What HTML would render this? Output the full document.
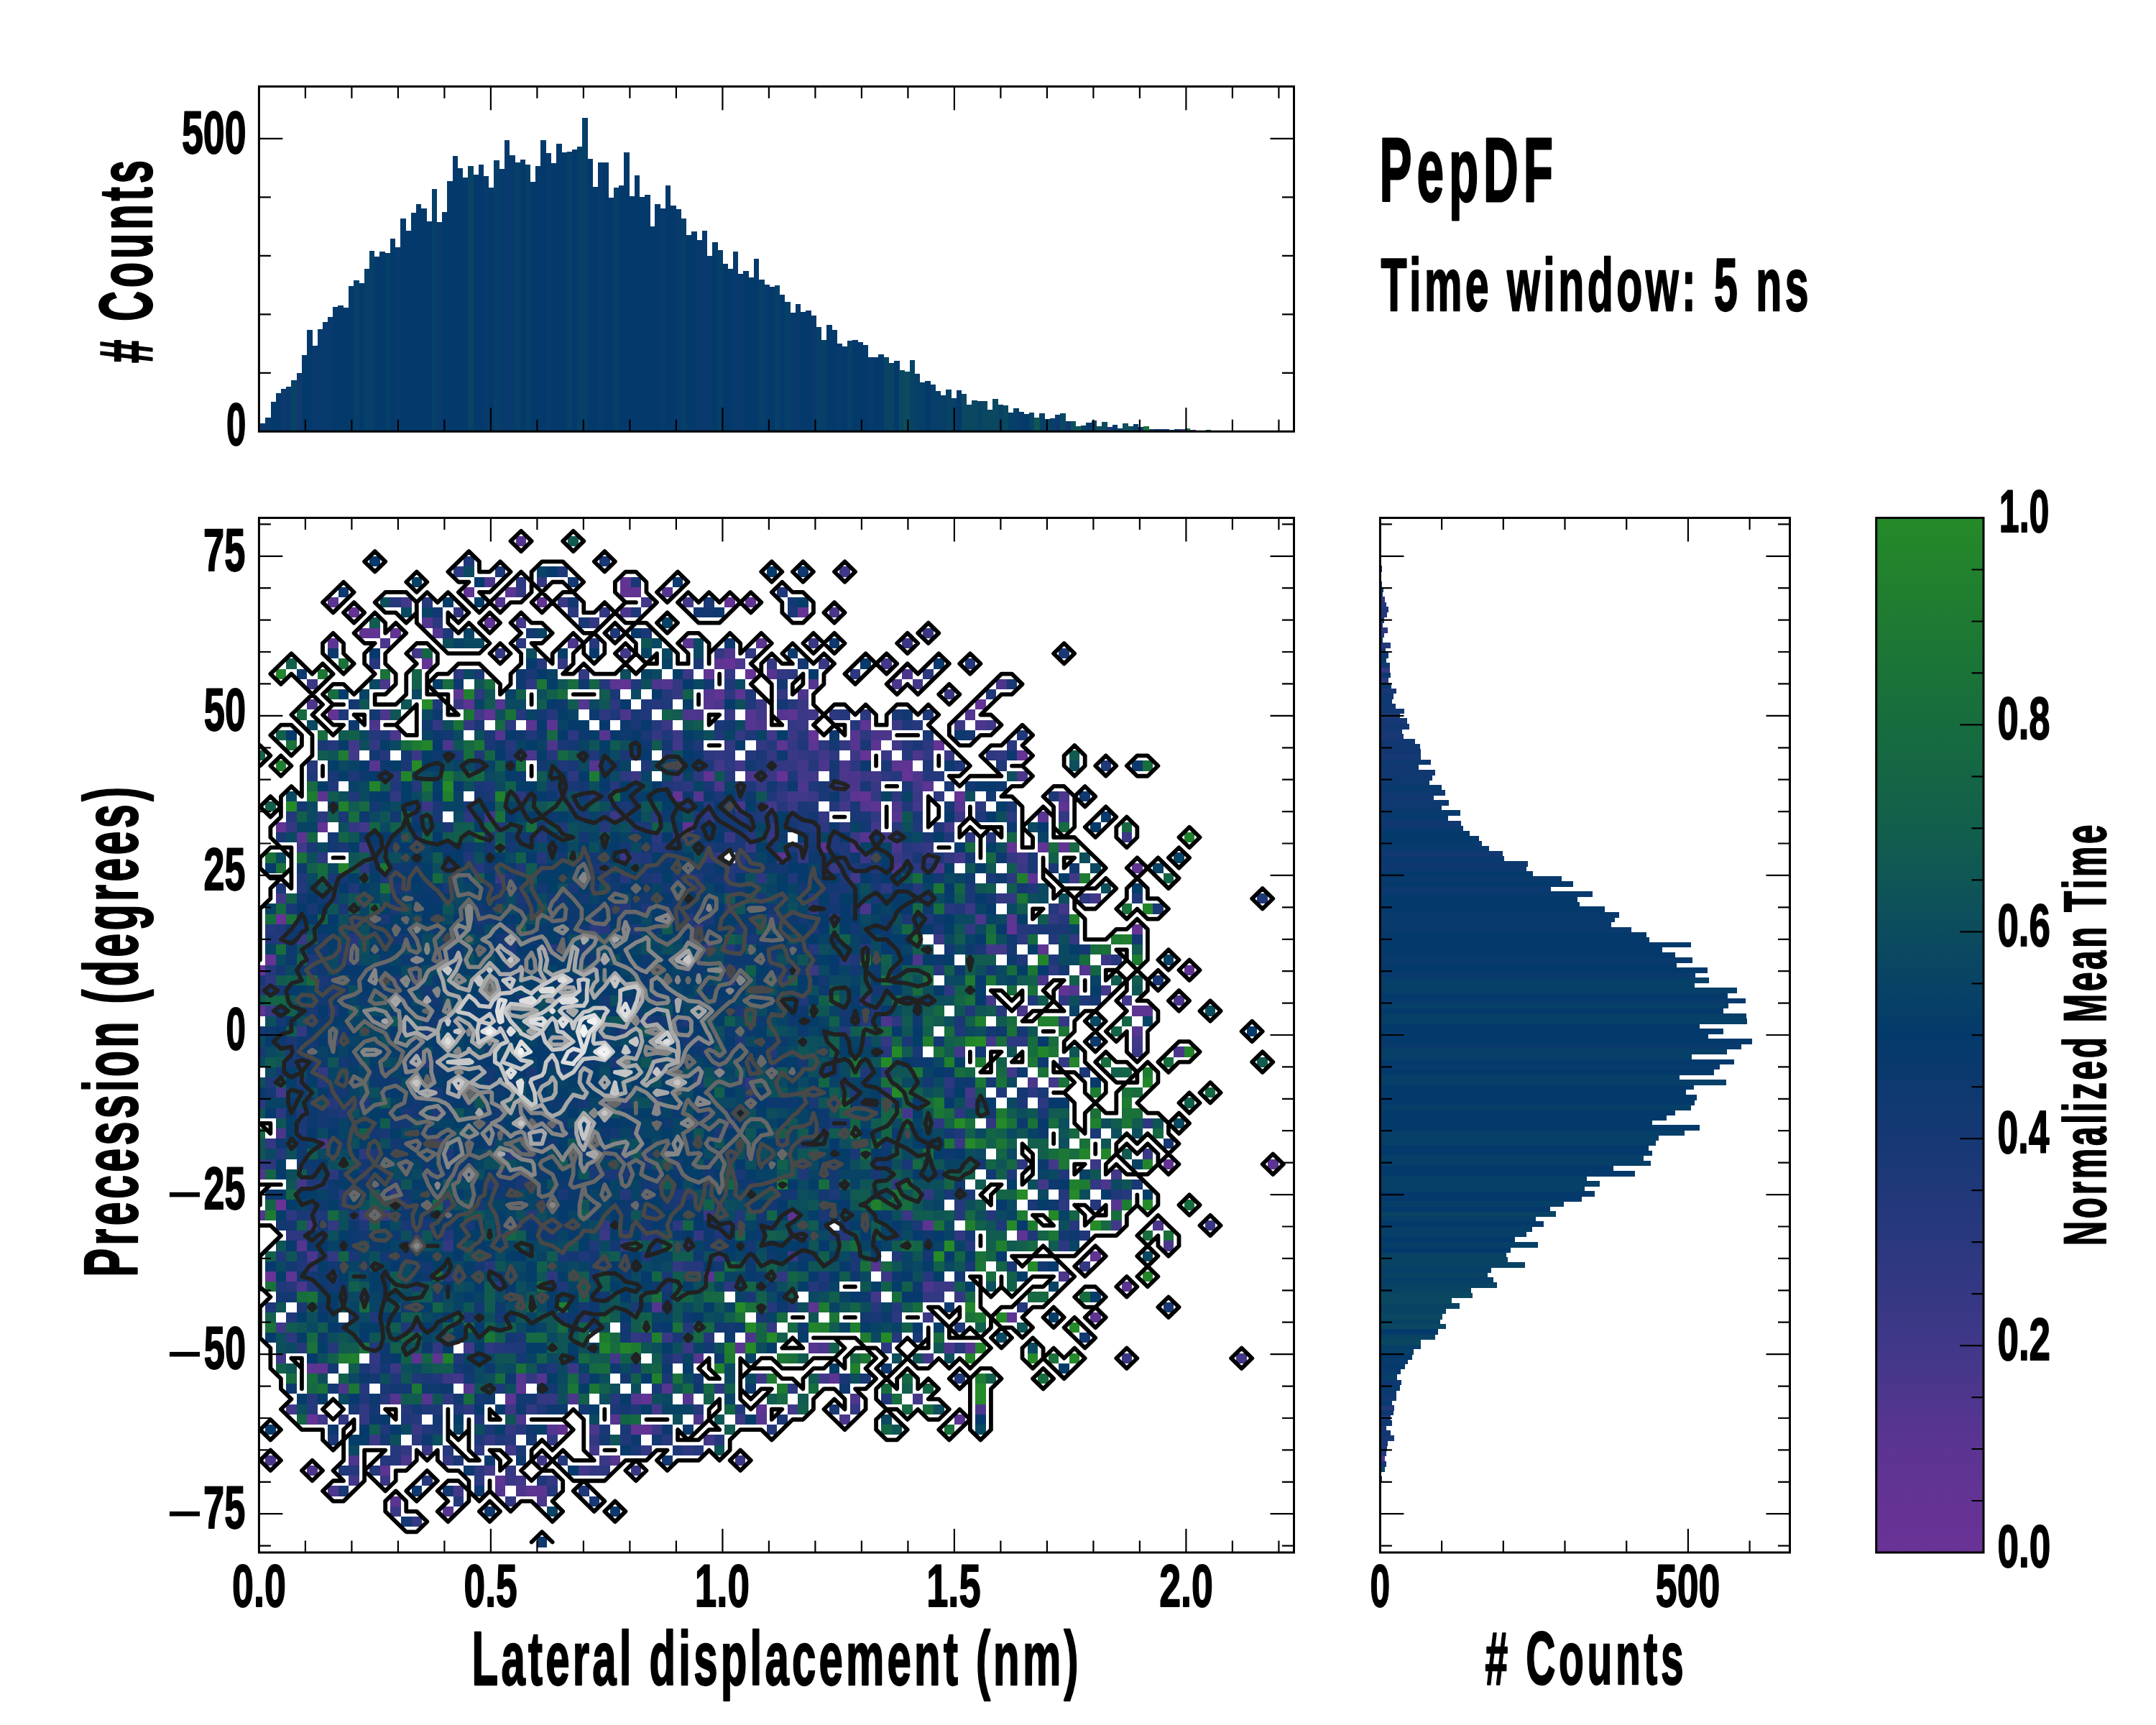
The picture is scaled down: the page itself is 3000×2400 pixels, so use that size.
<!DOCTYPE html><html><head><meta charset="utf-8"><style>html,body{margin:0;padding:0;background:#fff;overflow:hidden}svg{display:block}text{font-family:"Liberation Sans", sans-serif;font-weight:bold;fill:#000;stroke:#000;stroke-linejoin:round}</style></head><body>
<svg width="3000" height="2400" viewBox="0 0 3000 2400">
<rect width="3000" height="2400" fill="#fff"/>
<path fill="#0d3970" shape-rendering="crispEdges" d="M362.0 588.8H369.5V600.3H362.0ZM390.9 541.0H398.4V600.3H390.9ZM1468.0 577.1H1475.6V600.3H1468.0ZM1583.7 594.2H1591.2V600.3H1583.7Z"/>
<path fill="#093a6d" shape-rendering="crispEdges" d="M369.2 580.5H376.8V600.3H369.2ZM398.1 537.9H405.7V600.3H398.1ZM434.3 480.9H441.8V600.3H434.3ZM441.5 458.1H449.0V600.3H441.5ZM448.7 448.3H456.3V600.3H448.7ZM456.0 440.8H463.5V600.3H456.0ZM550.0 343.7H557.5V600.3H550.0ZM607.8 308.9H615.3V600.3H607.8ZM672.8 245.2H680.4V600.3H672.8ZM694.5 234.9H702.1V600.3H694.5ZM701.8 194.8H709.3V600.3H701.8ZM709.0 216.0H716.5V600.3H709.0ZM759.6 213.2H767.1V600.3H759.6ZM831.9 226.0H839.4V600.3H831.9ZM918.6 290.0H926.2V600.3H918.6ZM940.3 291.1H947.8V600.3H940.3ZM969.2 334.0H976.8V600.3H969.2ZM976.5 321.2H984.0V600.3H976.5ZM983.7 355.9H991.2V600.3H983.7ZM1019.8 350.1H1027.4V600.3H1019.8ZM1027.1 381.0H1034.6V600.3H1027.1ZM1063.2 396.0H1070.7V600.3H1063.2ZM1099.4 435.0H1106.9V600.3H1099.4ZM1106.6 423.0H1114.1V600.3H1106.6ZM1128.3 439.1H1135.8V600.3H1128.3ZM1164.4 478.1H1171.9V600.3H1164.4ZM1207.8 497.0H1215.3V600.3H1207.8ZM1417.4 573.0H1425.0V600.3H1417.4ZM1554.8 596.3H1562.3V600.3H1554.8Z"/>
<path fill="#043a6b" shape-rendering="crispEdges" d="M376.5 558.8H384.0V600.3H376.5ZM383.7 547.1H391.2V600.3H383.7ZM419.8 494.2H427.4V600.3H419.8ZM427.1 458.9H434.6V600.3H427.1ZM463.2 426.9H470.7V600.3H463.2ZM470.4 425.2H478.0V600.3H470.4ZM477.7 427.5H485.2V600.3H477.7ZM484.9 397.7H492.4V600.3H484.9ZM499.4 394.1H506.9V600.3H499.4ZM521.0 356.8H528.6V600.3H521.0ZM528.3 350.1H535.8V600.3H528.3ZM542.7 332.0H550.3V600.3H542.7ZM557.2 303.9H564.7V600.3H557.2ZM564.4 320.9H571.9V600.3H564.4ZM571.6 295.8H579.2V600.3H571.6ZM578.9 284.2H586.4V600.3H578.9ZM586.1 290.0H593.6V600.3H586.1ZM593.3 308.1H600.9V600.3H593.3ZM615.0 295.0H622.5V600.3H615.0ZM622.2 252.2H629.8V600.3H622.2ZM629.5 217.1H637.0V600.3H629.5ZM636.7 233.8H644.2V600.3H636.7ZM643.9 246.9H651.5V600.3H643.9ZM658.4 242.7H665.9V600.3H658.4ZM665.6 229.1H673.1V600.3H665.6ZM680.1 261.1H687.6V600.3H680.1ZM723.5 222.1H731.0V600.3H723.5ZM737.9 253.0H745.4V600.3H737.9ZM745.1 231.0H752.7V600.3H745.1ZM752.4 195.1H759.9V600.3H752.4ZM766.8 226.8H774.4V600.3H766.8ZM774.1 200.1H781.6V600.3H774.1ZM781.3 211.8H788.8V600.3H781.3ZM795.7 208.2H803.3V600.3H795.7ZM817.4 221.3H825.0V600.3H817.4ZM824.7 260.0H832.2V600.3H824.7ZM839.1 226.0H846.6V600.3H839.1ZM846.3 275.0H853.9V600.3H846.3ZM860.8 258.0H868.3V600.3H860.8ZM868.0 212.1H875.6V600.3H868.0ZM875.3 272.8H882.8V600.3H875.3ZM882.5 244.4H890.0V600.3H882.5ZM889.7 273.9H897.2V600.3H889.7ZM896.9 271.1H904.5V600.3H896.9ZM904.2 314.8H911.7V600.3H904.2ZM911.4 284.2H918.9V600.3H911.4ZM925.9 258.0H933.4V600.3H925.9ZM933.1 286.1H940.6V600.3H933.1ZM954.8 327.0H962.3V600.3H954.8ZM962.0 322.3H969.5V600.3H962.0ZM990.9 337.0H998.5V600.3H990.9ZM1005.4 366.8H1012.9V600.3H1005.4ZM1012.6 374.0H1020.1V600.3H1012.6ZM1034.3 377.4H1041.8V600.3H1034.3ZM1041.5 386.0H1049.1V600.3H1041.5ZM1048.8 359.8H1056.3V600.3H1048.8ZM1070.4 398.8H1078.0V600.3H1070.4ZM1084.9 410.2H1092.4V600.3H1084.9ZM1113.8 433.9H1121.3V600.3H1113.8ZM1121.0 431.9H1128.6V600.3H1121.0ZM1150.0 451.9H1157.5V600.3H1150.0ZM1157.2 458.9H1164.7V600.3H1157.2ZM1171.6 482.0H1179.2V600.3H1171.6ZM1186.1 472.8H1193.6V600.3H1186.1ZM1193.3 475.6H1200.9V600.3H1193.3ZM1200.6 480.0H1208.1V600.3H1200.6ZM1215.0 497.0H1222.6V600.3H1215.0ZM1222.3 492.8H1229.8V600.3H1222.3ZM1243.9 502.0H1251.5V600.3H1243.9ZM1287.3 529.8H1294.8V600.3H1287.3ZM1330.7 543.2H1338.2V600.3H1330.7ZM1424.7 576.0H1432.2V600.3H1424.7ZM1511.4 588.0H1518.9V600.3H1511.4ZM1547.6 591.2H1555.1V600.3H1547.6ZM1605.4 597.2H1612.9V600.3H1605.4Z"/>
<path fill="#084364" shape-rendering="crispEdges" d="M405.4 529.0H412.9V600.3H405.4ZM651.2 231.0H658.7V600.3H651.2ZM1229.5 497.0H1237.0V600.3H1229.5ZM1236.7 505.1H1244.2V600.3H1236.7ZM1265.6 501.2H1273.2V600.3H1265.6ZM1316.2 542.1H1323.8V600.3H1316.2ZM1359.6 558.0H1367.1V600.3H1359.6ZM1388.5 563.0H1396.0V600.3H1388.5ZM1431.9 574.1H1439.4V600.3H1431.9ZM1453.6 583.1H1461.1V600.3H1453.6ZM1518.6 585.2H1526.2V600.3H1518.6Z"/>
<path fill="#123872" shape-rendering="crispEdges" d="M412.6 518.7H420.1V600.3H412.6ZM1482.5 586.3H1490.0V600.3H1482.5Z"/>
<path fill="#063f68" shape-rendering="crispEdges" d="M492.1 389.9H499.7V600.3H492.1ZM506.6 373.8H514.1V600.3H506.6ZM513.8 349.0H521.3V600.3H513.8ZM535.5 351.8H543.0V600.3H535.5ZM600.6 263.3H608.1V600.3H600.6ZM687.3 222.9H694.8V600.3H687.3ZM716.2 226.0H723.8V600.3H716.2ZM730.7 229.1H738.2V600.3H730.7ZM788.5 211.0H796.0V600.3H788.5ZM803.0 203.8H810.5V600.3H803.0ZM810.2 164.0H817.7V600.3H810.2ZM853.6 261.1H861.1V600.3H853.6ZM947.5 303.9H955.1V600.3H947.5ZM998.2 347.9H1005.7V600.3H998.2ZM1056.0 389.1H1063.5V600.3H1056.0ZM1077.7 397.4H1085.2V600.3H1077.7ZM1092.1 419.9H1099.7V600.3H1092.1ZM1135.5 455.3H1143.0V600.3H1135.5ZM1142.7 472.8H1150.3V600.3H1142.7ZM1178.9 474.2H1186.4V600.3H1178.9ZM1272.9 520.1H1280.4V600.3H1272.9ZM1280.1 532.1H1287.6V600.3H1280.1ZM1294.5 535.1H1302.1V600.3H1294.5ZM1301.8 544.3H1309.3V600.3H1301.8ZM1309.0 550.2H1316.5V600.3H1309.0ZM1323.5 554.1H1331.0V600.3H1323.5ZM1403.0 574.1H1410.5V600.3H1403.0ZM1410.2 568.0H1417.7V600.3H1410.2ZM1446.3 575.3H1453.9V600.3H1446.3ZM1460.8 582.2H1468.3V600.3H1460.8ZM1504.2 592.3H1511.7V600.3H1504.2ZM1576.5 590.3H1584.0V600.3H1576.5Z"/>
<path fill="#0a4861" shape-rendering="crispEdges" d="M1251.2 514.8H1258.7V600.3H1251.2ZM1337.9 548.2H1345.4V600.3H1337.9ZM1345.1 563.0H1352.7V600.3H1345.1ZM1352.4 557.1H1359.9V600.3H1352.4ZM1366.8 558.2H1374.4V600.3H1366.8ZM1374.1 569.9H1381.6V600.3H1374.1ZM1381.3 554.9H1388.8V600.3H1381.3ZM1395.7 564.4H1403.3V600.3H1395.7ZM1475.3 575.3H1482.8V600.3H1475.3ZM1627.1 598.1H1634.6V600.3H1627.1ZM1634.3 597.2H1641.8V600.3H1634.3ZM1677.7 598.4H1685.2V600.3H1677.7Z"/>
<path fill="#0c4c5e" shape-rendering="crispEdges" d="M1258.4 517.1H1265.9V600.3H1258.4ZM1525.9 593.1H1533.4V600.3H1525.9ZM1533.1 587.2H1540.6V600.3H1533.1ZM1569.2 593.1H1576.8V600.3H1569.2Z"/>
<path fill="#0f5655" shape-rendering="crispEdges" d="M1439.1 581.3H1446.7V600.3H1439.1ZM1497.0 593.1H1504.5V600.3H1497.0Z"/>
<path fill="#0e515a" shape-rendering="crispEdges" d="M1489.7 586.3H1497.3V600.3H1489.7ZM1562.0 589.3H1569.5V600.3H1562.0ZM1598.2 597.2H1605.7V600.3H1598.2Z"/>
<path fill="#203879" shape-rendering="crispEdges" d="M1540.3 594.2H1547.9V600.3H1540.3Z"/>
<path fill="#1a7338" shape-rendering="crispEdges" d="M1590.9 593.1H1598.5V600.3H1590.9ZM1648.8 596.0H1656.3V600.3H1648.8Z"/>
<path fill="#163874" shape-rendering="crispEdges" d="M1612.6 597.2H1620.1V600.3H1612.6ZM1619.8 597.2H1627.4V600.3H1619.8Z"/>
<path fill="#4e368d" shape-rendering="crispEdges" d="M1641.5 597.2H1649.1V600.3H1641.5Z"/>
<path fill="#633394" shape-rendering="crispEdges" d="M1656.0 598.1H1663.5V600.3H1656.0Z"/>
<path fill="#163874" shape-rendering="crispEdges" d="M1920.4 787.4H1922.5V795.5H1920.4ZM1920.4 822.9H1924.2V831.0H1920.4ZM1920.4 900.8H1927.7V908.3H1920.4ZM1920.4 999.3H1958.0V1007.4H1920.4ZM1920.4 1013.9H1950.7V1021.4H1920.4ZM1920.4 1049.4H1976.8V1057.5H1920.4ZM1920.4 1968.5H1934.9V1976.5H1920.4ZM1920.4 1996.6H1939.7V2004.5H1920.4Z"/>
<path fill="#203879" shape-rendering="crispEdges" d="M1920.4 802.0H1922.1V810.2H1920.4ZM1920.4 844.4H1931.9V852.3H1920.4ZM1920.4 1954.8H1939.7V1962.6H1920.4ZM1920.4 2018.2H1928.7V2026.1H1920.4Z"/>
<path fill="#2a387e" shape-rendering="crispEdges" d="M1920.4 809.4H1922.9V817.5H1920.4ZM1920.4 865.7H1923.6V873.8H1920.4ZM1920.4 879.9H1925.7V887.4H1920.4ZM1920.4 942.5H1931.9V951.0H1920.4ZM1920.4 2068.9H1921.7V2076.7H1920.4Z"/>
<path fill="#0d3970" shape-rendering="crispEdges" d="M1920.4 816.7H1924.6V823.7H1920.4ZM1920.4 907.5H1931.9V915.6H1920.4ZM1920.4 935.6H1935.0V943.3H1920.4ZM1920.4 971.7H1936.7V979.6H1920.4ZM1920.4 1056.7H1991.0V1064.4H1920.4ZM1920.4 1070.9H1996.7V1078.6H1920.4ZM1920.4 1077.8H1992.9V1085.7H1920.4ZM1920.4 1084.9H1989.1V1092.6H1920.4ZM1920.4 1098.9H2010.8V1106.6H1920.4ZM1920.4 1113.0H2015.9V1120.7H1920.4ZM1920.4 1119.9H2006.2V1127.8H1920.4ZM1920.4 1197.9H2125.8V1205.6H1920.4ZM1920.4 1204.8H2124.3V1212.7H1920.4ZM1920.4 1232.9H2158.0V1240.8H1920.4ZM1920.4 1919.6H1949.9V1927.4H1920.4ZM1920.4 1961.8H1938.6V1969.3H1920.4ZM1920.4 1975.7H1937.1V1983.6H1920.4Z"/>
<path fill="#2f3880" shape-rendering="crispEdges" d="M1920.4 830.2H1926.7V838.3H1920.4ZM1920.4 873.0H1930.9V880.7H1920.4Z"/>
<path fill="#25387c" shape-rendering="crispEdges" d="M1920.4 837.5H1928.8V845.2H1920.4ZM1920.4 851.5H1929.8V859.2H1920.4ZM1920.4 893.9H1935.0V901.6H1920.4Z"/>
<path fill="#1b3876" shape-rendering="crispEdges" d="M1920.4 858.4H1925.7V866.5H1920.4ZM1920.4 957.5H1943.0V965.2H1920.4ZM1920.4 992.6H1948.0V1000.1H1920.4ZM1920.4 1020.6H1952.8V1028.7H1920.4ZM1920.4 1982.8H1928.7V1990.4H1920.4ZM1920.4 2003.7H1930.9V2011.8H1920.4ZM1920.4 2011.0H1930.3V2019.0H1920.4ZM1920.4 2032.6H1928.7V2040.8H1920.4ZM1920.4 2061.6H1922.1V2069.7H1920.4Z"/>
<path fill="#084364" shape-rendering="crispEdges" d="M1920.4 886.6H1923.6V894.7H1920.4ZM1920.4 1685.2H2164.6V1693.2H1920.4ZM1920.4 1742.1H2096.2V1749.8H1920.4ZM1920.4 1749.0H2098.0V1756.9H1920.4ZM1920.4 1756.1H2121.7V1763.8H1920.4ZM1920.4 1770.2H2070.2V1777.8H1920.4ZM1920.4 1784.2H2082.7V1791.9H1920.4ZM1920.4 1791.4H2047.0V1799.7H1920.4ZM1920.4 1812.7H2030.9V1821.2H1920.4ZM1920.4 1820.4H2012.0V1828.3H1920.4ZM1920.4 1834.8H2004.1V1842.8H1920.4ZM1920.4 1855.7H1997.0V1863.5H1920.4Z"/>
<path fill="#093a6d" shape-rendering="crispEdges" d="M1920.4 914.8H1928.8V922.4H1920.4ZM1920.4 950.2H1936.1V958.3H1920.4ZM1920.4 1091.8H2005.7V1099.7H1920.4ZM1920.4 1127.0H2031.9V1134.7H1920.4ZM1920.4 1133.9H2015.1V1142.3H1920.4ZM1920.4 1148.7H2035.8V1156.6H1920.4ZM1920.4 1169.9H2062.0V1177.5H1920.4ZM1920.4 1176.7H2071.7V1184.7H1920.4ZM1920.4 1190.8H2092.9V1198.7H1920.4ZM1920.4 1218.8H2172.8V1226.8H1920.4ZM1920.4 1240.0H2215.6V1248.2H1920.4ZM1920.4 1268.6H2252.9V1276.5H1920.4ZM1920.4 1275.7H2246.7V1283.4H1920.4ZM1920.4 1282.6H2242.1V1290.3H1920.4ZM1920.4 1289.5H2269.7V1297.4H1920.4ZM1920.4 1331.8H2354.9V1339.5H1920.4ZM1920.4 1353.3H2359.0V1361.2H1920.4ZM1920.4 1388.5H2428.6V1396.4H1920.4ZM1920.4 1452.6H2422.8V1460.2H1920.4ZM1920.4 1480.6H2392.9V1488.3H1920.4ZM1920.4 1890.9H1958.9V1898.3H1920.4ZM1920.4 1904.6H1949.0V1912.2H1920.4ZM1920.4 1926.6H1947.9V1934.7H1920.4ZM1920.4 1933.9H1943.0V1941.3H1920.4ZM1920.4 1947.7H1936.9V1955.6H1920.4Z"/>
<path fill="#123872" shape-rendering="crispEdges" d="M1920.4 921.6H1933.6V929.8H1920.4ZM1920.4 964.4H1938.8V972.5H1920.4ZM1920.4 978.8H1941.9V986.5H1920.4ZM1920.4 985.7H1953.8V993.4H1920.4ZM1920.4 1006.6H1960.7V1014.7H1920.4ZM1920.4 1027.9H1969.1V1035.6H1920.4ZM1920.4 1034.8H1976.0V1042.9H1920.4ZM1920.4 1042.1H1976.8V1050.2H1920.4ZM1920.4 1063.6H1973.7V1071.5H1920.4ZM1920.4 1070.7H1996.8V1079.0H1920.4ZM1920.4 1105.8H1994.9V1113.8H1920.4ZM1920.4 1141.5H2033.0V1149.5H1920.4ZM1920.4 1183.9H2091.1V1191.6H1920.4ZM1920.4 1940.5H1943.0V1948.5H1920.4ZM1920.4 1989.6H1934.7V1997.4H1920.4Z"/>
<path fill="#353883" shape-rendering="crispEdges" d="M1920.4 929.0H1933.6V936.4H1920.4Z"/>
<path fill="#043a6b" shape-rendering="crispEdges" d="M1920.4 1155.8H2044.7V1163.5H1920.4ZM1920.4 1162.7H2058.0V1170.7H1920.4ZM1920.4 1211.9H2132.7V1219.6H1920.4ZM1920.4 1226.0H2188.8V1233.7H1920.4ZM1920.4 1247.4H2194.9V1255.3H1920.4ZM1920.4 1254.5H2197.8V1262.2H1920.4ZM1920.4 1261.4H2233.0V1269.4H1920.4ZM1920.4 1296.6H2290.9V1304.6H1920.4ZM1920.4 1303.8H2294.7V1311.5H1920.4ZM1920.4 1310.7H2352.9V1318.4H1920.4ZM1920.4 1317.6H2313.1V1325.5H1920.4ZM1920.4 1324.7H2330.9V1332.6H1920.4ZM1920.4 1338.7H2333.0V1347.2H1920.4ZM1920.4 1346.4H2375.8V1354.1H1920.4ZM1920.4 1381.3H2403.9V1389.3H1920.4ZM1920.4 1402.5H2397.8V1410.5H1920.4ZM1920.4 1423.7H2364.8V1431.4H1920.4ZM1920.4 1430.6H2397.8V1438.5H1920.4ZM1920.4 1438.5H2376.8V1446.2H1920.4ZM1920.4 1445.4H2437.6V1453.4H1920.4ZM1920.4 1473.5H2413.1V1481.4H1920.4ZM1920.4 1487.5H2384.5V1495.5H1920.4ZM1920.4 1508.7H2356.9V1516.4H1920.4ZM1920.4 1515.6H2345.7V1523.5H1920.4ZM1920.4 1522.7H2361.0V1531.2H1920.4ZM1920.4 1530.4H2357.7V1538.1H1920.4ZM1920.4 1544.4H2330.9V1552.1H1920.4ZM1920.4 1551.3H2318.7V1559.2H1920.4ZM1920.4 1558.4H2299.0V1566.1H1920.4ZM1920.4 1565.3H2364.8V1573.3H1920.4ZM1920.4 1593.4H2293.9V1601.3H1920.4ZM1920.4 1600.5H2299.0V1608.2H1920.4ZM1920.4 1621.4H2244.9V1629.9H1920.4ZM1920.4 1629.1H2274.8V1637.0H1920.4ZM1920.4 1657.2H2218.9V1665.1H1920.4ZM1920.4 1664.3H2200.8V1672.0H1920.4ZM1920.4 1678.3H2156.9V1686.0H1920.4ZM1920.4 1699.2H2147.8V1707.2H1920.4ZM1920.4 1720.4H2107.7V1728.9H1920.4ZM1920.4 1735.0H2101.8V1742.9H1920.4ZM1920.4 1848.6H2000.7V1856.5H1920.4ZM1920.4 1883.9H1964.6V1891.7H1920.4ZM1920.4 1897.5H1954.9V1905.4H1920.4ZM1920.4 2053.9H1922.6V2062.4H1920.4Z"/>
<path fill="#063f68" shape-rendering="crispEdges" d="M1920.4 1360.4H2377.9V1368.4H1920.4ZM1920.4 1367.6H2358.0V1375.2H1920.4ZM1920.4 1374.4H2416.9V1382.1H1920.4ZM1920.4 1395.6H2404.9V1403.3H1920.4ZM1920.4 1409.7H2429.6V1417.3H1920.4ZM1920.4 1416.5H2430.7V1424.5H1920.4ZM1920.4 1459.4H2402.9V1467.4H1920.4ZM1920.4 1466.6H2353.9V1474.3H1920.4ZM1920.4 1494.7H2336.8V1502.3H1920.4ZM1920.4 1501.5H2401.8V1509.5H1920.4ZM1920.4 1537.3H2352.9V1545.2H1920.4ZM1920.4 1572.5H2343.7V1580.1H1920.4ZM1920.4 1579.3H2308.0V1587.3H1920.4ZM1920.4 1586.5H2303.9V1594.2H1920.4ZM1920.4 1607.4H2286.8V1615.3H1920.4ZM1920.4 1614.5H2297.0V1622.2H1920.4ZM1920.4 1636.2H2207.7V1644.2H1920.4ZM1920.4 1643.4H2225.8V1651.1H1920.4ZM1920.4 1650.3H2204.9V1658.0H1920.4ZM1920.4 1671.2H2176.1V1679.1H1920.4ZM1920.4 1692.4H2137.0V1700.0H1920.4ZM1920.4 1706.4H2131.9V1714.1H1920.4ZM1920.4 1713.3H2123.8V1721.2H1920.4ZM1920.4 1728.1H2139.8V1735.8H1920.4ZM1920.4 1763.0H2074.8V1771.0H1920.4ZM1920.4 1777.0H2077.9V1785.0H1920.4ZM1920.4 1870.0H1976.7V1877.4H1920.4ZM1920.4 1876.6H1966.8V1884.7H1920.4ZM1920.4 1911.4H1943.7V1920.4H1920.4Z"/>
<path fill="#0a4861" shape-rendering="crispEdges" d="M1920.4 1798.9H2049.0V1806.3H1920.4ZM1920.4 1805.5H2019.7V1813.5H1920.4ZM1920.4 1827.5H2006.9V1835.6H1920.4ZM1920.4 1842.0H2012.0V1849.4H1920.4ZM1920.4 1862.7H1976.7V1870.8H1920.4ZM1920.4 2040.0H1926.5V2047.7H1920.4ZM1920.4 2046.9H1921.5V2054.7H1920.4Z"/>
<path fill="#47378a" shape-rendering="crispEdges" d="M1920.4 2025.3H1926.5V2033.4H1920.4Z"/>
<defs><clipPath id="mclip"><rect x="360.4" y="720.5" width="1440.1" height="1439.5"/></clipPath></defs><g clip-path="url(#mclip)"><g transform="translate(354.57 731.60) scale(14.530 14.210)" shape-rendering="crispEdges"><path fill="#6a3296" d="M2 38h1v1h-1zM0 43h1v1h-1zM2 66h1v1h-1zM1 73h1v1h-1z"/><path fill="#653395" d="M45 7h1v1h-1zM9 8h1v1h-1zM52 8h1v1h-1zM45 13h1v1h-1zM47 14h1v1h-1zM69 17h1v1h-1zM53 20h1v1h-1zM65 21h1v1h-1zM58 22h1v1h-1zM73 22h1v1h-1zM50 24h1v1h-1zM62 24h1v1h-1zM67 26h1v1h-1zM84 39h1v1h-1zM1 42h1v1h-1zM87 62h1v1h-1zM5 87h1v1h-1z"/><path fill="#613393" d="M35 5h1v1h-1zM20 6h1v1h-1zM35 6h2v1h-2zM27 7h1v1h-1zM47 7h1v1h-1zM22 9h1v1h-1zM10 10h2v1h-2zM13 10h1v1h-1zM16 13h1v1h-1zM43 14h1v1h-1zM35 15h1v1h-1zM44 16h1v1h-1zM7 18h1v1h-1zM22 18h1v1h-1zM62 23h1v1h-1zM43 24h1v1h-1zM40 26h1v1h-1zM58 26h1v1h-1zM2 29h1v1h-1zM6 29h1v1h-1zM41 29h1v1h-1zM72 31h1v1h-1zM75 31h1v1h-1zM77 31h1v1h-1zM84 33h1v1h-1zM72 39h1v1h-1zM89 43h1v1h-1zM77 45h1v1h-1zM0 47h1v1h-1zM80 71h1v1h-1zM37 85h1v1h-1zM29 88h1v1h-1zM36 88h2v1h-2z"/><path fill="#5c3492" d="M24 6h1v1h-1zM7 7h1v1h-1zM7 11h1v1h-1zM41 11h1v1h-1zM48 11h1v1h-1zM44 13h1v1h-1zM34 15h1v1h-1zM19 16h1v1h-1zM46 16h1v1h-1zM20 17h1v1h-1zM51 18h1v1h-1zM26 19h1v1h-1zM28 19h1v1h-1zM58 19h1v1h-1zM50 21h1v1h-1zM53 21h1v1h-1zM59 21h1v1h-1zM61 23h1v1h-1zM64 25h1v1h-1zM6 26h1v1h-1zM57 26h1v1h-1zM59 27h1v1h-1zM77 27h1v1h-1zM75 28h1v1h-1zM4 30h1v1h-1zM54 31h1v1h-1zM50 32h1v1h-1zM74 34h1v1h-1zM72 38h1v1h-1zM75 41h1v1h-1zM84 47h2v1h-2zM97 62h1v1h-1zM51 67h1v1h-1zM64 68h1v1h-1zM73 69h1v1h-1zM3 73h1v1h-1zM43 73h1v1h-1zM83 74h1v1h-1zM53 76h1v1h-1zM72 77h1v1h-1zM80 77h1v1h-1zM46 80h1v1h-1zM15 81h1v1h-1zM17 81h1v1h-1zM5 82h2v1h-2zM55 83h1v1h-1zM25 84h1v1h-1zM24 85h1v1h-1zM48 86h1v1h-1zM67 87h1v1h-1zM12 92h1v1h-1zM23 93h1v1h-1zM26 94h2v1h-2zM13 95h1v1h-1z"/><path fill="#54358f" d="M25 1h1v1h-1zM39 6h1v1h-1zM23 7h1v1h-1zM16 9h1v1h-1zM17 10h1v1h-1zM49 14h1v1h-1zM39 15h1v1h-1zM53 15h1v1h-1zM43 16h1v1h-1zM23 17h1v1h-1zM31 17h1v1h-1zM43 17h1v1h-1zM47 18h1v1h-1zM50 18h1v1h-1zM68 18h1v1h-1zM47 19h1v1h-1zM23 20h1v1h-1zM33 20h1v1h-1zM57 20h1v1h-1zM57 21h1v1h-1zM11 23h1v1h-1zM32 23h1v1h-1zM42 26h1v1h-1zM58 27h1v1h-1zM67 27h1v1h-1zM61 28h1v1h-1zM58 30h1v1h-1zM57 31h1v1h-1zM79 43h1v1h-1zM78 45h1v1h-1zM84 49h1v1h-1zM0 63h1v1h-1zM82 66h1v1h-1zM0 67h1v1h-1zM4 70h1v1h-1zM59 72h1v1h-1zM38 76h1v1h-1zM53 80h1v1h-1zM68 80h1v1h-1zM42 81h1v1h-1zM25 83h1v1h-1zM27 83h1v1h-1zM20 84h1v1h-1zM39 84h1v1h-1zM13 85h1v1h-1zM16 85h1v1h-1zM36 85h1v1h-1zM41 85h1v1h-1zM34 87h1v1h-1zM48 87h1v1h-1zM28 88h1v1h-1zM34 91h1v1h-1zM23 94h1v1h-1zM18 96h1v1h-1z"/><path fill="#4b368c" d="M22 5h1v1h-1zM35 8h1v1h-1zM55 8h1v1h-1zM12 11h1v1h-1zM30 11h1v1h-1zM45 12h1v1h-1zM46 13h1v1h-1zM62 14h1v1h-1zM12 15h1v1h-1zM38 15h1v1h-1zM61 15h1v1h-1zM71 15h1v1h-1zM52 16h1v1h-1zM5 17h1v1h-1zM44 17h1v1h-1zM12 18h1v1h-1zM35 18h1v1h-1zM41 18h2v1h-2zM11 19h1v1h-1zM48 19h1v1h-1zM69 19h1v1h-1zM13 20h1v1h-1zM59 20h2v1h-2zM18 21h1v1h-1zM28 21h1v1h-1zM26 22h1v1h-1zM63 22h1v1h-1zM54 23h1v1h-1zM56 23h1v1h-1zM47 24h1v1h-1zM56 24h2v1h-2zM63 24h1v1h-1zM73 24h1v1h-1zM44 25h1v1h-1zM52 25h1v1h-1zM57 25h1v1h-1zM77 26h1v1h-1zM46 27h1v1h-1zM61 27h1v1h-1zM61 31h1v1h-1zM61 33h1v1h-1zM65 33h1v1h-1zM58 37h1v1h-1zM69 38h1v1h-1zM63 42h1v1h-1zM75 44h1v1h-1zM88 46h1v1h-1zM73 47h1v1h-1zM60 48h1v1h-1zM88 51h1v1h-1zM74 54h1v1h-1zM2 59h1v1h-1zM6 60h1v1h-1zM81 64h1v1h-1zM86 68h1v1h-1zM87 70h1v1h-1zM5 71h1v1h-1zM77 73h1v1h-1zM4 74h1v1h-1zM64 74h1v1h-1zM47 79h1v1h-1zM54 80h1v1h-1zM66 80h1v1h-1zM8 84h1v1h-1zM30 85h1v1h-1zM57 85h1v1h-1zM69 86h1v1h-1zM25 87h1v1h-1zM42 87h1v1h-1zM56 87h1v1h-1zM32 88h1v1h-1zM1 91h1v1h-1zM9 91h1v1h-1zM14 91h1v1h-1zM5 92h1v1h-1zM7 94h1v1h-1zM25 94h1v1h-1zM27 95h1v1h-1z"/><path fill="#423889" d="M56 4h1v1h-1zM14 7h1v1h-1zM37 7h1v1h-1zM41 7h1v1h-1zM25 9h1v1h-1zM15 12h1v1h-1zM35 12h1v1h-1zM60 13h1v1h-1zM63 15h1v1h-1zM21 18h1v1h-1zM48 18h1v1h-1zM53 18h1v1h-1zM70 19h1v1h-1zM49 20h1v1h-1zM9 21h1v1h-1zM40 21h1v1h-1zM61 21h1v1h-1zM9 22h1v1h-1zM54 22h1v1h-1zM44 23h1v1h-1zM46 23h1v1h-1zM52 23h1v1h-1zM52 24h2v1h-2zM59 24h1v1h-1zM56 25h1v1h-1zM63 25h1v1h-1zM51 26h2v1h-2zM49 27h1v1h-1zM56 27h1v1h-1zM63 27h1v1h-1zM22 28h1v1h-1zM10 29h1v1h-1zM59 29h1v1h-1zM66 29h1v1h-1zM60 30h1v1h-1zM4 31h1v1h-1zM10 31h1v1h-1zM67 32h1v1h-1zM73 32h1v1h-1zM57 34h1v1h-1zM78 34h1v1h-1zM2 36h1v1h-1zM80 36h1v1h-1zM77 37h1v1h-1zM70 41h2v1h-2zM81 45h1v1h-1zM70 46h1v1h-1zM83 46h1v1h-1zM70 50h1v1h-1zM84 50h1v1h-1zM67 51h1v1h-1zM72 53h1v1h-1zM76 54h1v1h-1zM2 55h1v1h-1zM68 55h1v1h-1zM62 57h1v1h-1zM76 62h1v1h-1zM82 63h1v1h-1zM4 64h1v1h-1zM75 64h1v1h-1zM5 68h1v1h-1zM82 68h1v1h-1zM59 75h1v1h-1zM2 78h1v1h-1zM20 80h1v1h-1zM2 81h1v1h-1zM34 81h1v1h-1zM64 81h1v1h-1zM94 81h1v1h-1zM19 83h1v1h-1zM54 83h1v1h-1zM63 85h1v1h-1zM3 86h1v1h-1zM38 86h1v1h-1zM51 86h1v1h-1zM6 87h1v1h-1zM43 89h1v1h-1zM24 90h1v1h-1zM32 90h1v1h-1zM27 91h1v1h-1zM22 92h1v1h-1zM31 92h1v1h-1zM9 93h1v1h-1zM25 93h1v1h-1zM19 94h1v1h-1z"/><path fill="#3a3885" d="M29 7h1v1h-1zM64 10h1v1h-1zM53 11h1v1h-1zM62 11h1v1h-1zM54 13h1v1h-1zM41 14h1v1h-1zM5 15h1v1h-1zM66 16h1v1h-1zM19 17h1v1h-1zM48 17h1v1h-1zM52 17h1v1h-1zM45 18h1v1h-1zM52 18h1v1h-1zM39 19h1v1h-1zM52 19h1v1h-1zM61 19h1v1h-1zM67 19h1v1h-1zM40 20h1v1h-1zM51 20h1v1h-1zM15 22h1v1h-1zM51 22h1v1h-1zM57 22h1v1h-1zM60 22h1v1h-1zM66 22h1v1h-1zM36 24h1v1h-1zM40 24h1v1h-1zM49 24h1v1h-1zM58 24h1v1h-1zM59 25h1v1h-1zM53 26h1v1h-1zM63 26h1v1h-1zM16 27h1v1h-1zM51 27h1v1h-1zM34 28h1v1h-1zM67 28h1v1h-1zM45 30h1v1h-1zM57 30h1v1h-1zM83 30h1v1h-1zM47 31h1v1h-1zM35 32h1v1h-1zM58 32h1v1h-1zM61 32h1v1h-1zM55 33h1v1h-1zM73 33h1v1h-1zM23 34h1v1h-1zM68 37h1v1h-1zM4 40h1v1h-1zM65 40h1v1h-1zM81 42h1v1h-1zM53 43h1v1h-1zM58 46h1v1h-1zM1 47h1v1h-1zM84 51h1v1h-1zM68 56h1v1h-1zM67 60h1v1h-1zM85 61h1v1h-1zM80 62h1v1h-1zM10 67h1v1h-1zM12 67h1v1h-1zM43 67h1v1h-1zM62 67h1v1h-1zM91 68h1v1h-1zM33 69h1v1h-1zM51 71h1v1h-1zM60 73h1v1h-1zM65 74h2v1h-2zM64 77h1v1h-1zM39 79h1v1h-1zM41 80h1v1h-1zM83 81h1v1h-1zM13 82h1v1h-1zM30 82h1v1h-1zM18 83h1v1h-1zM48 83h1v1h-1zM24 86h1v1h-1zM46 87h1v1h-1zM15 88h1v1h-1zM38 88h1v1h-1zM11 89h1v1h-1zM16 90h1v1h-1zM33 91h1v1h-1zM46 91h1v1h-1zM36 92h1v1h-1zM12 93h1v1h-1zM24 93h1v1h-1zM13 96h1v1h-1z"/><path fill="#333882" d="M27 5h1v1h-1zM25 6h1v1h-1zM19 8h1v1h-1zM33 8h1v1h-1zM32 9h1v1h-1zM23 12h1v1h-1zM44 12h1v1h-1zM47 12h1v1h-1zM29 13h1v1h-1zM49 13h1v1h-1zM31 14h1v1h-1zM45 14h1v1h-1zM50 14h1v1h-1zM40 15h1v1h-1zM40 16h1v1h-1zM50 16h1v1h-1zM17 19h1v1h-1zM20 19h1v1h-1zM51 19h1v1h-1zM38 20h1v1h-1zM46 20h1v1h-1zM11 21h1v1h-1zM45 21h1v1h-1zM48 21h1v1h-1zM51 21h1v1h-1zM56 21h1v1h-1zM44 22h1v1h-1zM49 22h1v1h-1zM52 22h1v1h-1zM64 22h1v1h-1zM71 22h1v1h-1zM50 23h2v1h-2zM48 25h1v1h-1zM13 26h1v1h-1zM50 26h1v1h-1zM56 26h1v1h-1zM59 26h1v1h-1zM54 28h1v1h-1zM59 28h1v1h-1zM77 28h1v1h-1zM3 29h1v1h-1zM9 29h1v1h-1zM49 29h1v1h-1zM49 30h1v1h-1zM64 31h1v1h-1zM44 32h1v1h-1zM52 32h1v1h-1zM64 32h1v1h-1zM66 32h1v1h-1zM72 32h1v1h-1zM71 36h2v1h-2zM53 37h1v1h-1zM55 38h1v1h-1zM76 38h1v1h-1zM42 39h1v1h-1zM68 39h1v1h-1zM78 40h1v1h-1zM43 41h1v1h-1zM77 48h1v1h-1zM4 49h1v1h-1zM60 50h1v1h-1zM77 52h1v1h-1zM6 53h1v1h-1zM70 58h1v1h-1zM1 60h1v1h-1zM17 60h1v1h-1zM0 62h1v1h-1zM61 64h1v1h-1zM80 64h1v1h-1zM64 65h1v1h-1zM7 68h1v1h-1zM33 68h1v1h-1zM42 69h1v1h-1zM67 69h1v1h-1zM18 70h1v1h-1zM35 70h1v1h-1zM7 71h1v1h-1zM44 71h1v1h-1zM40 72h1v1h-1zM79 72h1v1h-1zM50 73h1v1h-1zM64 75h2v1h-2zM67 75h1v1h-1zM49 78h1v1h-1zM36 79h1v1h-1zM17 80h1v1h-1zM11 81h1v1h-1zM26 83h1v1h-1zM27 85h2v1h-2zM10 86h1v1h-1zM26 86h1v1h-1zM57 86h1v1h-1zM8 87h1v1h-1zM10 87h1v1h-1zM24 88h1v1h-1zM22 89h1v1h-1zM28 89h1v1h-1zM32 89h1v1h-1zM14 90h1v1h-1zM37 90h1v1h-1zM18 91h1v1h-1zM24 92h1v1h-1zM32 92h1v1h-1zM28 93h1v1h-1zM24 95h1v1h-1zM15 97h1v1h-1z"/><path fill="#2c387f" d="M19 4h1v1h-1zM25 5h1v1h-1zM30 8h1v1h-1zM17 9h1v1h-1zM25 11h1v1h-1zM19 14h1v1h-1zM51 14h1v1h-1zM57 14h1v1h-1zM64 14h1v1h-1zM26 15h1v1h-1zM21 16h1v1h-1zM45 16h1v1h-1zM34 17h1v1h-1zM33 18h1v1h-1zM55 18h1v1h-1zM58 18h1v1h-1zM24 19h1v1h-1zM30 20h1v1h-1zM58 20h1v1h-1zM54 21h1v1h-1zM64 21h1v1h-1zM72 21h1v1h-1zM43 22h1v1h-1zM45 22h1v1h-1zM53 22h1v1h-1zM55 22h1v1h-1zM70 22h1v1h-1zM45 23h1v1h-1zM49 23h1v1h-1zM57 23h1v1h-1zM30 24h1v1h-1zM35 24h1v1h-1zM42 24h1v1h-1zM60 24h1v1h-1zM41 25h1v1h-1zM55 25h1v1h-1zM25 26h1v1h-1zM61 26h1v1h-1zM65 26h1v1h-1zM69 27h1v1h-1zM6 28h1v1h-1zM20 28h1v1h-1zM38 28h1v1h-1zM43 28h1v1h-1zM72 28h1v1h-1zM54 29h1v1h-1zM56 29h1v1h-1zM38 30h1v1h-1zM40 30h1v1h-1zM68 30h1v1h-1zM52 31h1v1h-1zM63 31h1v1h-1zM6 32h1v1h-1zM43 32h1v1h-1zM62 32h1v1h-1zM10 33h1v1h-1zM63 33h1v1h-1zM48 34h1v1h-1zM72 34h1v1h-1zM60 35h1v1h-1zM79 36h1v1h-1zM32 39h1v1h-1zM73 40h1v1h-1zM45 43h1v1h-1zM76 43h1v1h-1zM1 44h1v1h-1zM15 44h1v1h-1zM66 45h1v1h-1zM77 46h1v1h-1zM61 48h1v1h-1zM72 50h2v1h-2zM60 53h1v1h-1zM47 54h1v1h-1zM66 54h1v1h-1zM60 55h1v1h-1zM74 55h1v1h-1zM0 56h1v1h-1zM75 56h1v1h-1zM2 57h1v1h-1zM67 57h1v1h-1zM65 58h1v1h-1zM85 58h1v1h-1zM10 61h1v1h-1zM1 62h1v1h-1zM73 62h1v1h-1zM7 63h1v1h-1zM13 65h1v1h-1zM77 66h1v1h-1zM3 67h1v1h-1zM40 68h1v1h-1zM3 69h2v1h-2zM41 70h1v1h-1zM77 70h1v1h-1zM5 72h1v1h-1zM28 73h1v1h-1zM45 74h1v1h-1zM61 77h1v1h-1zM3 79h1v1h-1zM37 79h1v1h-1zM22 80h1v1h-1zM60 80h1v1h-1zM40 81h1v1h-1zM11 82h1v1h-1zM44 84h1v1h-1zM51 84h1v1h-1zM18 85h1v1h-1zM20 86h1v1h-1zM15 89h1v1h-1zM21 90h1v1h-1zM41 90h1v1h-1zM21 92h1v1h-1zM33 92h1v1h-1zM21 93h1v1h-1z"/><path fill="#25387c" d="M13 7h1v1h-1zM16 7h1v1h-1zM32 11h1v1h-1zM11 13h1v1h-1zM27 13h1v1h-1zM68 13h1v1h-1zM33 15h1v1h-1zM39 16h1v1h-1zM38 17h1v1h-1zM51 17h1v1h-1zM25 18h1v1h-1zM28 18h1v1h-1zM56 18h1v1h-1zM38 19h1v1h-1zM57 19h1v1h-1zM63 19h1v1h-1zM11 20h1v1h-1zM52 20h1v1h-1zM7 21h1v1h-1zM24 21h1v1h-1zM49 21h1v1h-1zM62 21h1v1h-1zM12 22h1v1h-1zM28 22h1v1h-1zM39 22h1v1h-1zM47 22h1v1h-1zM62 22h1v1h-1zM5 23h1v1h-1zM53 23h1v1h-1zM13 24h1v1h-1zM45 24h1v1h-1zM48 24h1v1h-1zM61 24h1v1h-1zM64 24h2v1h-2zM15 25h1v1h-1zM34 25h1v1h-1zM40 25h1v1h-1zM46 25h1v1h-1zM50 25h1v1h-1zM32 26h1v1h-1zM30 27h1v1h-1zM43 27h1v1h-1zM48 27h1v1h-1zM50 27h1v1h-1zM55 27h1v1h-1zM3 28h1v1h-1zM46 28h1v1h-1zM23 29h1v1h-1zM33 29h1v1h-1zM61 29h1v1h-1zM27 30h1v1h-1zM47 30h1v1h-1zM70 30h1v1h-1zM38 31h1v1h-1zM62 31h1v1h-1zM27 32h1v1h-1zM36 32h1v1h-1zM46 32h1v1h-1zM21 33h1v1h-1zM45 33h1v1h-1zM35 34h1v1h-1zM41 34h1v1h-1zM45 34h1v1h-1zM4 35h1v1h-1zM63 35h1v1h-1zM53 36h1v1h-1zM35 37h1v1h-1zM45 37h1v1h-1zM66 37h1v1h-1zM76 37h1v1h-1zM41 38h1v1h-1zM77 38h1v1h-1zM1 39h1v1h-1zM33 39h1v1h-1zM73 39h1v1h-1zM2 40h1v1h-1zM9 40h1v1h-1zM76 40h1v1h-1zM28 41h1v1h-1zM45 41h1v1h-1zM53 41h1v1h-1zM58 41h1v1h-1zM56 42h1v1h-1zM82 42h1v1h-1zM1 43h1v1h-1zM65 43h1v1h-1zM45 44h1v1h-1zM50 44h1v1h-1zM0 45h1v1h-1zM71 47h1v1h-1zM58 48h1v1h-1zM56 49h1v1h-1zM7 50h1v1h-1zM49 51h1v1h-1zM60 51h1v1h-1zM16 52h1v1h-1zM6 54h1v1h-1zM47 55h1v1h-1zM7 56h1v1h-1zM38 56h1v1h-1zM4 57h1v1h-1zM45 58h1v1h-1zM54 59h1v1h-1zM2 61h1v1h-1zM8 65h1v1h-1zM35 65h1v1h-1zM37 65h1v1h-1zM77 65h1v1h-1zM83 65h1v1h-1zM67 66h1v1h-1zM80 66h1v1h-1zM26 67h1v1h-1zM67 67h1v1h-1zM70 67h1v1h-1zM78 68h1v1h-1zM18 69h1v1h-1zM37 69h1v1h-1zM56 69h1v1h-1zM68 70h1v1h-1zM22 72h1v1h-1zM41 72h2v1h-2zM18 73h1v1h-1zM64 73h1v1h-1zM3 74h1v1h-1zM23 74h1v1h-1zM53 74h1v1h-1zM10 75h1v1h-1zM49 76h1v1h-1zM59 76h1v1h-1zM61 76h1v1h-1zM73 76h1v1h-1zM15 78h1v1h-1zM41 78h1v1h-1zM43 79h1v1h-1zM61 79h1v1h-1zM4 80h1v1h-1zM7 80h1v1h-1zM11 80h1v1h-1zM23 80h1v1h-1zM67 80h1v1h-1zM31 83h1v1h-1zM67 83h1v1h-1zM10 84h1v1h-1zM5 85h1v1h-1zM12 85h1v1h-1zM34 85h1v1h-1zM5 86h1v1h-1zM14 86h1v1h-1zM42 86h1v1h-1zM15 87h1v1h-1zM25 88h1v1h-1zM49 88h1v1h-1zM24 89h1v1h-1zM39 89h1v1h-1zM44 89h1v1h-1zM13 90h1v1h-1zM18 90h1v1h-1zM42 90h1v1h-1zM12 91h2v1h-2zM29 91h1v1h-1zM9 92h1v1h-1zM11 92h1v1h-1zM16 93h1v1h-1zM28 94h1v1h-1zM19 95h1v1h-1z"/><path fill="#1f3879" d="M20 3h1v1h-1zM23 4h1v1h-1zM29 4h1v1h-1zM50 6h1v1h-1zM36 8h1v1h-1zM18 10h1v1h-1zM34 10h1v1h-1zM36 15h1v1h-1zM45 15h1v1h-1zM47 16h1v1h-1zM70 16h1v1h-1zM17 17h1v1h-1zM37 17h1v1h-1zM39 17h1v1h-1zM47 17h1v1h-1zM8 18h1v1h-1zM34 18h1v1h-1zM37 18h1v1h-1zM64 18h1v1h-1zM62 19h1v1h-1zM12 20h1v1h-1zM26 20h1v1h-1zM39 20h1v1h-1zM44 20h1v1h-1zM47 20h1v1h-1zM73 20h1v1h-1zM42 21h1v1h-1zM52 21h1v1h-1zM21 22h1v1h-1zM24 22h1v1h-1zM32 22h1v1h-1zM29 23h1v1h-1zM37 23h1v1h-1zM43 23h1v1h-1zM48 23h1v1h-1zM64 23h1v1h-1zM67 23h1v1h-1zM71 23h1v1h-1zM81 23h1v1h-1zM5 24h1v1h-1zM9 24h1v1h-1zM51 24h1v1h-1zM7 25h1v1h-1zM13 25h1v1h-1zM22 25h1v1h-1zM39 25h1v1h-1zM47 25h1v1h-1zM53 25h1v1h-1zM9 26h1v1h-1zM29 26h1v1h-1zM49 26h1v1h-1zM41 27h1v1h-1zM53 27h1v1h-1zM62 27h1v1h-1zM35 28h1v1h-1zM42 28h1v1h-1zM48 28h2v1h-2zM69 28h1v1h-1zM29 29h1v1h-1zM36 29h1v1h-1zM52 29h2v1h-2zM63 29h1v1h-1zM65 29h1v1h-1zM22 30h1v1h-1zM55 30h1v1h-1zM61 30h1v1h-1zM66 30h1v1h-1zM39 31h1v1h-1zM51 31h1v1h-1zM55 31h2v1h-2zM11 32h1v1h-1zM20 32h1v1h-1zM37 32h1v1h-1zM56 32h1v1h-1zM65 32h1v1h-1zM25 33h1v1h-1zM33 33h1v1h-1zM46 33h1v1h-1zM57 33h1v1h-1zM59 33h1v1h-1zM64 33h1v1h-1zM4 34h1v1h-1zM12 34h1v1h-1zM38 34h1v1h-1zM42 34h1v1h-1zM51 34h1v1h-1zM56 34h1v1h-1zM2 35h1v1h-1zM9 35h1v1h-1zM42 35h1v1h-1zM74 35h1v1h-1zM84 36h1v1h-1zM96 36h1v1h-1zM37 37h1v1h-1zM67 37h1v1h-1zM49 38h1v1h-1zM64 38h1v1h-1zM2 39h1v1h-1zM36 39h1v1h-1zM74 39h1v1h-1zM1 40h1v1h-1zM18 40h1v1h-1zM24 40h1v1h-1zM8 41h2v1h-2zM24 41h1v1h-1zM5 42h1v1h-1zM9 42h1v1h-1zM57 42h1v1h-1zM73 42h1v1h-1zM76 42h1v1h-1zM38 46h1v1h-1zM52 46h1v1h-1zM74 46h1v1h-1zM79 46h1v1h-1zM7 47h1v1h-1zM59 47h1v1h-1zM68 47h1v1h-1zM37 48h1v1h-1zM41 48h1v1h-1zM35 49h1v1h-1zM67 49h1v1h-1zM33 50h1v1h-1zM46 50h1v1h-1zM3 51h1v1h-1zM4 52h1v1h-1zM58 53h1v1h-1zM1 54h1v1h-1zM4 54h1v1h-1zM42 54h1v1h-1zM57 55h1v1h-1zM66 55h1v1h-1zM71 55h1v1h-1zM10 56h1v1h-1zM35 56h1v1h-1zM8 57h1v1h-1zM17 57h1v1h-1zM43 57h1v1h-1zM28 58h1v1h-1zM4 59h1v1h-1zM67 59h1v1h-1zM11 61h1v1h-1zM18 61h1v1h-1zM24 61h1v1h-1zM10 63h1v1h-1zM52 63h1v1h-1zM72 63h1v1h-1zM77 63h1v1h-1zM5 64h2v1h-2zM22 64h1v1h-1zM26 64h1v1h-1zM40 65h2v1h-2zM55 65h1v1h-1zM82 65h1v1h-1zM18 66h1v1h-1zM5 67h2v1h-2zM11 67h1v1h-1zM46 67h1v1h-1zM10 68h1v1h-1zM45 68h2v1h-2zM63 68h1v1h-1zM71 68h1v1h-1zM35 69h1v1h-1zM38 69h1v1h-1zM44 69h1v1h-1zM51 69h2v1h-2zM74 69h1v1h-1zM79 69h1v1h-1zM32 70h1v1h-1zM2 71h1v1h-1zM31 71h1v1h-1zM37 71h1v1h-1zM61 71h1v1h-1zM4 72h1v1h-1zM54 73h1v1h-1zM2 74h1v1h-1zM5 74h1v1h-1zM15 74h1v1h-1zM29 74h1v1h-1zM1 76h1v1h-1zM51 76h1v1h-1zM3 77h1v1h-1zM11 77h1v1h-1zM31 77h1v1h-1zM14 78h1v1h-1zM67 78h1v1h-1zM24 80h2v1h-2zM19 81h1v1h-1zM28 82h1v1h-1zM13 83h1v1h-1zM15 83h1v1h-1zM17 83h1v1h-1zM23 84h1v1h-1zM10 85h1v1h-1zM60 85h1v1h-1zM16 86h2v1h-2zM19 86h1v1h-1zM27 86h1v1h-1zM36 86h1v1h-1zM46 86h1v1h-1zM14 87h1v1h-1zM21 87h1v1h-1zM12 88h1v1h-1zM16 88h1v1h-1zM21 89h1v1h-1zM23 89h1v1h-1zM35 89h1v1h-1zM40 90h1v1h-1zM8 92h1v1h-1zM27 93h1v1h-1zM31 94h1v1h-1z"/><path fill="#193875" d="M33 3h1v1h-1zM36 5h1v1h-1zM43 7h1v1h-1zM51 8h1v1h-1zM31 9h1v1h-1zM37 10h1v1h-1zM77 12h1v1h-1zM42 13h1v1h-1zM21 14h1v1h-1zM26 14h1v1h-1zM72 15h1v1h-1zM34 16h1v1h-1zM36 18h1v1h-1zM61 18h1v1h-1zM21 19h1v1h-1zM36 19h1v1h-1zM44 19h1v1h-1zM22 20h1v1h-1zM37 20h1v1h-1zM64 20h1v1h-1zM6 21h1v1h-1zM22 21h1v1h-1zM29 21h1v1h-1zM58 21h1v1h-1zM63 21h1v1h-1zM19 22h1v1h-1zM25 22h1v1h-1zM35 22h2v1h-2zM48 22h1v1h-1zM14 23h1v1h-1zM30 23h1v1h-1zM60 23h1v1h-1zM7 24h1v1h-1zM55 24h1v1h-1zM21 25h1v1h-1zM28 25h1v1h-1zM30 25h1v1h-1zM43 25h1v1h-1zM54 25h1v1h-1zM58 25h1v1h-1zM62 25h1v1h-1zM66 25h1v1h-1zM22 26h1v1h-1zM44 26h1v1h-1zM46 26h1v1h-1zM54 26h1v1h-1zM76 26h1v1h-1zM17 27h1v1h-1zM20 27h1v1h-1zM25 27h1v1h-1zM35 27h1v1h-1zM52 27h1v1h-1zM57 27h1v1h-1zM72 27h1v1h-1zM8 28h1v1h-1zM17 28h1v1h-1zM31 28h1v1h-1zM33 28h1v1h-1zM47 28h1v1h-1zM51 28h2v1h-2zM57 28h2v1h-2zM63 28h1v1h-1zM18 29h1v1h-1zM27 29h1v1h-1zM37 29h1v1h-1zM42 29h1v1h-1zM47 29h1v1h-1zM2 30h1v1h-1zM46 30h1v1h-1zM53 30h1v1h-1zM64 30h1v1h-1zM5 31h1v1h-1zM8 31h1v1h-1zM12 31h1v1h-1zM43 31h1v1h-1zM45 31h2v1h-2zM63 32h1v1h-1zM74 32h1v1h-1zM18 33h1v1h-1zM32 33h1v1h-1zM56 33h1v1h-1zM74 33h1v1h-1zM76 33h1v1h-1zM7 34h1v1h-1zM24 34h1v1h-1zM33 34h1v1h-1zM37 34h1v1h-1zM40 34h1v1h-1zM70 34h1v1h-1zM13 35h2v1h-2zM18 35h1v1h-1zM23 35h1v1h-1zM30 35h1v1h-1zM45 35h1v1h-1zM56 35h1v1h-1zM59 35h1v1h-1zM68 35h1v1h-1zM7 36h1v1h-1zM23 36h1v1h-1zM25 36h1v1h-1zM48 36h1v1h-1zM55 36h1v1h-1zM59 36h1v1h-1zM68 36h1v1h-1zM3 37h1v1h-1zM5 37h1v1h-1zM8 37h1v1h-1zM13 37h1v1h-1zM34 37h1v1h-1zM86 37h1v1h-1zM12 38h1v1h-1zM21 38h1v1h-1zM39 38h1v1h-1zM43 38h1v1h-1zM50 38h1v1h-1zM62 38h1v1h-1zM46 39h1v1h-1zM53 39h1v1h-1zM65 39h1v1h-1zM75 39h3v1h-3zM47 40h1v1h-1zM31 41h1v1h-1zM69 41h1v1h-1zM8 42h1v1h-1zM17 42h1v1h-1zM49 42h1v1h-1zM32 43h1v1h-1zM0 44h1v1h-1zM6 44h1v1h-1zM13 44h1v1h-1zM29 44h1v1h-1zM86 44h1v1h-1zM7 45h1v1h-1zM5 47h1v1h-1zM46 47h1v1h-1zM67 48h1v1h-1zM14 49h1v1h-1zM16 49h1v1h-1zM3 50h1v1h-1zM42 50h1v1h-1zM58 50h1v1h-1zM62 50h1v1h-1zM0 51h1v1h-1zM30 51h1v1h-1zM63 51h1v1h-1zM34 52h1v1h-1zM40 52h1v1h-1zM26 53h1v1h-1zM38 53h1v1h-1zM42 53h1v1h-1zM44 53h1v1h-1zM54 53h1v1h-1zM79 53h1v1h-1zM46 54h1v1h-1zM56 54h1v1h-1zM17 55h1v1h-1zM75 55h1v1h-1zM9 56h1v1h-1zM53 56h1v1h-1zM73 56h1v1h-1zM7 57h1v1h-1zM14 57h1v1h-1zM75 57h1v1h-1zM4 58h1v1h-1zM55 58h1v1h-1zM12 59h1v1h-1zM44 59h1v1h-1zM80 59h1v1h-1zM50 60h1v1h-1zM52 60h1v1h-1zM87 60h1v1h-1zM26 61h1v1h-1zM35 61h1v1h-1zM37 61h1v1h-1zM47 61h1v1h-1zM57 61h1v1h-1zM32 62h1v1h-1zM37 62h1v1h-1zM40 62h1v1h-1zM52 62h1v1h-1zM59 62h1v1h-1zM62 62h1v1h-1zM16 63h1v1h-1zM19 63h1v1h-1zM32 63h4v1h-4zM46 63h1v1h-1zM59 63h1v1h-1zM13 64h1v1h-1zM25 64h1v1h-1zM38 64h1v1h-1zM84 64h1v1h-1zM29 65h1v1h-1zM66 65h1v1h-1zM68 65h1v1h-1zM8 66h1v1h-1zM14 66h1v1h-1zM21 66h1v1h-1zM27 66h1v1h-1zM40 66h1v1h-1zM44 66h1v1h-1zM74 66h1v1h-1zM4 67h1v1h-1zM9 67h1v1h-1zM54 67h1v1h-1zM14 68h1v1h-1zM16 68h1v1h-1zM20 68h1v1h-1zM6 69h1v1h-1zM15 69h1v1h-1zM23 69h1v1h-1zM55 69h1v1h-1zM4 71h1v1h-1zM6 71h1v1h-1zM9 71h1v1h-1zM29 71h1v1h-1zM57 71h1v1h-1zM57 72h1v1h-1zM68 72h1v1h-1zM72 72h1v1h-1zM7 73h1v1h-1zM39 73h1v1h-1zM39 74h1v1h-1zM54 74h1v1h-1zM8 75h1v1h-1zM47 75h1v1h-1zM4 76h1v1h-1zM36 76h1v1h-1zM87 76h1v1h-1zM9 77h1v1h-1zM20 77h1v1h-1zM48 77h1v1h-1zM59 77h1v1h-1zM25 79h1v1h-1zM40 79h1v1h-1zM63 79h1v1h-1zM39 81h1v1h-1zM10 82h1v1h-1zM36 82h1v1h-1zM16 83h1v1h-1zM39 83h1v1h-1zM56 83h1v1h-1zM58 83h1v1h-1zM12 84h1v1h-1zM38 84h1v1h-1zM9 86h1v1h-1zM34 86h1v1h-1zM55 86h1v1h-1zM50 87h1v1h-1zM17 88h1v1h-1zM22 88h1v1h-1zM33 88h1v1h-1zM35 88h1v1h-1zM7 89h1v1h-1zM25 90h1v1h-1zM36 90h1v1h-1zM19 91h1v1h-1zM8 94h1v1h-1zM32 95h1v1h-1z"/><path fill="#133872" d="M30 5h1v1h-1zM30 7h1v1h-1zM51 7h1v1h-1zM17 8h1v1h-1zM42 8h2v1h-2zM26 10h1v1h-1zM52 13h1v1h-1zM43 15h1v1h-1zM50 15h1v1h-1zM9 17h1v1h-1zM50 17h1v1h-1zM11 18h1v1h-1zM27 18h1v1h-1zM62 18h1v1h-1zM45 19h1v1h-1zM18 20h1v1h-1zM68 20h1v1h-1zM30 21h1v1h-1zM39 21h1v1h-1zM55 21h1v1h-1zM11 22h1v1h-1zM14 22h1v1h-1zM21 23h1v1h-1zM27 23h1v1h-1zM40 23h1v1h-1zM47 23h1v1h-1zM55 23h1v1h-1zM31 25h1v1h-1zM49 25h1v1h-1zM68 25h1v1h-1zM21 26h1v1h-1zM31 26h1v1h-1zM33 26h1v1h-1zM70 26h1v1h-1zM4 27h1v1h-1zM11 27h1v1h-1zM15 27h1v1h-1zM34 27h1v1h-1zM36 27h1v1h-1zM66 27h1v1h-1zM13 28h1v1h-1zM15 28h1v1h-1zM44 28h2v1h-2zM53 28h1v1h-1zM45 29h2v1h-2zM51 29h1v1h-1zM58 29h1v1h-1zM7 30h1v1h-1zM15 30h1v1h-1zM25 30h2v1h-2zM31 30h1v1h-1zM42 30h1v1h-1zM7 31h1v1h-1zM20 31h1v1h-1zM22 31h1v1h-1zM24 31h1v1h-1zM28 31h1v1h-1zM35 31h1v1h-1zM44 31h1v1h-1zM49 31h1v1h-1zM53 31h1v1h-1zM29 32h1v1h-1zM32 32h1v1h-1zM39 32h1v1h-1zM47 32h1v1h-1zM68 32h1v1h-1zM13 33h1v1h-1zM22 33h1v1h-1zM27 33h1v1h-1zM37 33h1v1h-1zM42 33h2v1h-2zM47 33h1v1h-1zM50 33h1v1h-1zM54 33h1v1h-1zM58 33h1v1h-1zM78 33h1v1h-1zM8 34h1v1h-1zM44 34h1v1h-1zM59 34h1v1h-1zM65 34h1v1h-1zM22 35h1v1h-1zM24 35h2v1h-2zM27 35h1v1h-1zM32 35h1v1h-1zM34 35h1v1h-1zM39 35h1v1h-1zM46 35h1v1h-1zM52 35h1v1h-1zM54 35h2v1h-2zM61 35h1v1h-1zM73 35h1v1h-1zM4 36h1v1h-1zM6 36h1v1h-1zM28 36h2v1h-2zM31 36h1v1h-1zM37 36h1v1h-1zM40 36h1v1h-1zM50 36h1v1h-1zM64 36h1v1h-1zM70 36h1v1h-1zM21 37h1v1h-1zM25 37h1v1h-1zM39 37h3v1h-3zM43 37h1v1h-1zM49 37h1v1h-1zM55 37h1v1h-1zM57 37h1v1h-1zM9 38h1v1h-1zM22 38h1v1h-1zM32 38h1v1h-1zM42 38h1v1h-1zM52 38h1v1h-1zM4 39h1v1h-1zM9 39h1v1h-1zM19 39h1v1h-1zM24 39h1v1h-1zM31 39h1v1h-1zM57 39h1v1h-1zM6 40h1v1h-1zM13 40h2v1h-2zM23 40h1v1h-1zM26 40h1v1h-1zM42 40h1v1h-1zM48 40h1v1h-1zM84 40h1v1h-1zM6 41h1v1h-1zM18 41h1v1h-1zM27 41h1v1h-1zM46 41h1v1h-1zM49 41h1v1h-1zM51 41h1v1h-1zM66 41h1v1h-1zM72 41h1v1h-1zM79 41h1v1h-1zM15 42h1v1h-1zM19 42h1v1h-1zM30 42h1v1h-1zM32 42h1v1h-1zM42 42h1v1h-1zM2 43h1v1h-1zM5 43h1v1h-1zM24 43h1v1h-1zM46 43h1v1h-1zM50 43h3v1h-3zM57 43h1v1h-1zM70 43h1v1h-1zM77 43h1v1h-1zM7 44h1v1h-1zM11 44h1v1h-1zM24 44h1v1h-1zM27 44h1v1h-1zM54 44h1v1h-1zM1 45h2v1h-2zM6 45h1v1h-1zM8 45h1v1h-1zM16 45h1v1h-1zM22 45h1v1h-1zM24 45h1v1h-1zM48 45h1v1h-1zM59 45h2v1h-2zM6 46h1v1h-1zM17 46h1v1h-1zM25 46h1v1h-1zM33 46h1v1h-1zM40 46h1v1h-1zM42 46h1v1h-1zM80 46h1v1h-1zM36 47h1v1h-1zM56 47h1v1h-1zM2 48h1v1h-1zM5 48h1v1h-1zM17 48h1v1h-1zM36 48h1v1h-1zM38 48h3v1h-3zM0 49h1v1h-1zM8 49h1v1h-1zM22 49h2v1h-2zM38 49h1v1h-1zM70 49h1v1h-1zM73 49h1v1h-1zM5 50h1v1h-1zM13 50h1v1h-1zM29 50h1v1h-1zM41 50h1v1h-1zM65 50h1v1h-1zM15 51h1v1h-1zM22 51h1v1h-1zM43 51h1v1h-1zM69 51h1v1h-1zM3 52h1v1h-1zM5 52h1v1h-1zM8 52h1v1h-1zM14 52h1v1h-1zM17 52h1v1h-1zM28 52h1v1h-1zM38 52h1v1h-1zM44 52h1v1h-1zM49 52h1v1h-1zM52 52h1v1h-1zM2 53h1v1h-1zM22 53h1v1h-1zM29 53h1v1h-1zM49 53h1v1h-1zM22 54h1v1h-1zM64 54h1v1h-1zM70 54h1v1h-1zM1 55h1v1h-1zM4 55h1v1h-1zM7 55h2v1h-2zM19 55h1v1h-1zM73 55h1v1h-1zM15 56h1v1h-1zM31 56h1v1h-1zM47 56h1v1h-1zM58 56h1v1h-1zM6 57h1v1h-1zM15 57h1v1h-1zM23 57h1v1h-1zM25 57h1v1h-1zM70 57h1v1h-1zM6 58h1v1h-1zM13 58h2v1h-2zM29 58h1v1h-1zM42 58h1v1h-1zM56 58h1v1h-1zM11 59h1v1h-1zM23 59h1v1h-1zM34 59h1v1h-1zM36 59h1v1h-1zM66 59h1v1h-1zM13 60h1v1h-1zM15 60h1v1h-1zM20 60h1v1h-1zM22 60h1v1h-1zM28 60h1v1h-1zM31 60h1v1h-1zM60 60h1v1h-1zM25 61h1v1h-1zM33 61h1v1h-1zM39 61h1v1h-1zM45 61h1v1h-1zM4 62h1v1h-1zM10 62h1v1h-1zM14 62h1v1h-1zM69 62h1v1h-1zM5 63h1v1h-1zM17 63h1v1h-1zM23 63h1v1h-1zM25 63h1v1h-1zM43 63h1v1h-1zM55 63h1v1h-1zM70 63h1v1h-1zM23 64h1v1h-1zM37 64h1v1h-1zM43 64h1v1h-1zM47 64h1v1h-1zM55 64h1v1h-1zM12 65h1v1h-1zM14 65h1v1h-1zM50 65h2v1h-2zM54 65h1v1h-1zM5 66h1v1h-1zM36 66h1v1h-1zM39 66h1v1h-1zM49 66h1v1h-1zM37 67h2v1h-2zM48 67h1v1h-1zM55 67h1v1h-1zM2 68h2v1h-2zM18 68h1v1h-1zM25 68h1v1h-1zM27 68h1v1h-1zM37 68h1v1h-1zM44 68h1v1h-1zM56 68h1v1h-1zM10 69h1v1h-1zM28 69h1v1h-1zM61 69h1v1h-1zM68 69h1v1h-1zM77 69h1v1h-1zM14 70h1v1h-1zM34 70h1v1h-1zM38 70h1v1h-1zM47 70h1v1h-1zM12 71h1v1h-1zM14 71h1v1h-1zM30 71h1v1h-1zM32 71h1v1h-1zM64 71h1v1h-1zM3 72h1v1h-1zM7 72h1v1h-1zM10 72h1v1h-1zM16 72h1v1h-1zM21 72h1v1h-1zM32 72h2v1h-2zM44 72h1v1h-1zM75 72h1v1h-1zM5 73h1v1h-1zM12 73h1v1h-1zM19 73h1v1h-1zM32 73h1v1h-1zM67 73h1v1h-1zM7 74h1v1h-1zM28 74h1v1h-1zM2 75h2v1h-2zM17 75h1v1h-1zM33 75h1v1h-1zM14 76h1v1h-1zM21 76h1v1h-1zM31 76h1v1h-1zM23 77h1v1h-1zM29 77h1v1h-1zM58 77h1v1h-1zM35 78h1v1h-1zM44 78h2v1h-2zM24 79h1v1h-1zM35 79h1v1h-1zM79 79h1v1h-1zM43 80h1v1h-1zM25 81h1v1h-1zM7 82h1v1h-1zM12 82h1v1h-1zM19 82h1v1h-1zM27 82h1v1h-1zM11 83h1v1h-1zM20 83h1v1h-1zM35 83h1v1h-1zM42 83h1v1h-1zM7 84h1v1h-1zM13 84h2v1h-2zM28 84h1v1h-1zM19 85h1v1h-1zM21 85h1v1h-1zM25 85h2v1h-2zM11 86h1v1h-1zM15 86h1v1h-1zM31 86h1v1h-1zM35 86h1v1h-1zM17 87h1v1h-1zM12 89h1v1h-1zM26 89h1v1h-1zM33 89h1v1h-1zM38 89h1v1h-1zM39 91h1v1h-1zM18 94h1v1h-1zM14 97h1v1h-1z"/><path fill="#0d396f" d="M52 4h1v1h-1zM40 5h1v1h-1zM8 6h1v1h-1zM44 8h1v1h-1zM45 11h1v1h-1zM55 11h1v1h-1zM7 12h1v1h-1zM51 12h1v1h-1zM65 13h1v1h-1zM4 14h1v1h-1zM25 14h1v1h-1zM19 15h1v1h-1zM25 15h1v1h-1zM31 15h1v1h-1zM29 17h1v1h-1zM17 18h1v1h-1zM32 18h1v1h-1zM9 19h1v1h-1zM16 19h1v1h-1zM35 19h1v1h-1zM17 20h1v1h-1zM25 20h1v1h-1zM27 20h1v1h-1zM31 20h1v1h-1zM35 20h1v1h-1zM55 20h1v1h-1zM67 20h1v1h-1zM23 21h1v1h-1zM37 21h1v1h-1zM41 21h1v1h-1zM17 22h1v1h-1zM31 22h1v1h-1zM42 22h1v1h-1zM50 22h1v1h-1zM72 22h1v1h-1zM12 23h1v1h-1zM33 23h2v1h-2zM42 23h1v1h-1zM58 23h1v1h-1zM66 23h1v1h-1zM84 23h1v1h-1zM10 24h1v1h-1zM12 24h1v1h-1zM25 24h1v1h-1zM36 25h1v1h-1zM51 25h1v1h-1zM71 25h1v1h-1zM26 26h1v1h-1zM28 26h1v1h-1zM36 26h1v1h-1zM41 26h1v1h-1zM43 26h1v1h-1zM47 26h1v1h-1zM55 26h1v1h-1zM79 26h1v1h-1zM45 27h1v1h-1zM10 28h1v1h-1zM21 28h1v1h-1zM28 28h1v1h-1zM39 28h1v1h-1zM40 29h1v1h-1zM44 29h1v1h-1zM55 29h1v1h-1zM72 29h1v1h-1zM10 30h1v1h-1zM13 30h1v1h-1zM24 30h1v1h-1zM41 30h1v1h-1zM50 30h1v1h-1zM59 30h1v1h-1zM11 31h1v1h-1zM13 31h1v1h-1zM18 31h1v1h-1zM37 31h1v1h-1zM40 31h1v1h-1zM59 31h1v1h-1zM31 32h1v1h-1zM40 32h1v1h-1zM51 32h1v1h-1zM53 32h2v1h-2zM57 32h1v1h-1zM59 32h1v1h-1zM71 32h1v1h-1zM4 33h1v1h-1zM11 33h1v1h-1zM14 33h2v1h-2zM24 33h1v1h-1zM38 33h1v1h-1zM41 33h1v1h-1zM48 33h2v1h-2zM13 34h1v1h-1zM20 34h1v1h-1zM34 34h1v1h-1zM43 34h1v1h-1zM54 34h1v1h-1zM68 34h1v1h-1zM71 34h1v1h-1zM16 35h1v1h-1zM62 35h1v1h-1zM13 36h1v1h-1zM15 36h1v1h-1zM17 36h1v1h-1zM26 36h1v1h-1zM36 36h1v1h-1zM22 37h1v1h-1zM26 37h1v1h-1zM28 37h1v1h-1zM30 37h1v1h-1zM32 37h1v1h-1zM36 37h1v1h-1zM42 37h1v1h-1zM54 37h1v1h-1zM64 37h1v1h-1zM28 38h1v1h-1zM30 38h1v1h-1zM35 38h1v1h-1zM40 38h1v1h-1zM47 38h1v1h-1zM51 38h1v1h-1zM60 38h1v1h-1zM65 38h1v1h-1zM3 39h1v1h-1zM17 39h1v1h-1zM21 39h1v1h-1zM27 39h1v1h-1zM30 39h1v1h-1zM38 39h1v1h-1zM43 39h1v1h-1zM47 39h1v1h-1zM60 39h1v1h-1zM3 40h1v1h-1zM12 40h1v1h-1zM15 40h1v1h-1zM29 40h1v1h-1zM36 40h1v1h-1zM43 40h1v1h-1zM58 40h1v1h-1zM72 40h1v1h-1zM3 41h1v1h-1zM5 41h1v1h-1zM19 41h1v1h-1zM29 41h1v1h-1zM52 41h1v1h-1zM61 41h1v1h-1zM68 41h1v1h-1zM3 42h1v1h-1zM12 42h1v1h-1zM14 42h1v1h-1zM18 42h1v1h-1zM24 42h2v1h-2zM31 42h1v1h-1zM33 42h1v1h-1zM37 42h1v1h-1zM45 42h4v1h-4zM53 42h1v1h-1zM65 42h1v1h-1zM72 42h1v1h-1zM4 43h1v1h-1zM6 43h1v1h-1zM11 43h1v1h-1zM15 43h1v1h-1zM18 43h1v1h-1zM25 43h1v1h-1zM36 43h2v1h-2zM41 43h2v1h-2zM49 43h1v1h-1zM59 43h1v1h-1zM61 43h1v1h-1zM67 43h1v1h-1zM9 44h1v1h-1zM17 44h1v1h-1zM30 44h2v1h-2zM37 44h1v1h-1zM40 44h1v1h-1zM46 44h1v1h-1zM12 45h2v1h-2zM18 45h1v1h-1zM23 45h1v1h-1zM31 45h1v1h-1zM39 45h1v1h-1zM43 45h1v1h-1zM45 45h1v1h-1zM54 45h1v1h-1zM8 46h1v1h-1zM10 46h1v1h-1zM14 46h1v1h-1zM16 46h1v1h-1zM21 46h3v1h-3zM28 46h2v1h-2zM35 46h2v1h-2zM44 46h1v1h-1zM57 46h1v1h-1zM62 46h1v1h-1zM64 46h1v1h-1zM2 47h1v1h-1zM13 47h1v1h-1zM17 47h1v1h-1zM20 47h1v1h-1zM22 47h1v1h-1zM24 47h1v1h-1zM33 47h1v1h-1zM52 47h1v1h-1zM6 48h1v1h-1zM11 48h1v1h-1zM16 48h1v1h-1zM18 48h2v1h-2zM21 48h1v1h-1zM26 48h1v1h-1zM48 48h1v1h-1zM51 48h1v1h-1zM56 48h2v1h-2zM63 48h1v1h-1zM1 49h1v1h-1zM21 49h1v1h-1zM27 49h1v1h-1zM29 49h1v1h-1zM32 49h1v1h-1zM34 49h1v1h-1zM40 49h1v1h-1zM45 49h1v1h-1zM47 49h1v1h-1zM52 49h1v1h-1zM71 49h1v1h-1zM2 50h1v1h-1zM4 50h1v1h-1zM15 50h1v1h-1zM36 50h1v1h-1zM40 50h1v1h-1zM49 50h2v1h-2zM80 50h1v1h-1zM5 51h1v1h-1zM33 51h1v1h-1zM35 51h2v1h-2zM42 51h1v1h-1zM45 51h1v1h-1zM6 52h1v1h-1zM9 52h1v1h-1zM15 52h1v1h-1zM19 52h1v1h-1zM21 52h1v1h-1zM31 52h2v1h-2zM47 52h1v1h-1zM55 52h1v1h-1zM63 52h2v1h-2zM75 52h1v1h-1zM11 53h2v1h-2zM14 53h1v1h-1zM17 53h1v1h-1zM40 53h1v1h-1zM55 53h1v1h-1zM66 53h1v1h-1zM73 53h1v1h-1zM9 54h1v1h-1zM11 54h3v1h-3zM19 54h1v1h-1zM24 54h1v1h-1zM26 54h2v1h-2zM58 54h1v1h-1zM67 54h2v1h-2zM12 55h1v1h-1zM15 55h2v1h-2zM23 55h1v1h-1zM53 55h1v1h-1zM3 56h1v1h-1zM5 56h1v1h-1zM14 56h1v1h-1zM18 56h1v1h-1zM20 56h1v1h-1zM28 56h3v1h-3zM33 56h1v1h-1zM42 56h1v1h-1zM49 56h3v1h-3zM55 56h1v1h-1zM5 57h1v1h-1zM18 57h1v1h-1zM21 57h2v1h-2zM35 57h1v1h-1zM38 57h1v1h-1zM40 57h1v1h-1zM45 57h1v1h-1zM54 57h1v1h-1zM5 58h1v1h-1zM7 58h1v1h-1zM22 58h2v1h-2zM26 58h2v1h-2zM36 58h1v1h-1zM39 58h1v1h-1zM54 58h1v1h-1zM73 58h1v1h-1zM16 59h1v1h-1zM25 59h3v1h-3zM30 59h1v1h-1zM33 59h1v1h-1zM61 59h1v1h-1zM75 59h1v1h-1zM2 60h1v1h-1zM4 60h1v1h-1zM8 60h1v1h-1zM14 60h1v1h-1zM19 60h1v1h-1zM27 60h1v1h-1zM41 60h1v1h-1zM4 61h1v1h-1zM13 61h1v1h-1zM31 61h2v1h-2zM44 61h1v1h-1zM60 61h1v1h-1zM66 61h1v1h-1zM5 62h1v1h-1zM16 62h1v1h-1zM18 62h3v1h-3zM35 62h1v1h-1zM43 62h1v1h-1zM55 62h1v1h-1zM60 62h1v1h-1zM75 62h1v1h-1zM8 63h1v1h-1zM12 63h1v1h-1zM18 63h1v1h-1zM24 63h1v1h-1zM27 63h1v1h-1zM38 63h1v1h-1zM40 63h1v1h-1zM54 63h1v1h-1zM65 63h1v1h-1zM7 64h1v1h-1zM10 64h2v1h-2zM24 64h1v1h-1zM29 64h3v1h-3zM46 64h1v1h-1zM67 64h1v1h-1zM76 64h1v1h-1zM1 65h1v1h-1zM7 65h1v1h-1zM23 65h1v1h-1zM30 65h1v1h-1zM6 66h1v1h-1zM32 66h1v1h-1zM35 66h1v1h-1zM41 66h1v1h-1zM47 66h1v1h-1zM76 66h1v1h-1zM14 67h1v1h-1zM16 67h1v1h-1zM32 67h1v1h-1zM35 67h1v1h-1zM60 67h1v1h-1zM6 68h1v1h-1zM9 68h1v1h-1zM23 68h2v1h-2zM26 68h1v1h-1zM28 68h3v1h-3zM36 68h1v1h-1zM39 68h1v1h-1zM43 68h1v1h-1zM48 68h2v1h-2zM54 68h1v1h-1zM9 69h1v1h-1zM13 69h1v1h-1zM27 69h1v1h-1zM40 69h1v1h-1zM43 69h1v1h-1zM45 69h1v1h-1zM48 69h1v1h-1zM64 69h1v1h-1zM78 69h1v1h-1zM5 70h1v1h-1zM9 70h1v1h-1zM11 70h1v1h-1zM43 70h2v1h-2zM13 71h1v1h-1zM22 71h1v1h-1zM35 71h1v1h-1zM42 71h1v1h-1zM47 71h1v1h-1zM49 71h1v1h-1zM52 71h2v1h-2zM59 71h1v1h-1zM15 72h1v1h-1zM47 72h1v1h-1zM4 73h1v1h-1zM6 73h1v1h-1zM16 73h1v1h-1zM23 73h1v1h-1zM35 73h1v1h-1zM48 73h1v1h-1zM57 73h1v1h-1zM61 73h1v1h-1zM6 74h1v1h-1zM8 74h1v1h-1zM38 74h1v1h-1zM49 74h1v1h-1zM63 74h1v1h-1zM12 75h1v1h-1zM32 75h1v1h-1zM39 75h1v1h-1zM58 75h1v1h-1zM6 76h1v1h-1zM23 76h1v1h-1zM32 76h1v1h-1zM39 76h1v1h-1zM50 76h1v1h-1zM66 76h1v1h-1zM30 77h1v1h-1zM41 77h1v1h-1zM60 77h1v1h-1zM8 78h1v1h-1zM32 78h1v1h-1zM38 78h1v1h-1zM46 78h1v1h-1zM52 78h1v1h-1zM6 79h1v1h-1zM45 79h1v1h-1zM12 80h1v1h-1zM16 80h1v1h-1zM12 81h1v1h-1zM44 81h1v1h-1zM20 82h1v1h-1zM22 82h1v1h-1zM34 82h1v1h-1zM39 82h1v1h-1zM60 82h1v1h-1zM10 83h1v1h-1zM24 83h1v1h-1zM3 84h1v1h-1zM16 84h3v1h-3zM42 84h1v1h-1zM47 84h1v1h-1zM56 84h1v1h-1zM11 85h1v1h-1zM22 85h1v1h-1zM25 86h1v1h-1zM28 86h2v1h-2zM11 87h1v1h-1zM7 88h1v1h-1zM26 88h1v1h-1zM39 88h1v1h-1zM41 88h1v1h-1zM16 89h1v1h-1zM36 89h1v1h-1zM22 91h1v1h-1zM25 91h1v1h-1zM20 92h1v1h-1zM15 94h1v1h-1zM21 94h1v1h-1zM22 96h1v1h-1zM34 96h1v1h-1zM27 99h1v1h-1z"/><path fill="#073a6c" d="M11 3h1v1h-1zM28 4h1v1h-1zM49 4h1v1h-1zM21 5h1v1h-1zM36 10h1v1h-1zM11 12h1v1h-1zM32 12h1v1h-1zM26 13h1v1h-1zM58 13h1v1h-1zM27 14h1v1h-1zM53 14h1v1h-1zM41 15h1v1h-1zM38 16h1v1h-1zM28 17h1v1h-1zM35 17h1v1h-1zM45 17h1v1h-1zM27 19h1v1h-1zM30 19h1v1h-1zM33 19h1v1h-1zM37 19h1v1h-1zM3 20h1v1h-1zM24 20h1v1h-1zM29 20h1v1h-1zM34 20h1v1h-1zM36 20h1v1h-1zM17 21h1v1h-1zM46 21h1v1h-1zM23 22h1v1h-1zM37 22h1v1h-1zM41 22h1v1h-1zM10 23h1v1h-1zM24 23h1v1h-1zM11 24h1v1h-1zM29 24h1v1h-1zM31 24h1v1h-1zM19 25h1v1h-1zM33 25h1v1h-1zM38 25h1v1h-1zM69 25h2v1h-2zM12 26h1v1h-1zM17 26h1v1h-1zM27 26h1v1h-1zM38 26h2v1h-2zM14 27h1v1h-1zM22 27h1v1h-1zM42 27h1v1h-1zM44 27h1v1h-1zM24 28h1v1h-1zM26 28h1v1h-1zM66 28h1v1h-1zM70 28h1v1h-1zM81 28h1v1h-1zM15 29h1v1h-1zM43 29h1v1h-1zM75 29h1v1h-1zM80 29h1v1h-1zM11 30h2v1h-2zM17 30h1v1h-1zM28 30h1v1h-1zM36 30h1v1h-1zM39 30h1v1h-1zM43 30h2v1h-2zM56 30h1v1h-1zM14 31h1v1h-1zM19 31h1v1h-1zM29 31h1v1h-1zM34 31h1v1h-1zM67 31h1v1h-1zM15 32h1v1h-1zM18 32h2v1h-2zM22 32h1v1h-1zM26 32h1v1h-1zM34 32h1v1h-1zM49 32h1v1h-1zM1 33h1v1h-1zM19 33h1v1h-1zM28 33h1v1h-1zM39 33h1v1h-1zM44 33h1v1h-1zM51 33h2v1h-2zM60 33h1v1h-1zM62 33h1v1h-1zM14 34h2v1h-2zM31 34h2v1h-2zM46 34h1v1h-1zM52 34h2v1h-2zM58 34h1v1h-1zM60 34h2v1h-2zM8 35h1v1h-1zM17 35h1v1h-1zM21 35h1v1h-1zM35 35h3v1h-3zM41 35h1v1h-1zM44 35h1v1h-1zM66 35h1v1h-1zM5 36h1v1h-1zM16 36h1v1h-1zM22 36h1v1h-1zM33 36h1v1h-1zM39 36h1v1h-1zM43 36h1v1h-1zM46 36h1v1h-1zM52 36h1v1h-1zM61 36h1v1h-1zM69 36h1v1h-1zM4 37h1v1h-1zM6 37h1v1h-1zM16 37h2v1h-2zM33 37h1v1h-1zM44 37h1v1h-1zM47 37h2v1h-2zM56 37h1v1h-1zM62 37h1v1h-1zM70 37h1v1h-1zM4 38h2v1h-2zM7 38h1v1h-1zM11 38h1v1h-1zM16 38h1v1h-1zM19 38h1v1h-1zM23 38h2v1h-2zM29 38h1v1h-1zM33 38h2v1h-2zM38 38h1v1h-1zM44 38h1v1h-1zM54 38h1v1h-1zM56 38h2v1h-2zM66 38h1v1h-1zM6 39h1v1h-1zM11 39h1v1h-1zM13 39h2v1h-2zM23 39h1v1h-1zM29 39h1v1h-1zM35 39h1v1h-1zM40 39h2v1h-2zM44 39h1v1h-1zM54 39h1v1h-1zM59 39h1v1h-1zM63 39h2v1h-2zM71 39h1v1h-1zM7 40h1v1h-1zM22 40h1v1h-1zM27 40h1v1h-1zM32 40h1v1h-1zM41 40h1v1h-1zM49 40h2v1h-2zM53 40h1v1h-1zM55 40h1v1h-1zM60 40h1v1h-1zM62 40h1v1h-1zM69 40h1v1h-1zM11 41h1v1h-1zM21 41h2v1h-2zM25 41h2v1h-2zM34 41h1v1h-1zM42 41h1v1h-1zM48 41h1v1h-1zM60 41h1v1h-1zM27 42h2v1h-2zM35 42h1v1h-1zM39 42h2v1h-2zM55 42h1v1h-1zM62 42h1v1h-1zM8 43h3v1h-3zM12 43h1v1h-1zM22 43h1v1h-1zM29 43h1v1h-1zM34 43h1v1h-1zM55 43h1v1h-1zM75 43h1v1h-1zM10 44h1v1h-1zM21 44h1v1h-1zM23 44h1v1h-1zM28 44h1v1h-1zM48 44h1v1h-1zM52 44h2v1h-2zM59 44h1v1h-1zM69 44h1v1h-1zM3 45h1v1h-1zM10 45h1v1h-1zM14 45h1v1h-1zM30 45h1v1h-1zM33 45h1v1h-1zM36 45h1v1h-1zM38 45h1v1h-1zM44 45h1v1h-1zM46 45h1v1h-1zM61 45h1v1h-1zM65 45h1v1h-1zM4 46h1v1h-1zM7 46h1v1h-1zM26 46h1v1h-1zM30 46h1v1h-1zM48 46h1v1h-1zM69 46h1v1h-1zM6 47h1v1h-1zM8 47h1v1h-1zM21 47h1v1h-1zM29 47h1v1h-1zM34 47h2v1h-2zM38 47h1v1h-1zM40 47h1v1h-1zM43 47h1v1h-1zM45 47h1v1h-1zM51 47h1v1h-1zM58 47h1v1h-1zM60 47h1v1h-1zM3 48h1v1h-1zM7 48h1v1h-1zM23 48h1v1h-1zM28 48h1v1h-1zM31 48h1v1h-1zM42 48h1v1h-1zM52 48h1v1h-1zM2 49h1v1h-1zM5 49h1v1h-1zM13 49h1v1h-1zM19 49h2v1h-2zM42 49h1v1h-1zM61 49h1v1h-1zM63 49h1v1h-1zM95 49h1v1h-1zM1 50h1v1h-1zM6 50h1v1h-1zM8 50h1v1h-1zM17 50h1v1h-1zM21 50h1v1h-1zM23 50h1v1h-1zM27 50h1v1h-1zM32 50h1v1h-1zM38 50h1v1h-1zM43 50h1v1h-1zM45 50h1v1h-1zM75 50h1v1h-1zM4 51h1v1h-1zM9 51h1v1h-1zM12 51h1v1h-1zM17 51h1v1h-1zM20 51h1v1h-1zM26 51h3v1h-3zM41 51h1v1h-1zM47 51h2v1h-2zM22 52h4v1h-4zM27 52h1v1h-1zM41 52h1v1h-1zM46 52h1v1h-1zM50 52h1v1h-1zM62 52h1v1h-1zM5 53h1v1h-1zM15 53h1v1h-1zM18 53h1v1h-1zM21 53h1v1h-1zM25 53h1v1h-1zM27 53h1v1h-1zM30 53h2v1h-2zM34 53h1v1h-1zM39 53h1v1h-1zM47 53h1v1h-1zM65 53h1v1h-1zM8 54h1v1h-1zM15 54h1v1h-1zM18 54h1v1h-1zM20 54h1v1h-1zM23 54h1v1h-1zM31 54h2v1h-2zM36 54h1v1h-1zM40 54h1v1h-1zM80 54h1v1h-1zM0 55h1v1h-1zM6 55h1v1h-1zM13 55h1v1h-1zM18 55h1v1h-1zM21 55h1v1h-1zM24 55h1v1h-1zM27 55h1v1h-1zM35 55h1v1h-1zM39 55h1v1h-1zM42 55h2v1h-2zM45 55h1v1h-1zM16 56h1v1h-1zM19 56h1v1h-1zM25 56h1v1h-1zM48 56h1v1h-1zM52 56h1v1h-1zM57 56h1v1h-1zM63 56h1v1h-1zM66 56h1v1h-1zM70 56h1v1h-1zM76 56h2v1h-2zM1 57h1v1h-1zM3 57h1v1h-1zM12 57h1v1h-1zM26 57h3v1h-3zM30 57h1v1h-1zM32 57h2v1h-2zM42 57h1v1h-1zM59 57h1v1h-1zM21 58h1v1h-1zM32 58h3v1h-3zM38 58h1v1h-1zM46 58h1v1h-1zM50 58h1v1h-1zM53 58h1v1h-1zM75 58h1v1h-1zM5 59h1v1h-1zM7 59h1v1h-1zM15 59h1v1h-1zM17 59h2v1h-2zM21 59h2v1h-2zM24 59h1v1h-1zM29 59h1v1h-1zM31 59h1v1h-1zM45 59h2v1h-2zM48 59h1v1h-1zM53 59h1v1h-1zM58 59h1v1h-1zM7 60h1v1h-1zM16 60h1v1h-1zM21 60h1v1h-1zM26 60h1v1h-1zM37 60h1v1h-1zM43 60h1v1h-1zM55 60h1v1h-1zM64 60h1v1h-1zM9 61h1v1h-1zM12 61h1v1h-1zM14 61h2v1h-2zM17 61h1v1h-1zM19 61h2v1h-2zM27 61h1v1h-1zM34 61h1v1h-1zM55 61h1v1h-1zM59 61h1v1h-1zM67 61h1v1h-1zM6 62h1v1h-1zM11 62h1v1h-1zM30 62h1v1h-1zM36 62h1v1h-1zM46 62h1v1h-1zM48 62h1v1h-1zM54 62h1v1h-1zM2 63h1v1h-1zM11 63h1v1h-1zM20 63h1v1h-1zM22 63h1v1h-1zM28 63h2v1h-2zM44 63h1v1h-1zM63 63h1v1h-1zM9 64h1v1h-1zM12 64h1v1h-1zM17 64h1v1h-1zM21 64h1v1h-1zM33 64h1v1h-1zM40 64h1v1h-1zM42 64h1v1h-1zM49 64h1v1h-1zM51 64h1v1h-1zM77 64h1v1h-1zM2 65h1v1h-1zM4 65h1v1h-1zM19 65h1v1h-1zM21 65h1v1h-1zM24 65h1v1h-1zM28 65h1v1h-1zM31 65h1v1h-1zM38 65h1v1h-1zM81 65h1v1h-1zM15 66h1v1h-1zM25 66h1v1h-1zM29 66h2v1h-2zM34 66h1v1h-1zM37 66h1v1h-1zM50 66h1v1h-1zM56 66h1v1h-1zM71 66h1v1h-1zM18 67h1v1h-1zM29 67h1v1h-1zM34 67h1v1h-1zM42 67h1v1h-1zM15 68h1v1h-1zM21 68h1v1h-1zM38 68h1v1h-1zM42 68h1v1h-1zM61 68h1v1h-1zM73 68h1v1h-1zM5 69h1v1h-1zM17 69h1v1h-1zM26 69h1v1h-1zM30 69h1v1h-1zM41 69h1v1h-1zM58 69h1v1h-1zM63 69h1v1h-1zM65 69h1v1h-1zM3 70h1v1h-1zM6 70h1v1h-1zM8 70h1v1h-1zM21 70h1v1h-1zM45 70h1v1h-1zM49 70h1v1h-1zM52 70h1v1h-1zM54 70h1v1h-1zM59 70h1v1h-1zM64 70h1v1h-1zM15 71h1v1h-1zM19 71h1v1h-1zM25 71h1v1h-1zM66 71h1v1h-1zM71 71h1v1h-1zM1 72h1v1h-1zM13 72h1v1h-1zM34 72h2v1h-2zM43 72h1v1h-1zM52 72h1v1h-1zM56 72h1v1h-1zM76 72h1v1h-1zM15 73h1v1h-1zM37 73h1v1h-1zM47 73h1v1h-1zM53 73h1v1h-1zM55 73h1v1h-1zM62 73h1v1h-1zM18 74h1v1h-1zM21 74h1v1h-1zM24 74h1v1h-1zM24 75h1v1h-1zM35 75h1v1h-1zM50 75h1v1h-1zM57 75h1v1h-1zM62 75h2v1h-2zM7 76h1v1h-1zM15 76h1v1h-1zM28 76h1v1h-1zM6 77h1v1h-1zM12 77h2v1h-2zM18 77h1v1h-1zM24 77h1v1h-1zM32 77h1v1h-1zM35 77h1v1h-1zM42 77h1v1h-1zM7 78h1v1h-1zM16 78h1v1h-1zM21 78h1v1h-1zM39 78h1v1h-1zM63 78h1v1h-1zM1 79h1v1h-1zM10 79h1v1h-1zM19 79h1v1h-1zM18 80h1v1h-1zM5 81h1v1h-1zM13 81h1v1h-1zM21 81h1v1h-1zM30 81h1v1h-1zM37 83h1v1h-1zM9 85h1v1h-1zM21 86h1v1h-1zM23 86h1v1h-1zM12 87h1v1h-1zM69 87h1v1h-1zM1 88h1v1h-1zM10 88h1v1h-1zM13 88h1v1h-1zM35 90h1v1h-1zM30 92h1v1h-1z"/><path fill="#053d69" d="M18 7h1v1h-1zM21 7h1v1h-1zM52 7h1v1h-1zM29 12h1v1h-1zM40 14h1v1h-1zM17 15h1v1h-1zM28 15h1v1h-1zM8 16h1v1h-1zM41 17h1v1h-1zM29 18h1v1h-1zM31 19h1v1h-1zM32 20h1v1h-1zM41 20h1v1h-1zM50 20h1v1h-1zM8 21h1v1h-1zM12 21h1v1h-1zM26 21h1v1h-1zM33 21h1v1h-1zM36 21h1v1h-1zM16 22h1v1h-1zM18 22h1v1h-1zM27 22h1v1h-1zM33 22h1v1h-1zM7 23h1v1h-1zM13 23h1v1h-1zM16 23h2v1h-2zM41 23h1v1h-1zM8 24h1v1h-1zM24 24h1v1h-1zM33 24h1v1h-1zM6 25h1v1h-1zM14 25h1v1h-1zM17 25h1v1h-1zM25 25h2v1h-2zM29 25h1v1h-1zM35 25h1v1h-1zM11 26h1v1h-1zM14 26h1v1h-1zM35 26h1v1h-1zM37 26h1v1h-1zM45 26h1v1h-1zM7 27h1v1h-1zM39 27h2v1h-2zM47 27h1v1h-1zM71 27h1v1h-1zM29 28h1v1h-1zM36 28h1v1h-1zM50 28h1v1h-1zM21 29h1v1h-1zM50 29h1v1h-1zM34 30h1v1h-1zM37 30h1v1h-1zM52 30h1v1h-1zM65 30h1v1h-1zM9 31h1v1h-1zM15 31h1v1h-1zM17 31h1v1h-1zM31 31h1v1h-1zM33 31h1v1h-1zM42 31h1v1h-1zM48 31h1v1h-1zM70 31h1v1h-1zM23 32h1v1h-1zM38 32h1v1h-1zM41 32h1v1h-1zM55 32h1v1h-1zM60 32h1v1h-1zM16 33h1v1h-1zM29 33h3v1h-3zM66 33h1v1h-1zM69 33h1v1h-1zM9 34h1v1h-1zM11 34h1v1h-1zM16 34h1v1h-1zM22 34h1v1h-1zM25 34h1v1h-1zM27 34h3v1h-3zM36 34h1v1h-1zM39 34h1v1h-1zM50 34h1v1h-1zM55 34h1v1h-1zM64 34h1v1h-1zM77 34h1v1h-1zM10 35h1v1h-1zM15 35h1v1h-1zM28 35h1v1h-1zM31 35h1v1h-1zM47 35h1v1h-1zM50 35h1v1h-1zM53 35h1v1h-1zM84 35h1v1h-1zM18 36h1v1h-1zM21 36h1v1h-1zM30 36h1v1h-1zM34 36h1v1h-1zM41 36h2v1h-2zM54 36h1v1h-1zM56 36h2v1h-2zM60 36h1v1h-1zM62 36h1v1h-1zM66 36h1v1h-1zM12 37h1v1h-1zM15 37h1v1h-1zM29 37h1v1h-1zM31 37h1v1h-1zM38 37h1v1h-1zM59 37h1v1h-1zM61 37h1v1h-1zM13 38h1v1h-1zM17 38h1v1h-1zM20 38h1v1h-1zM25 38h1v1h-1zM31 38h1v1h-1zM36 38h1v1h-1zM45 38h2v1h-2zM53 38h1v1h-1zM73 38h1v1h-1zM7 39h1v1h-1zM12 39h1v1h-1zM18 39h1v1h-1zM20 39h1v1h-1zM26 39h1v1h-1zM28 39h1v1h-1zM34 39h1v1h-1zM45 39h1v1h-1zM50 39h3v1h-3zM56 39h1v1h-1zM66 39h1v1h-1zM28 40h1v1h-1zM35 40h1v1h-1zM39 40h1v1h-1zM44 40h1v1h-1zM52 40h1v1h-1zM61 40h1v1h-1zM7 41h1v1h-1zM12 41h2v1h-2zM17 41h1v1h-1zM23 41h1v1h-1zM35 41h1v1h-1zM74 41h1v1h-1zM78 41h1v1h-1zM6 42h1v1h-1zM16 42h1v1h-1zM23 42h1v1h-1zM26 42h1v1h-1zM29 42h1v1h-1zM36 42h1v1h-1zM54 42h1v1h-1zM59 42h1v1h-1zM64 42h1v1h-1zM66 42h1v1h-1zM13 43h1v1h-1zM19 43h3v1h-3zM23 43h1v1h-1zM26 43h1v1h-1zM33 43h1v1h-1zM39 43h1v1h-1zM43 43h1v1h-1zM48 43h1v1h-1zM73 43h1v1h-1zM14 44h1v1h-1zM26 44h1v1h-1zM35 44h1v1h-1zM38 44h1v1h-1zM41 44h2v1h-2zM4 45h1v1h-1zM11 45h1v1h-1zM20 45h2v1h-2zM26 45h1v1h-1zM34 45h1v1h-1zM41 45h1v1h-1zM52 45h1v1h-1zM57 45h1v1h-1zM69 45h1v1h-1zM80 45h1v1h-1zM19 46h2v1h-2zM24 46h1v1h-1zM32 46h1v1h-1zM45 46h1v1h-1zM47 46h1v1h-1zM49 46h1v1h-1zM53 46h1v1h-1zM14 47h3v1h-3zM23 47h1v1h-1zM31 47h1v1h-1zM44 47h1v1h-1zM49 47h1v1h-1zM57 47h1v1h-1zM63 47h1v1h-1zM8 48h1v1h-1zM12 48h1v1h-1zM14 48h1v1h-1zM20 48h1v1h-1zM22 48h1v1h-1zM24 48h1v1h-1zM30 48h1v1h-1zM44 48h1v1h-1zM53 48h1v1h-1zM59 48h1v1h-1zM6 49h1v1h-1zM9 49h1v1h-1zM18 49h1v1h-1zM24 49h1v1h-1zM26 49h1v1h-1zM39 49h1v1h-1zM41 49h1v1h-1zM48 49h1v1h-1zM54 49h1v1h-1zM10 50h1v1h-1zM16 50h1v1h-1zM18 50h1v1h-1zM20 50h1v1h-1zM24 50h2v1h-2zM30 50h2v1h-2zM39 50h1v1h-1zM48 50h1v1h-1zM56 50h1v1h-1zM63 50h1v1h-1zM7 51h1v1h-1zM11 51h1v1h-1zM13 51h2v1h-2zM25 51h1v1h-1zM29 51h1v1h-1zM31 51h1v1h-1zM34 51h1v1h-1zM38 51h1v1h-1zM40 51h1v1h-1zM46 51h1v1h-1zM56 51h2v1h-2zM59 51h1v1h-1zM11 52h1v1h-1zM18 52h1v1h-1zM29 52h2v1h-2zM43 52h1v1h-1zM51 52h1v1h-1zM67 52h1v1h-1zM3 53h1v1h-1zM9 53h1v1h-1zM16 53h1v1h-1zM19 53h2v1h-2zM23 53h1v1h-1zM32 53h1v1h-1zM36 53h1v1h-1zM51 53h2v1h-2zM59 53h1v1h-1zM3 54h1v1h-1zM5 54h1v1h-1zM16 54h2v1h-2zM30 54h1v1h-1zM33 54h2v1h-2zM39 54h1v1h-1zM41 54h1v1h-1zM51 54h1v1h-1zM53 54h1v1h-1zM14 55h1v1h-1zM22 55h1v1h-1zM26 55h1v1h-1zM29 55h1v1h-1zM32 55h2v1h-2zM37 55h2v1h-2zM48 55h1v1h-1zM54 55h1v1h-1zM59 55h1v1h-1zM67 55h1v1h-1zM8 56h1v1h-1zM22 56h2v1h-2zM27 56h1v1h-1zM40 56h1v1h-1zM43 56h1v1h-1zM59 56h1v1h-1zM11 57h1v1h-1zM13 57h1v1h-1zM36 57h2v1h-2zM48 57h1v1h-1zM53 57h1v1h-1zM63 57h1v1h-1zM3 58h1v1h-1zM9 58h3v1h-3zM16 58h1v1h-1zM19 58h2v1h-2zM24 58h1v1h-1zM31 58h1v1h-1zM35 58h1v1h-1zM41 58h1v1h-1zM3 59h1v1h-1zM13 59h1v1h-1zM28 59h1v1h-1zM39 59h1v1h-1zM41 59h1v1h-1zM43 59h1v1h-1zM63 59h1v1h-1zM10 60h2v1h-2zM29 60h1v1h-1zM32 60h2v1h-2zM39 60h2v1h-2zM45 60h1v1h-1zM48 60h2v1h-2zM63 60h1v1h-1zM65 60h1v1h-1zM7 61h1v1h-1zM16 61h1v1h-1zM29 61h1v1h-1zM40 61h3v1h-3zM56 61h1v1h-1zM65 61h1v1h-1zM2 62h1v1h-1zM17 62h1v1h-1zM27 62h2v1h-2zM41 62h1v1h-1zM49 62h1v1h-1zM56 62h1v1h-1zM9 63h1v1h-1zM30 63h1v1h-1zM36 63h2v1h-2zM39 63h1v1h-1zM41 63h2v1h-2zM47 63h1v1h-1zM8 64h1v1h-1zM15 64h2v1h-2zM27 64h1v1h-1zM32 64h1v1h-1zM35 64h1v1h-1zM48 64h1v1h-1zM53 64h1v1h-1zM72 64h1v1h-1zM5 65h1v1h-1zM10 65h1v1h-1zM16 65h1v1h-1zM22 65h1v1h-1zM27 65h1v1h-1zM33 65h1v1h-1zM44 65h1v1h-1zM85 65h1v1h-1zM3 66h1v1h-1zM7 66h1v1h-1zM9 66h1v1h-1zM16 66h1v1h-1zM24 66h1v1h-1zM38 66h1v1h-1zM48 66h1v1h-1zM55 66h1v1h-1zM75 66h1v1h-1zM2 67h1v1h-1zM13 67h1v1h-1zM15 67h1v1h-1zM19 67h1v1h-1zM23 67h1v1h-1zM39 67h2v1h-2zM50 67h1v1h-1zM53 67h1v1h-1zM59 67h1v1h-1zM12 68h1v1h-1zM17 68h1v1h-1zM19 68h1v1h-1zM34 68h2v1h-2zM57 68h2v1h-2zM8 69h1v1h-1zM11 69h1v1h-1zM19 69h3v1h-3zM31 69h1v1h-1zM34 69h1v1h-1zM36 69h1v1h-1zM47 69h1v1h-1zM12 70h1v1h-1zM19 70h1v1h-1zM22 70h2v1h-2zM31 70h1v1h-1zM46 70h1v1h-1zM50 70h2v1h-2zM16 71h1v1h-1zM24 71h1v1h-1zM36 71h1v1h-1zM45 71h1v1h-1zM50 71h1v1h-1zM55 71h1v1h-1zM68 71h1v1h-1zM6 72h1v1h-1zM8 72h1v1h-1zM17 72h1v1h-1zM20 72h1v1h-1zM26 72h1v1h-1zM36 72h1v1h-1zM64 72h1v1h-1zM2 73h1v1h-1zM8 73h1v1h-1zM11 73h1v1h-1zM20 73h1v1h-1zM26 73h1v1h-1zM29 73h1v1h-1zM65 73h1v1h-1zM73 73h1v1h-1zM11 74h2v1h-2zM34 74h1v1h-1zM37 74h1v1h-1zM41 74h1v1h-1zM52 74h1v1h-1zM59 74h1v1h-1zM61 74h1v1h-1zM68 74h1v1h-1zM7 75h1v1h-1zM20 75h1v1h-1zM28 75h1v1h-1zM30 75h1v1h-1zM80 75h1v1h-1zM16 76h1v1h-1zM30 76h1v1h-1zM37 76h1v1h-1zM43 76h1v1h-1zM4 77h1v1h-1zM76 77h1v1h-1zM10 78h2v1h-2zM19 78h1v1h-1zM26 78h1v1h-1zM30 78h1v1h-1zM58 78h1v1h-1zM65 78h1v1h-1zM4 79h1v1h-1zM18 79h1v1h-1zM52 79h1v1h-1zM6 80h1v1h-1zM21 80h1v1h-1zM26 80h2v1h-2zM30 80h1v1h-1zM32 80h1v1h-1zM39 80h1v1h-1zM49 80h1v1h-1zM41 82h1v1h-1zM55 82h1v1h-1zM77 82h1v1h-1zM28 83h1v1h-1zM32 83h1v1h-1zM27 84h1v1h-1zM31 84h1v1h-1zM4 85h1v1h-1zM6 85h1v1h-1zM35 85h1v1h-1zM32 86h1v1h-1zM37 86h1v1h-1zM19 87h1v1h-1zM47 87h1v1h-1zM23 88h1v1h-1zM27 88h1v1h-1zM9 89h2v1h-2z"/><path fill="#084365" d="M27 4h1v1h-1zM15 5h1v1h-1zM16 8h1v1h-1zM39 9h1v1h-1zM20 10h1v1h-1zM27 10h1v1h-1zM19 11h1v1h-1zM37 12h1v1h-1zM39 13h1v1h-1zM28 14h1v1h-1zM37 14h1v1h-1zM10 16h1v1h-1zM24 16h1v1h-1zM21 17h1v1h-1zM26 18h1v1h-1zM30 18h1v1h-1zM29 19h1v1h-1zM16 20h1v1h-1zM42 20h1v1h-1zM45 20h1v1h-1zM48 20h1v1h-1zM25 21h1v1h-1zM27 21h1v1h-1zM31 21h1v1h-1zM9 23h1v1h-1zM19 23h1v1h-1zM22 23h1v1h-1zM28 23h1v1h-1zM35 23h1v1h-1zM39 23h1v1h-1zM17 24h1v1h-1zM28 24h1v1h-1zM37 24h1v1h-1zM41 24h1v1h-1zM9 25h1v1h-1zM42 25h1v1h-1zM45 25h1v1h-1zM19 26h1v1h-1zM60 26h1v1h-1zM62 26h1v1h-1zM12 27h1v1h-1zM18 27h2v1h-2zM21 27h1v1h-1zM24 27h1v1h-1zM31 27h1v1h-1zM25 28h1v1h-1zM30 28h1v1h-1zM32 28h1v1h-1zM40 28h1v1h-1zM4 29h2v1h-2zM17 29h1v1h-1zM48 29h1v1h-1zM57 29h1v1h-1zM32 30h1v1h-1zM35 30h1v1h-1zM54 30h1v1h-1zM62 30h1v1h-1zM75 30h1v1h-1zM16 31h1v1h-1zM21 31h1v1h-1zM25 31h2v1h-2zM50 31h1v1h-1zM58 31h1v1h-1zM60 31h1v1h-1zM14 32h1v1h-1zM16 32h1v1h-1zM28 32h1v1h-1zM33 32h1v1h-1zM48 32h1v1h-1zM88 32h1v1h-1zM20 33h1v1h-1zM35 33h1v1h-1zM40 33h1v1h-1zM53 33h1v1h-1zM86 33h1v1h-1zM30 34h1v1h-1zM67 34h1v1h-1zM5 35h1v1h-1zM11 35h1v1h-1zM20 35h1v1h-1zM38 35h1v1h-1zM40 35h1v1h-1zM43 35h1v1h-1zM49 35h1v1h-1zM51 35h1v1h-1zM57 35h1v1h-1zM64 35h1v1h-1zM11 36h1v1h-1zM14 36h1v1h-1zM20 36h1v1h-1zM32 36h1v1h-1zM38 36h1v1h-1zM44 36h1v1h-1zM63 36h1v1h-1zM1 37h1v1h-1zM10 37h1v1h-1zM19 37h1v1h-1zM50 37h1v1h-1zM52 37h1v1h-1zM60 37h1v1h-1zM69 37h1v1h-1zM10 38h1v1h-1zM14 38h1v1h-1zM27 38h1v1h-1zM59 38h1v1h-1zM63 38h1v1h-1zM70 38h1v1h-1zM15 39h2v1h-2zM37 39h1v1h-1zM58 39h1v1h-1zM78 39h1v1h-1zM11 40h1v1h-1zM19 40h1v1h-1zM21 40h1v1h-1zM25 40h1v1h-1zM31 40h1v1h-1zM34 40h1v1h-1zM40 40h1v1h-1zM54 40h1v1h-1zM57 40h1v1h-1zM68 40h1v1h-1zM1 41h1v1h-1zM15 41h1v1h-1zM20 41h1v1h-1zM30 41h1v1h-1zM32 41h1v1h-1zM36 41h1v1h-1zM38 41h1v1h-1zM50 41h1v1h-1zM56 41h2v1h-2zM62 41h1v1h-1zM13 42h1v1h-1zM21 42h1v1h-1zM38 42h1v1h-1zM41 42h1v1h-1zM51 42h1v1h-1zM61 42h1v1h-1zM87 42h1v1h-1zM27 43h2v1h-2zM30 43h1v1h-1zM35 43h1v1h-1zM40 43h1v1h-1zM56 43h1v1h-1zM58 43h1v1h-1zM25 44h1v1h-1zM32 44h2v1h-2zM43 44h1v1h-1zM57 44h1v1h-1zM61 44h1v1h-1zM72 44h1v1h-1zM80 44h1v1h-1zM5 45h1v1h-1zM15 45h1v1h-1zM17 45h1v1h-1zM19 45h1v1h-1zM25 45h1v1h-1zM28 45h2v1h-2zM32 45h1v1h-1zM35 45h1v1h-1zM37 45h1v1h-1zM40 45h1v1h-1zM50 45h2v1h-2zM5 46h1v1h-1zM9 46h1v1h-1zM13 46h1v1h-1zM31 46h1v1h-1zM37 46h1v1h-1zM39 46h1v1h-1zM43 46h1v1h-1zM46 46h1v1h-1zM51 46h1v1h-1zM59 46h1v1h-1zM4 47h1v1h-1zM10 47h1v1h-1zM19 47h1v1h-1zM25 47h2v1h-2zM30 47h1v1h-1zM37 47h1v1h-1zM41 47h1v1h-1zM55 47h1v1h-1zM78 47h1v1h-1zM9 48h2v1h-2zM25 48h1v1h-1zM27 48h1v1h-1zM50 48h1v1h-1zM54 48h1v1h-1zM85 48h1v1h-1zM11 49h2v1h-2zM15 49h1v1h-1zM28 49h1v1h-1zM30 49h1v1h-1zM33 49h1v1h-1zM43 49h1v1h-1zM46 49h1v1h-1zM53 49h1v1h-1zM9 50h1v1h-1zM11 50h1v1h-1zM19 50h1v1h-1zM22 50h1v1h-1zM26 50h1v1h-1zM28 50h1v1h-1zM34 50h1v1h-1zM37 50h1v1h-1zM51 50h1v1h-1zM57 50h1v1h-1zM6 51h1v1h-1zM8 51h1v1h-1zM18 51h2v1h-2zM23 51h2v1h-2zM32 51h1v1h-1zM37 51h1v1h-1zM50 51h1v1h-1zM54 51h1v1h-1zM58 51h1v1h-1zM20 52h1v1h-1zM26 52h1v1h-1zM33 52h1v1h-1zM39 52h1v1h-1zM42 52h1v1h-1zM7 53h1v1h-1zM10 53h1v1h-1zM13 53h1v1h-1zM24 53h1v1h-1zM28 53h1v1h-1zM37 53h1v1h-1zM45 53h1v1h-1zM64 53h1v1h-1zM7 54h1v1h-1zM21 54h1v1h-1zM28 54h2v1h-2zM55 54h1v1h-1zM57 54h1v1h-1zM59 54h1v1h-1zM3 55h1v1h-1zM9 55h1v1h-1zM20 55h1v1h-1zM28 55h1v1h-1zM30 55h2v1h-2zM46 55h1v1h-1zM51 55h1v1h-1zM58 55h1v1h-1zM1 56h2v1h-2zM11 56h1v1h-1zM13 56h1v1h-1zM17 56h1v1h-1zM32 56h1v1h-1zM34 56h1v1h-1zM39 56h1v1h-1zM41 56h1v1h-1zM46 56h1v1h-1zM61 56h1v1h-1zM69 56h1v1h-1zM10 57h1v1h-1zM16 57h1v1h-1zM20 57h1v1h-1zM24 57h1v1h-1zM29 57h1v1h-1zM39 57h1v1h-1zM44 57h1v1h-1zM51 57h2v1h-2zM58 57h1v1h-1zM8 58h1v1h-1zM17 58h2v1h-2zM37 58h1v1h-1zM40 58h1v1h-1zM43 58h2v1h-2zM49 58h1v1h-1zM52 58h1v1h-1zM58 58h1v1h-1zM63 58h1v1h-1zM8 59h1v1h-1zM35 59h1v1h-1zM37 59h2v1h-2zM40 59h1v1h-1zM51 59h1v1h-1zM59 59h1v1h-1zM64 59h1v1h-1zM74 59h1v1h-1zM3 60h1v1h-1zM5 60h1v1h-1zM24 60h1v1h-1zM42 60h1v1h-1zM51 60h1v1h-1zM21 61h1v1h-1zM38 61h1v1h-1zM51 61h1v1h-1zM54 61h1v1h-1zM12 62h1v1h-1zM15 62h1v1h-1zM21 62h1v1h-1zM25 62h2v1h-2zM31 62h1v1h-1zM33 62h1v1h-1zM44 62h1v1h-1zM66 62h2v1h-2zM84 62h1v1h-1zM6 63h1v1h-1zM14 63h1v1h-1zM26 63h1v1h-1zM48 63h2v1h-2zM53 63h1v1h-1zM56 63h3v1h-3zM60 63h1v1h-1zM64 63h1v1h-1zM75 63h1v1h-1zM79 63h1v1h-1zM34 64h1v1h-1zM36 64h1v1h-1zM44 64h1v1h-1zM57 64h1v1h-1zM6 65h1v1h-1zM9 65h1v1h-1zM15 65h1v1h-1zM17 65h1v1h-1zM20 65h1v1h-1zM26 65h1v1h-1zM32 65h1v1h-1zM34 65h1v1h-1zM36 65h1v1h-1zM39 65h1v1h-1zM45 65h3v1h-3zM56 65h1v1h-1zM59 65h1v1h-1zM67 65h1v1h-1zM4 66h1v1h-1zM22 66h2v1h-2zM26 66h1v1h-1zM33 66h1v1h-1zM54 66h1v1h-1zM65 66h1v1h-1zM17 67h1v1h-1zM24 67h1v1h-1zM28 67h1v1h-1zM30 67h1v1h-1zM33 67h1v1h-1zM41 67h1v1h-1zM57 67h1v1h-1zM72 67h1v1h-1zM77 67h1v1h-1zM31 68h1v1h-1zM47 68h1v1h-1zM60 68h1v1h-1zM62 68h1v1h-1zM12 69h1v1h-1zM29 69h1v1h-1zM60 69h1v1h-1zM66 69h1v1h-1zM7 70h1v1h-1zM13 70h1v1h-1zM24 70h1v1h-1zM26 70h1v1h-1zM28 70h1v1h-1zM42 70h1v1h-1zM58 70h1v1h-1zM60 70h1v1h-1zM65 70h1v1h-1zM67 70h1v1h-1zM78 70h1v1h-1zM10 71h1v1h-1zM17 71h2v1h-2zM27 71h1v1h-1zM38 71h2v1h-2zM46 71h1v1h-1zM62 71h1v1h-1zM9 72h1v1h-1zM12 72h1v1h-1zM18 72h1v1h-1zM29 72h1v1h-1zM31 72h1v1h-1zM38 72h1v1h-1zM51 72h1v1h-1zM62 72h1v1h-1zM10 73h1v1h-1zM24 73h2v1h-2zM34 73h1v1h-1zM45 73h2v1h-2zM17 74h1v1h-1zM26 74h1v1h-1zM30 74h1v1h-1zM35 74h2v1h-2zM44 74h1v1h-1zM46 74h1v1h-1zM55 74h1v1h-1zM76 74h1v1h-1zM6 75h1v1h-1zM11 75h1v1h-1zM13 75h1v1h-1zM19 75h1v1h-1zM21 75h1v1h-1zM29 75h1v1h-1zM46 75h1v1h-1zM56 75h1v1h-1zM9 76h1v1h-1zM11 76h1v1h-1zM19 76h1v1h-1zM45 76h1v1h-1zM55 76h1v1h-1zM60 76h1v1h-1zM7 77h1v1h-1zM17 77h1v1h-1zM21 77h1v1h-1zM26 77h1v1h-1zM38 77h2v1h-2zM49 77h1v1h-1zM17 78h1v1h-1zM27 78h1v1h-1zM56 78h1v1h-1zM59 78h1v1h-1zM61 78h1v1h-1zM16 79h1v1h-1zM21 79h1v1h-1zM42 80h1v1h-1zM20 81h1v1h-1zM26 81h1v1h-1zM41 81h1v1h-1zM47 81h1v1h-1zM31 82h1v1h-1zM45 85h1v1h-1zM39 86h3v1h-3zM19 88h1v1h-1zM28 96h1v1h-1z"/><path fill="#0a4961" d="M20 4h1v1h-1zM14 8h1v1h-1zM20 11h2v1h-2zM38 11h1v1h-1zM42 11h1v1h-1zM39 12h1v1h-1zM42 12h1v1h-1zM20 14h1v1h-1zM38 14h1v1h-1zM11 15h1v1h-1zM42 15h1v1h-1zM46 15h1v1h-1zM15 16h1v1h-1zM36 16h1v1h-1zM24 17h2v1h-2zM32 17h1v1h-1zM16 18h1v1h-1zM5 19h1v1h-1zM46 19h1v1h-1zM10 20h1v1h-1zM19 20h1v1h-1zM13 21h1v1h-1zM34 22h1v1h-1zM8 23h1v1h-1zM18 23h1v1h-1zM20 23h1v1h-1zM31 23h1v1h-1zM38 23h1v1h-1zM15 24h2v1h-2zM22 24h1v1h-1zM34 24h1v1h-1zM39 24h1v1h-1zM10 25h1v1h-1zM23 25h1v1h-1zM37 25h1v1h-1zM3 26h1v1h-1zM10 26h1v1h-1zM15 26h1v1h-1zM5 27h1v1h-1zM13 27h1v1h-1zM5 28h1v1h-1zM11 28h1v1h-1zM19 28h1v1h-1zM27 28h1v1h-1zM12 29h1v1h-1zM14 29h1v1h-1zM16 29h1v1h-1zM25 29h1v1h-1zM31 29h2v1h-2zM34 29h1v1h-1zM74 29h1v1h-1zM3 30h1v1h-1zM29 30h1v1h-1zM48 30h1v1h-1zM63 30h1v1h-1zM6 31h1v1h-1zM27 31h1v1h-1zM30 31h1v1h-1zM36 31h1v1h-1zM41 31h1v1h-1zM2 32h1v1h-1zM12 32h1v1h-1zM24 32h1v1h-1zM7 33h1v1h-1zM23 33h1v1h-1zM34 33h1v1h-1zM36 33h1v1h-1zM80 33h1v1h-1zM5 34h1v1h-1zM19 34h1v1h-1zM49 34h1v1h-1zM66 34h1v1h-1zM7 35h1v1h-1zM19 35h1v1h-1zM26 35h1v1h-1zM48 35h1v1h-1zM75 35h1v1h-1zM8 36h1v1h-1zM10 36h1v1h-1zM19 36h1v1h-1zM24 36h1v1h-1zM27 36h1v1h-1zM35 36h1v1h-1zM49 36h1v1h-1zM51 36h1v1h-1zM58 36h1v1h-1zM65 36h1v1h-1zM75 36h1v1h-1zM20 37h1v1h-1zM24 37h1v1h-1zM72 37h1v1h-1zM15 38h1v1h-1zM18 38h1v1h-1zM37 38h1v1h-1zM58 38h1v1h-1zM67 38h2v1h-2zM71 38h1v1h-1zM22 39h1v1h-1zM49 39h1v1h-1zM61 39h1v1h-1zM69 39h1v1h-1zM8 40h1v1h-1zM16 40h2v1h-2zM30 40h1v1h-1zM33 40h1v1h-1zM38 40h1v1h-1zM59 40h1v1h-1zM66 40h1v1h-1zM14 41h1v1h-1zM16 41h1v1h-1zM33 41h1v1h-1zM40 41h2v1h-2zM55 41h1v1h-1zM59 41h1v1h-1zM67 41h1v1h-1zM77 41h1v1h-1zM2 42h1v1h-1zM7 42h1v1h-1zM10 42h2v1h-2zM22 42h1v1h-1zM43 42h2v1h-2zM77 42h2v1h-2zM3 43h1v1h-1zM7 43h1v1h-1zM14 43h1v1h-1zM16 43h2v1h-2zM54 43h1v1h-1zM71 43h1v1h-1zM16 44h1v1h-1zM18 44h3v1h-3zM22 44h1v1h-1zM34 44h1v1h-1zM36 44h1v1h-1zM39 44h1v1h-1zM44 44h1v1h-1zM55 44h2v1h-2zM66 44h2v1h-2zM71 44h1v1h-1zM27 45h1v1h-1zM42 45h1v1h-1zM56 45h1v1h-1zM11 46h1v1h-1zM15 46h1v1h-1zM18 46h1v1h-1zM41 46h1v1h-1zM11 47h2v1h-2zM18 47h1v1h-1zM27 47h2v1h-2zM32 47h1v1h-1zM42 47h1v1h-1zM48 47h1v1h-1zM50 47h1v1h-1zM61 47h1v1h-1zM15 48h1v1h-1zM32 48h1v1h-1zM46 48h1v1h-1zM49 48h1v1h-1zM80 48h1v1h-1zM7 49h1v1h-1zM17 49h1v1h-1zM31 49h1v1h-1zM36 49h1v1h-1zM51 49h1v1h-1zM68 49h1v1h-1zM0 50h1v1h-1zM14 50h1v1h-1zM35 50h1v1h-1zM44 50h1v1h-1zM47 50h1v1h-1zM1 51h1v1h-1zM10 51h1v1h-1zM16 51h1v1h-1zM21 51h1v1h-1zM39 51h1v1h-1zM51 51h1v1h-1zM0 52h1v1h-1zM13 52h1v1h-1zM35 52h2v1h-2zM45 52h1v1h-1zM48 52h1v1h-1zM56 52h1v1h-1zM58 52h1v1h-1zM65 52h1v1h-1zM1 53h1v1h-1zM4 53h1v1h-1zM33 53h1v1h-1zM56 53h1v1h-1zM14 54h1v1h-1zM25 54h1v1h-1zM35 54h1v1h-1zM37 54h1v1h-1zM45 54h1v1h-1zM50 54h1v1h-1zM52 54h1v1h-1zM62 54h2v1h-2zM65 54h1v1h-1zM72 54h1v1h-1zM10 55h1v1h-1zM25 55h1v1h-1zM34 55h1v1h-1zM36 55h1v1h-1zM40 55h2v1h-2zM4 56h1v1h-1zM6 56h1v1h-1zM26 56h1v1h-1zM44 56h2v1h-2zM72 56h1v1h-1zM31 57h1v1h-1zM41 57h1v1h-1zM46 57h1v1h-1zM50 57h1v1h-1zM57 57h1v1h-1zM68 57h1v1h-1zM15 58h1v1h-1zM25 58h1v1h-1zM30 58h1v1h-1zM47 58h1v1h-1zM61 58h1v1h-1zM88 58h1v1h-1zM6 59h1v1h-1zM9 59h1v1h-1zM14 59h1v1h-1zM19 59h2v1h-2zM32 59h1v1h-1zM65 59h1v1h-1zM69 59h1v1h-1zM72 59h1v1h-1zM18 60h1v1h-1zM23 60h1v1h-1zM25 60h1v1h-1zM35 60h1v1h-1zM38 60h1v1h-1zM53 60h1v1h-1zM62 60h1v1h-1zM1 61h1v1h-1zM6 61h1v1h-1zM8 61h1v1h-1zM22 61h2v1h-2zM28 61h1v1h-1zM30 61h1v1h-1zM43 61h1v1h-1zM49 61h2v1h-2zM62 61h1v1h-1zM69 61h1v1h-1zM72 61h1v1h-1zM13 62h1v1h-1zM53 62h1v1h-1zM64 62h1v1h-1zM13 63h1v1h-1zM15 63h1v1h-1zM76 63h1v1h-1zM19 64h2v1h-2zM41 64h1v1h-1zM52 64h1v1h-1zM82 64h1v1h-1zM25 65h1v1h-1zM43 65h1v1h-1zM48 65h1v1h-1zM53 65h1v1h-1zM60 65h1v1h-1zM65 65h1v1h-1zM75 65h1v1h-1zM28 66h1v1h-1zM42 66h1v1h-1zM46 66h1v1h-1zM64 66h1v1h-1zM72 66h1v1h-1zM22 67h1v1h-1zM44 67h2v1h-2zM52 67h1v1h-1zM58 67h1v1h-1zM71 67h1v1h-1zM13 68h1v1h-1zM32 68h1v1h-1zM51 68h1v1h-1zM66 68h1v1h-1zM32 69h1v1h-1zM53 69h2v1h-2zM62 69h1v1h-1zM17 70h1v1h-1zM27 70h1v1h-1zM29 70h1v1h-1zM33 70h1v1h-1zM48 70h1v1h-1zM23 71h1v1h-1zM26 71h1v1h-1zM56 71h1v1h-1zM85 71h1v1h-1zM2 72h1v1h-1zM14 72h1v1h-1zM19 72h1v1h-1zM24 72h2v1h-2zM28 72h1v1h-1zM30 72h1v1h-1zM37 72h1v1h-1zM39 72h1v1h-1zM63 72h1v1h-1zM66 72h1v1h-1zM14 73h1v1h-1zM22 73h1v1h-1zM36 73h1v1h-1zM42 73h1v1h-1zM58 73h1v1h-1zM20 74h1v1h-1zM32 74h1v1h-1zM48 74h1v1h-1zM9 75h1v1h-1zM14 75h1v1h-1zM18 75h1v1h-1zM23 75h1v1h-1zM25 75h1v1h-1zM49 75h1v1h-1zM53 75h1v1h-1zM24 76h1v1h-1zM27 76h1v1h-1zM35 76h1v1h-1zM41 76h1v1h-1zM10 77h1v1h-1zM16 77h1v1h-1zM44 77h1v1h-1zM5 78h1v1h-1zM9 78h1v1h-1zM12 78h1v1h-1zM23 78h1v1h-1zM25 78h1v1h-1zM60 78h1v1h-1zM13 79h1v1h-1zM17 79h1v1h-1zM20 79h1v1h-1zM28 79h1v1h-1zM59 79h1v1h-1zM71 79h1v1h-1zM3 80h1v1h-1zM74 80h1v1h-1zM22 81h1v1h-1zM28 81h1v1h-1zM15 82h1v1h-1zM21 82h1v1h-1zM24 82h1v1h-1zM29 82h1v1h-1zM35 82h1v1h-1zM45 82h1v1h-1zM9 83h1v1h-1zM21 83h1v1h-1zM29 83h1v1h-1zM41 83h1v1h-1zM45 83h1v1h-1zM47 83h1v1h-1zM22 84h1v1h-1zM8 85h1v1h-1zM39 85h1v1h-1zM32 87h1v1h-1zM60 87h1v1h-1zM14 88h1v1h-1zM69 88h1v1h-1zM9 90h1v1h-1z"/><path fill="#0d4e5c" d="M12 7h1v1h-1zM18 11h1v1h-1zM26 12h1v1h-1zM35 14h1v1h-1zM37 15h1v1h-1zM27 16h1v1h-1zM46 17h1v1h-1zM23 18h1v1h-1zM18 19h1v1h-1zM21 20h1v1h-1zM43 20h1v1h-1zM10 21h1v1h-1zM35 21h1v1h-1zM40 22h1v1h-1zM78 23h1v1h-1zM23 24h1v1h-1zM72 24h1v1h-1zM20 25h1v1h-1zM27 25h1v1h-1zM32 25h1v1h-1zM8 26h1v1h-1zM24 26h1v1h-1zM30 26h1v1h-1zM68 26h1v1h-1zM26 27h1v1h-1zM33 27h1v1h-1zM37 28h1v1h-1zM41 28h1v1h-1zM71 28h1v1h-1zM8 29h1v1h-1zM24 29h1v1h-1zM28 29h1v1h-1zM30 29h1v1h-1zM35 29h1v1h-1zM39 29h1v1h-1zM62 29h1v1h-1zM20 30h1v1h-1zM30 30h1v1h-1zM32 31h1v1h-1zM71 31h1v1h-1zM5 32h1v1h-1zM13 32h1v1h-1zM21 32h1v1h-1zM42 32h1v1h-1zM79 32h1v1h-1zM17 33h1v1h-1zM18 34h1v1h-1zM47 34h1v1h-1zM29 35h1v1h-1zM33 35h1v1h-1zM58 35h1v1h-1zM81 35h1v1h-1zM12 36h1v1h-1zM74 36h1v1h-1zM77 36h1v1h-1zM14 37h1v1h-1zM23 37h1v1h-1zM51 37h1v1h-1zM8 38h1v1h-1zM26 38h1v1h-1zM61 38h1v1h-1zM5 39h1v1h-1zM8 39h1v1h-1zM10 39h1v1h-1zM37 40h1v1h-1zM51 40h1v1h-1zM71 40h1v1h-1zM77 40h1v1h-1zM4 41h1v1h-1zM10 41h1v1h-1zM37 41h1v1h-1zM39 41h1v1h-1zM44 41h1v1h-1zM54 41h1v1h-1zM64 41h1v1h-1zM20 42h1v1h-1zM34 42h1v1h-1zM50 42h1v1h-1zM31 43h1v1h-1zM44 43h1v1h-1zM69 43h1v1h-1zM47 44h1v1h-1zM58 44h1v1h-1zM63 44h1v1h-1zM9 45h1v1h-1zM47 45h1v1h-1zM49 45h1v1h-1zM53 45h1v1h-1zM62 45h1v1h-1zM64 45h1v1h-1zM12 46h1v1h-1zM27 46h1v1h-1zM34 46h1v1h-1zM50 46h1v1h-1zM56 46h1v1h-1zM60 46h1v1h-1zM63 46h1v1h-1zM65 46h2v1h-2zM78 46h1v1h-1zM39 47h1v1h-1zM91 47h1v1h-1zM1 48h1v1h-1zM4 48h1v1h-1zM29 48h1v1h-1zM33 48h1v1h-1zM35 48h1v1h-1zM43 48h1v1h-1zM66 48h1v1h-1zM25 49h1v1h-1zM44 49h1v1h-1zM50 49h1v1h-1zM55 49h1v1h-1zM69 49h1v1h-1zM12 50h1v1h-1zM52 50h3v1h-3zM59 50h1v1h-1zM2 51h1v1h-1zM53 51h1v1h-1zM10 52h1v1h-1zM12 52h1v1h-1zM54 52h1v1h-1zM61 52h1v1h-1zM8 53h1v1h-1zM35 53h1v1h-1zM41 53h1v1h-1zM43 53h1v1h-1zM48 53h1v1h-1zM53 53h1v1h-1zM0 54h1v1h-1zM38 54h1v1h-1zM44 54h1v1h-1zM48 54h2v1h-2zM5 55h1v1h-1zM11 55h1v1h-1zM49 55h1v1h-1zM56 55h1v1h-1zM64 55h1v1h-1zM24 56h1v1h-1zM36 56h2v1h-2zM67 56h1v1h-1zM9 57h1v1h-1zM34 57h1v1h-1zM47 57h1v1h-1zM49 57h1v1h-1zM55 57h1v1h-1zM73 57h1v1h-1zM48 58h1v1h-1zM77 58h1v1h-1zM81 58h1v1h-1zM49 59h1v1h-1zM62 59h1v1h-1zM82 59h1v1h-1zM84 59h1v1h-1zM9 60h1v1h-1zM12 60h1v1h-1zM34 60h1v1h-1zM36 60h1v1h-1zM46 60h2v1h-2zM54 60h1v1h-1zM56 60h1v1h-1zM58 60h1v1h-1zM61 60h1v1h-1zM77 60h1v1h-1zM3 61h1v1h-1zM46 61h1v1h-1zM48 61h1v1h-1zM63 61h1v1h-1zM68 61h1v1h-1zM7 62h1v1h-1zM22 62h3v1h-3zM34 62h1v1h-1zM38 62h1v1h-1zM45 62h1v1h-1zM47 62h1v1h-1zM51 62h1v1h-1zM57 62h1v1h-1zM61 62h1v1h-1zM3 63h1v1h-1zM21 63h1v1h-1zM62 63h1v1h-1zM28 64h1v1h-1zM63 64h3v1h-3zM74 64h1v1h-1zM42 65h1v1h-1zM49 65h1v1h-1zM52 65h1v1h-1zM79 65h1v1h-1zM10 66h1v1h-1zM13 66h1v1h-1zM19 66h2v1h-2zM45 66h1v1h-1zM51 66h2v1h-2zM68 66h1v1h-1zM8 67h1v1h-1zM25 67h1v1h-1zM27 67h1v1h-1zM56 67h1v1h-1zM61 67h1v1h-1zM69 67h1v1h-1zM8 68h1v1h-1zM22 68h1v1h-1zM50 68h1v1h-1zM52 68h1v1h-1zM77 68h1v1h-1zM7 69h1v1h-1zM14 69h1v1h-1zM39 69h1v1h-1zM57 69h1v1h-1zM10 70h1v1h-1zM15 70h2v1h-2zM20 70h1v1h-1zM55 70h1v1h-1zM11 71h1v1h-1zM20 71h1v1h-1zM43 71h1v1h-1zM48 71h1v1h-1zM50 72h1v1h-1zM55 72h1v1h-1zM9 73h1v1h-1zM21 73h1v1h-1zM63 73h1v1h-1zM14 74h1v1h-1zM19 74h1v1h-1zM25 74h1v1h-1zM42 74h1v1h-1zM50 74h1v1h-1zM70 74h1v1h-1zM27 75h1v1h-1zM36 75h1v1h-1zM54 75h1v1h-1zM8 76h1v1h-1zM12 76h1v1h-1zM18 76h1v1h-1zM33 76h1v1h-1zM52 76h1v1h-1zM58 76h1v1h-1zM5 77h1v1h-1zM22 77h1v1h-1zM43 77h1v1h-1zM33 78h1v1h-1zM2 79h1v1h-1zM7 79h1v1h-1zM9 79h1v1h-1zM12 79h1v1h-1zM41 79h1v1h-1zM2 80h1v1h-1zM14 80h1v1h-1zM31 80h1v1h-1zM38 80h1v1h-1zM40 80h1v1h-1zM44 80h1v1h-1zM48 80h1v1h-1zM6 81h1v1h-1zM29 81h1v1h-1zM61 81h1v1h-1zM66 81h1v1h-1zM14 82h1v1h-1zM23 82h1v1h-1zM6 83h1v1h-1zM12 83h1v1h-1zM22 83h1v1h-1zM33 83h1v1h-1zM57 83h1v1h-1zM24 84h1v1h-1zM29 84h1v1h-1zM34 84h1v1h-1zM36 84h1v1h-1zM29 85h1v1h-1zM33 85h1v1h-1zM38 85h1v1h-1zM4 86h1v1h-1zM65 86h1v1h-1zM40 87h1v1h-1zM21 88h1v1h-1zM13 89h1v1h-1zM17 89h1v1h-1z"/><path fill="#0f5556" d="M37 11h1v1h-1zM21 15h1v1h-1zM29 15h1v1h-1zM22 16h1v1h-1zM10 17h1v1h-1zM14 17h1v1h-1zM33 17h1v1h-1zM13 18h1v1h-1zM41 19h1v1h-1zM19 21h1v1h-1zM32 21h1v1h-1zM7 22h1v1h-1zM44 24h1v1h-1zM48 26h1v1h-1zM27 27h1v1h-1zM37 27h2v1h-2zM12 28h1v1h-1zM16 28h1v1h-1zM62 28h1v1h-1zM9 30h1v1h-1zM14 30h1v1h-1zM33 30h1v1h-1zM9 32h1v1h-1zM68 33h1v1h-1zM70 33h1v1h-1zM10 34h1v1h-1zM62 34h1v1h-1zM6 35h1v1h-1zM69 35h1v1h-1zM9 36h1v1h-1zM47 36h1v1h-1zM7 37h1v1h-1zM18 37h1v1h-1zM27 37h1v1h-1zM46 37h1v1h-1zM48 38h1v1h-1zM67 39h1v1h-1zM10 40h1v1h-1zM20 40h1v1h-1zM46 40h1v1h-1zM47 41h1v1h-1zM52 42h1v1h-1zM68 42h1v1h-1zM8 44h1v1h-1zM12 44h1v1h-1zM49 44h1v1h-1zM58 45h1v1h-1zM84 45h1v1h-1zM3 46h1v1h-1zM9 47h1v1h-1zM47 47h1v1h-1zM54 47h1v1h-1zM62 47h1v1h-1zM67 47h1v1h-1zM69 47h1v1h-1zM13 48h1v1h-1zM34 48h1v1h-1zM10 49h1v1h-1zM37 49h1v1h-1zM49 49h1v1h-1zM62 49h1v1h-1zM74 49h1v1h-1zM44 51h1v1h-1zM52 51h1v1h-1zM72 51h1v1h-1zM78 51h1v1h-1zM2 52h1v1h-1zM7 52h1v1h-1zM37 52h1v1h-1zM53 52h1v1h-1zM59 52h1v1h-1zM46 53h1v1h-1zM61 53h2v1h-2zM10 54h1v1h-1zM43 54h1v1h-1zM50 55h1v1h-1zM52 55h1v1h-1zM65 55h1v1h-1zM21 56h1v1h-1zM54 56h1v1h-1zM0 57h1v1h-1zM19 57h1v1h-1zM64 57h1v1h-1zM74 57h1v1h-1zM2 58h1v1h-1zM51 58h1v1h-1zM64 58h1v1h-1zM86 58h1v1h-1zM42 59h1v1h-1zM47 59h1v1h-1zM56 59h1v1h-1zM73 59h1v1h-1zM77 59h1v1h-1zM0 60h1v1h-1zM30 60h1v1h-1zM44 60h1v1h-1zM57 60h1v1h-1zM81 60h1v1h-1zM0 61h1v1h-1zM36 61h1v1h-1zM52 61h1v1h-1zM8 62h2v1h-2zM42 62h1v1h-1zM65 62h1v1h-1zM68 62h1v1h-1zM71 62h1v1h-1zM31 63h1v1h-1zM45 63h1v1h-1zM50 63h2v1h-2zM80 63h1v1h-1zM3 64h1v1h-1zM14 64h1v1h-1zM18 64h1v1h-1zM58 64h2v1h-2zM83 64h1v1h-1zM18 65h1v1h-1zM62 65h1v1h-1zM31 66h1v1h-1zM53 66h1v1h-1zM57 66h1v1h-1zM63 66h1v1h-1zM20 67h2v1h-2zM36 67h1v1h-1zM65 67h1v1h-1zM70 68h1v1h-1zM16 69h1v1h-1zM22 69h1v1h-1zM2 70h1v1h-1zM25 70h1v1h-1zM30 70h1v1h-1zM37 70h1v1h-1zM40 70h1v1h-1zM53 70h1v1h-1zM3 71h1v1h-1zM21 71h1v1h-1zM33 71h1v1h-1zM58 71h1v1h-1zM63 71h1v1h-1zM11 72h1v1h-1zM23 72h1v1h-1zM48 72h1v1h-1zM53 72h2v1h-2zM61 72h1v1h-1zM67 72h1v1h-1zM27 73h1v1h-1zM30 73h1v1h-1zM41 73h1v1h-1zM10 74h1v1h-1zM16 74h1v1h-1zM58 74h1v1h-1zM15 75h1v1h-1zM26 75h1v1h-1zM34 75h1v1h-1zM37 75h1v1h-1zM42 75h1v1h-1zM2 76h1v1h-1zM13 76h1v1h-1zM20 76h1v1h-1zM25 76h1v1h-1zM34 76h1v1h-1zM40 76h1v1h-1zM42 76h1v1h-1zM44 76h1v1h-1zM56 76h1v1h-1zM25 77h1v1h-1zM27 77h2v1h-2zM40 77h1v1h-1zM53 77h1v1h-1zM4 78h1v1h-1zM28 78h1v1h-1zM73 78h1v1h-1zM8 79h1v1h-1zM11 79h1v1h-1zM29 79h2v1h-2zM15 80h1v1h-1zM29 80h1v1h-1zM37 80h1v1h-1zM65 80h1v1h-1zM23 81h2v1h-2zM36 81h1v1h-1zM63 81h1v1h-1zM3 82h1v1h-1zM16 82h1v1h-1zM26 82h1v1h-1zM14 83h1v1h-1zM21 84h1v1h-1zM40 84h1v1h-1zM17 85h1v1h-1zM24 87h1v1h-1zM44 87h1v1h-1zM61 88h1v1h-1zM34 89h1v1h-1zM44 90h1v1h-1z"/><path fill="#115b50" d="M30 1h1v1h-1zM11 9h1v1h-1zM33 16h1v1h-1zM22 17h1v1h-1zM27 17h1v1h-1zM30 17h1v1h-1zM40 18h1v1h-1zM42 19h1v1h-1zM8 20h1v1h-1zM34 21h1v1h-1zM38 21h1v1h-1zM6 22h1v1h-1zM30 22h1v1h-1zM78 22h1v1h-1zM19 24h1v1h-1zM27 24h1v1h-1zM12 25h1v1h-1zM7 26h1v1h-1zM9 27h1v1h-1zM29 27h1v1h-1zM32 27h1v1h-1zM7 28h1v1h-1zM19 29h2v1h-2zM18 30h1v1h-1zM23 30h1v1h-1zM10 32h1v1h-1zM17 32h1v1h-1zM30 32h1v1h-1zM9 33h1v1h-1zM26 33h1v1h-1zM72 33h1v1h-1zM26 34h1v1h-1zM70 35h1v1h-1zM72 35h1v1h-1zM45 36h1v1h-1zM67 36h1v1h-1zM73 37h1v1h-1zM75 38h1v1h-1zM39 39h1v1h-1zM48 39h1v1h-1zM5 40h1v1h-1zM67 40h1v1h-1zM84 41h1v1h-1zM69 42h2v1h-2zM60 43h1v1h-1zM62 43h2v1h-2zM68 43h1v1h-1zM2 44h1v1h-1zM4 44h1v1h-1zM73 44h1v1h-1zM82 44h1v1h-1zM84 44h1v1h-1zM55 45h1v1h-1zM0 46h1v1h-1zM75 46h1v1h-1zM53 47h1v1h-1zM64 47h1v1h-1zM70 47h1v1h-1zM45 48h1v1h-1zM62 48h1v1h-1zM65 48h1v1h-1zM71 48h1v1h-1zM3 49h1v1h-1zM57 49h1v1h-1zM59 49h1v1h-1zM62 51h1v1h-1zM66 51h1v1h-1zM1 52h1v1h-1zM96 52h1v1h-1zM50 53h1v1h-1zM55 55h1v1h-1zM69 55h1v1h-1zM12 56h1v1h-1zM69 57h1v1h-1zM72 57h1v1h-1zM76 57h2v1h-2zM12 58h1v1h-1zM59 58h1v1h-1zM82 58h1v1h-1zM84 58h1v1h-1zM52 59h1v1h-1zM55 59h1v1h-1zM5 61h1v1h-1zM53 61h1v1h-1zM61 61h1v1h-1zM83 61h1v1h-1zM29 62h1v1h-1zM39 62h1v1h-1zM58 62h1v1h-1zM4 63h1v1h-1zM61 63h1v1h-1zM67 63h1v1h-1zM39 64h1v1h-1zM60 64h1v1h-1zM69 64h1v1h-1zM11 65h1v1h-1zM57 65h2v1h-2zM11 66h2v1h-2zM69 66h1v1h-1zM31 67h1v1h-1zM47 67h1v1h-1zM63 67h2v1h-2zM66 67h1v1h-1zM53 68h1v1h-1zM59 68h1v1h-1zM25 69h1v1h-1zM50 69h1v1h-1zM59 69h1v1h-1zM70 69h2v1h-2zM61 70h1v1h-1zM72 70h1v1h-1zM76 70h1v1h-1zM28 71h1v1h-1zM34 71h1v1h-1zM40 71h2v1h-2zM46 72h1v1h-1zM13 73h1v1h-1zM31 73h1v1h-1zM40 73h1v1h-1zM49 73h1v1h-1zM52 73h1v1h-1zM56 73h1v1h-1zM13 74h1v1h-1zM22 74h1v1h-1zM31 74h1v1h-1zM33 74h1v1h-1zM40 74h1v1h-1zM43 74h1v1h-1zM51 74h1v1h-1zM67 74h1v1h-1zM16 75h1v1h-1zM22 75h1v1h-1zM51 75h1v1h-1zM5 76h1v1h-1zM22 76h1v1h-1zM62 76h1v1h-1zM14 77h2v1h-2zM34 77h1v1h-1zM36 77h1v1h-1zM3 78h1v1h-1zM6 78h1v1h-1zM13 78h1v1h-1zM36 78h1v1h-1zM55 78h1v1h-1zM8 80h2v1h-2zM28 80h1v1h-1zM32 81h2v1h-2zM38 81h1v1h-1zM52 81h1v1h-1zM9 82h1v1h-1zM17 82h2v1h-2zM53 83h1v1h-1zM14 85h2v1h-2zM49 85h1v1h-1zM52 85h1v1h-1zM11 88h1v1h-1zM45 88h1v1h-1z"/><path fill="#12604b" d="M3 13h1v1h-1zM15 15h1v1h-1zM25 16h1v1h-1zM28 16h1v1h-1zM41 16h1v1h-1zM39 18h1v1h-1zM2 20h1v1h-1zM9 20h1v1h-1zM23 23h1v1h-1zM24 25h1v1h-1zM16 26h1v1h-1zM1 27h1v1h-1zM23 27h1v1h-1zM28 27h1v1h-1zM4 28h1v1h-1zM13 29h1v1h-1zM38 29h1v1h-1zM16 30h1v1h-1zM19 30h1v1h-1zM25 32h1v1h-1zM76 32h1v1h-1zM5 33h1v1h-1zM3 36h1v1h-1zM9 37h1v1h-1zM25 39h1v1h-1zM55 39h1v1h-1zM45 40h1v1h-1zM56 40h1v1h-1zM63 41h1v1h-1zM60 42h1v1h-1zM38 43h1v1h-1zM47 43h1v1h-1zM66 43h1v1h-1zM3 44h1v1h-1zM62 44h1v1h-1zM74 44h1v1h-1zM78 44h1v1h-1zM67 45h2v1h-2zM54 46h1v1h-1zM3 47h1v1h-1zM47 48h1v1h-1zM55 48h1v1h-1zM68 48h1v1h-1zM64 49h1v1h-1zM55 50h1v1h-1zM66 50h1v1h-1zM55 51h1v1h-1zM71 52h1v1h-1zM82 53h1v1h-1zM2 54h1v1h-1zM61 54h1v1h-1zM44 55h1v1h-1zM63 55h1v1h-1zM60 56h1v1h-1zM62 56h1v1h-1zM89 56h1v1h-1zM56 57h1v1h-1zM10 59h1v1h-1zM50 59h1v1h-1zM68 59h1v1h-1zM71 59h1v1h-1zM70 60h1v1h-1zM72 60h1v1h-1zM74 60h2v1h-2zM75 61h1v1h-1zM50 62h1v1h-1zM66 63h1v1h-1zM68 63h1v1h-1zM71 63h1v1h-1zM56 64h1v1h-1zM43 66h1v1h-1zM58 66h1v1h-1zM61 66h1v1h-1zM4 68h1v1h-1zM11 68h1v1h-1zM69 68h1v1h-1zM49 69h1v1h-1zM56 70h1v1h-1zM70 70h1v1h-1zM73 70h1v1h-1zM1 71h1v1h-1zM54 71h1v1h-1zM27 72h1v1h-1zM49 72h1v1h-1zM65 72h1v1h-1zM33 73h1v1h-1zM72 73h1v1h-1zM9 74h1v1h-1zM60 74h1v1h-1zM62 74h1v1h-1zM72 74h1v1h-1zM31 75h1v1h-1zM40 75h1v1h-1zM48 75h1v1h-1zM55 75h1v1h-1zM26 76h1v1h-1zM1 77h1v1h-1zM37 77h1v1h-1zM45 77h1v1h-1zM18 78h1v1h-1zM22 78h1v1h-1zM24 78h1v1h-1zM62 78h1v1h-1zM69 78h1v1h-1zM23 79h1v1h-1zM50 79h1v1h-1zM13 80h1v1h-1zM55 80h1v1h-1zM7 81h1v1h-1zM14 81h1v1h-1zM27 81h1v1h-1zM35 81h1v1h-1zM2 82h1v1h-1zM37 82h1v1h-1zM8 83h1v1h-1zM36 83h1v1h-1zM70 83h1v1h-1zM33 84h1v1h-1zM45 84h1v1h-1zM62 84h1v1h-1zM31 85h1v1h-1zM43 85h1v1h-1zM52 86h1v1h-1z"/><path fill="#146446" d="M16 12h1v1h-1zM15 14h1v1h-1zM32 15h1v1h-1zM0 22h1v1h-1zM22 22h1v1h-1zM20 24h1v1h-1zM14 28h1v1h-1zM11 29h1v1h-1zM22 29h1v1h-1zM5 30h1v1h-1zM8 30h1v1h-1zM72 30h1v1h-1zM23 31h1v1h-1zM21 34h1v1h-1zM87 34h1v1h-1zM67 35h1v1h-1zM6 38h1v1h-1zM4 42h1v1h-1zM64 43h1v1h-1zM80 43h1v1h-1zM51 44h1v1h-1zM1 46h2v1h-2zM67 46h1v1h-1zM64 48h1v1h-1zM83 48h1v1h-1zM58 49h1v1h-1zM82 49h1v1h-1zM61 50h1v1h-1zM67 50h1v1h-1zM68 53h1v1h-1zM83 53h1v1h-1zM54 54h1v1h-1zM60 57h1v1h-1zM57 58h1v1h-1zM60 58h1v1h-1zM66 58h1v1h-1zM60 59h1v1h-1zM70 59h1v1h-1zM71 61h1v1h-1zM70 62h1v1h-1zM1 63h1v1h-1zM45 64h1v1h-1zM66 64h1v1h-1zM3 65h1v1h-1zM63 65h1v1h-1zM71 65h2v1h-2zM1 66h1v1h-1zM49 67h1v1h-1zM78 67h1v1h-1zM41 68h1v1h-1zM24 69h1v1h-1zM46 69h1v1h-1zM75 69h1v1h-1zM63 70h1v1h-1zM8 71h1v1h-1zM67 71h1v1h-1zM70 71h1v1h-1zM71 72h1v1h-1zM38 73h1v1h-1zM44 73h1v1h-1zM51 73h1v1h-1zM47 74h1v1h-1zM41 75h1v1h-1zM68 75h1v1h-1zM17 76h1v1h-1zM48 76h1v1h-1zM57 76h1v1h-1zM19 77h1v1h-1zM31 78h1v1h-1zM42 78h1v1h-1zM48 78h1v1h-1zM14 79h2v1h-2zM31 79h1v1h-1zM48 79h1v1h-1zM16 81h1v1h-1zM38 82h1v1h-1zM64 84h1v1h-1zM45 86h1v1h-1zM4 87h1v1h-1zM35 87h1v1h-1zM60 88h1v1h-1z"/><path fill="#166942" d="M4 18h1v1h-1zM23 19h1v1h-1zM28 20h1v1h-1zM20 21h1v1h-1zM29 22h1v1h-1zM21 24h1v1h-1zM5 25h1v1h-1zM10 27h1v1h-1zM77 29h1v1h-1zM83 29h1v1h-1zM68 31h1v1h-1zM78 31h1v1h-1zM70 32h1v1h-1zM6 34h1v1h-1zM17 34h1v1h-1zM2 37h1v1h-1zM11 37h1v1h-1zM63 37h1v1h-1zM62 39h1v1h-1zM70 39h1v1h-1zM74 40h1v1h-1zM61 46h1v1h-1zM65 47h1v1h-1zM60 49h1v1h-1zM57 53h1v1h-1zM71 53h1v1h-1zM91 55h1v1h-1zM64 56h1v1h-1zM61 57h1v1h-1zM62 58h1v1h-1zM0 59h1v1h-1zM78 59h1v1h-1zM86 59h1v1h-1zM59 60h1v1h-1zM63 62h1v1h-1zM72 62h1v1h-1zM17 66h1v1h-1zM7 67h1v1h-1zM68 67h1v1h-1zM81 68h1v1h-1zM36 70h1v1h-1zM39 70h1v1h-1zM62 70h1v1h-1zM74 70h1v1h-1zM60 72h1v1h-1zM43 75h2v1h-2zM74 75h2v1h-2zM33 77h1v1h-1zM20 78h1v1h-1zM43 78h1v1h-1zM51 78h1v1h-1zM5 79h1v1h-1zM26 79h2v1h-2zM34 79h1v1h-1zM42 79h1v1h-1zM31 81h1v1h-1zM57 81h1v1h-1zM32 82h1v1h-1zM30 83h1v1h-1zM62 83h1v1h-1zM5 84h1v1h-1zM41 84h1v1h-1zM43 84h1v1h-1zM50 85h1v1h-1zM62 86h1v1h-1zM36 87h1v1h-1z"/><path fill="#176d3d" d="M18 15h1v1h-1zM22 15h1v1h-1zM30 15h1v1h-1zM7 16h1v1h-1zM29 16h1v1h-1zM6 20h1v1h-1zM14 21h1v1h-1zM20 22h1v1h-1zM25 23h1v1h-1zM85 23h1v1h-1zM34 26h1v1h-1zM9 28h1v1h-1zM26 29h1v1h-1zM76 31h1v1h-1zM6 33h1v1h-1zM63 34h1v1h-1zM65 37h1v1h-1zM1 38h1v1h-1zM2 41h1v1h-1zM80 41h1v1h-1zM79 42h1v1h-1zM72 43h1v1h-1zM5 44h1v1h-1zM63 45h1v1h-1zM72 45h1v1h-1zM72 48h1v1h-1zM66 49h1v1h-1zM71 50h1v1h-1zM74 50h1v1h-1zM76 50h1v1h-1zM74 51h1v1h-1zM81 52h1v1h-1zM87 52h1v1h-1zM67 53h1v1h-1zM62 55h1v1h-1zM84 55h1v1h-1zM66 57h1v1h-1zM76 58h1v1h-1zM58 61h1v1h-1zM64 61h1v1h-1zM76 61h1v1h-1zM78 61h1v1h-1zM54 64h1v1h-1zM60 66h1v1h-1zM62 66h1v1h-1zM89 66h1v1h-1zM82 67h1v1h-1zM85 69h1v1h-1zM57 70h1v1h-1zM45 72h1v1h-1zM70 73h1v1h-1zM27 74h1v1h-1zM4 75h1v1h-1zM61 75h1v1h-1zM79 75h1v1h-1zM10 76h1v1h-1zM63 76h1v1h-1zM50 77h1v1h-1zM29 78h1v1h-1zM37 78h1v1h-1zM65 79h1v1h-1zM34 80h1v1h-1zM33 82h1v1h-1zM3 83h1v1h-1zM5 83h1v1h-1zM23 83h1v1h-1zM75 83h1v1h-1zM53 84h1v1h-1zM60 84h1v1h-1zM20 85h1v1h-1zM61 85h1v1h-1zM64 86h1v1h-1z"/><path fill="#1a7139" d="M8 13h1v1h-1zM12 14h1v1h-1zM24 18h1v1h-1zM19 19h1v1h-1zM3 21h1v1h-1zM16 25h1v1h-1zM23 28h1v1h-1zM21 30h1v1h-1zM1 32h1v1h-1zM4 32h1v1h-1zM2 33h1v1h-1zM12 35h1v1h-1zM83 37h1v1h-1zM3 38h1v1h-1zM63 40h1v1h-1zM70 40h1v1h-1zM81 41h1v1h-1zM60 44h1v1h-1zM64 44h1v1h-1zM74 45h1v1h-1zM55 46h1v1h-1zM68 46h1v1h-1zM72 49h1v1h-1zM65 51h1v1h-1zM75 53h1v1h-1zM60 54h1v1h-1zM71 54h1v1h-1zM77 54h1v1h-1zM83 55h1v1h-1zM56 56h1v1h-1zM80 57h1v1h-1zM83 57h2v1h-2zM68 58h1v1h-1zM72 58h1v1h-1zM74 58h1v1h-1zM79 60h1v1h-1zM62 64h1v1h-1zM65 68h1v1h-1zM87 69h1v1h-1zM69 71h1v1h-1zM58 72h1v1h-1zM17 73h1v1h-1zM1 74h1v1h-1zM5 75h1v1h-1zM38 75h1v1h-1zM47 76h1v1h-1zM46 77h1v1h-1zM68 77h1v1h-1zM1 78h1v1h-1zM40 78h1v1h-1zM5 80h1v1h-1zM10 80h1v1h-1zM51 81h1v1h-1zM76 81h1v1h-1zM25 82h1v1h-1zM40 83h1v1h-1zM6 84h1v1h-1zM66 88h1v1h-1z"/><path fill="#1c7635" d="M6 14h1v1h-1zM27 15h1v1h-1zM20 18h1v1h-1zM21 21h1v1h-1zM18 24h1v1h-1zM12 33h1v1h-1zM65 35h1v1h-1zM73 36h1v1h-1zM74 43h1v1h-1zM70 44h1v1h-1zM77 49h1v1h-1zM76 51h1v1h-1zM57 52h1v1h-1zM74 52h1v1h-1zM63 53h1v1h-1zM69 54h1v1h-1zM65 57h1v1h-1zM83 58h1v1h-1zM66 60h1v1h-1zM69 60h1v1h-1zM71 60h1v1h-1zM77 61h1v1h-1zM77 62h1v1h-1zM61 65h1v1h-1zM76 69h1v1h-1zM69 72h1v1h-1zM55 77h1v1h-1zM22 79h1v1h-1zM50 81h1v1h-1zM58 81h1v1h-1zM9 84h1v1h-1zM15 84h1v1h-1zM30 84h1v1h-1zM32 84h1v1h-1z"/><path fill="#1e7b32" d="M15 21h1v1h-1zM8 22h1v1h-1zM32 24h1v1h-1zM5 26h1v1h-1zM79 34h1v1h-1zM82 40h1v1h-1zM84 42h1v1h-1zM68 44h1v1h-1zM69 52h1v1h-1zM85 53h1v1h-1zM80 55h1v1h-1zM65 56h1v1h-1zM83 56h1v1h-1zM71 57h1v1h-1zM50 64h1v1h-1zM79 64h1v1h-1zM83 66h1v1h-1zM1 67h1v1h-1zM73 67h1v1h-1zM74 68h1v1h-1zM54 76h1v1h-1zM69 77h1v1h-1zM33 79h1v1h-1zM58 79h1v1h-1zM36 80h1v1h-1zM8 81h1v1h-1zM45 81h1v1h-1zM49 83h1v1h-1zM69 83h1v1h-1zM50 84h1v1h-1z"/><path fill="#20802e" d="M20 16h1v1h-1zM2 23h1v1h-1zM18 26h1v1h-1zM23 26h1v1h-1zM8 27h1v1h-1zM89 30h1v1h-1zM73 34h1v1h-1zM83 40h1v1h-1zM58 42h1v1h-1zM69 48h1v1h-1zM75 48h2v1h-2zM64 50h1v1h-1zM66 52h1v1h-1zM80 58h1v1h-1zM57 59h1v1h-1zM78 64h1v1h-1zM59 66h1v1h-1zM68 68h1v1h-1zM71 70h1v1h-1zM29 76h1v1h-1zM54 78h1v1h-1zM57 78h1v1h-1zM38 79h1v1h-1zM45 80h1v1h-1zM9 81h1v1h-1zM18 81h1v1h-1zM57 82h1v1h-1zM38 83h1v1h-1z"/><path fill="#23852b" d="M2 14h1v1h-1zM16 21h1v1h-1zM14 24h1v1h-1zM11 25h1v1h-1zM8 33h1v1h-1zM85 37h1v1h-1zM78 38h1v1h-1zM75 42h1v1h-1zM68 50h1v1h-1zM75 51h1v1h-1zM89 51h1v1h-1zM78 52h1v1h-1zM85 54h1v1h-1zM79 61h1v1h-1zM81 61h1v1h-1zM85 62h1v1h-1zM85 73h1v1h-1zM68 76h1v1h-1zM53 78h1v1h-1zM33 80h1v1h-1zM35 80h1v1h-1zM69 80h1v1h-1zM68 81h1v1h-1zM44 82h1v1h-1z"/><path fill="#258a28" d="M16 17h1v1h-1zM15 23h1v1h-1zM18 25h1v1h-1zM3 27h1v1h-1zM69 50h1v1h-1zM61 51h1v1h-1zM60 52h1v1h-1zM61 55h1v1h-1zM67 58h1v1h-1zM71 58h1v1h-1zM68 60h1v1h-1zM73 65h1v1h-1zM78 65h1v1h-1zM85 66h1v1h-1zM76 67h1v1h-1zM72 68h1v1h-1zM80 68h1v1h-1zM66 70h1v1h-1zM65 71h1v1h-1zM74 72h1v1h-1zM46 76h1v1h-1zM71 77h1v1h-1zM47 78h1v1h-1zM78 78h1v1h-1zM49 79h1v1h-1zM60 79h1v1h-1zM47 80h1v1h-1zM74 81h1v1h-1zM78 81h1v1h-1zM69 84h1v1h-1zM69 85h1v1h-1z"/></g><g transform="translate(354.57 731.60) scale(1.4530 1.4210)" fill="none" stroke-linejoin="round" stroke-linecap="round"><path stroke="#000000" stroke-width="5.80" vector-effect="non-scaling-stroke" d="M245 15l10 -10 10 10 -10 10 -10 -10M295 15l10 -10 10 10 -10 10 -10 -10M105 35l10 -10 10 10 -10 10 -10 -10M195 35l10 -10 10 10 0 10 10 0 10 -10 10 10 -10 10 -10 10 -10 0 10 10 -10 10 -10 -10 -10 -10 10 -10 -10 0 -10 -10 10 -10M325 35l10 -10 10 10 -10 10 -10 -10M265 45l10 -10 10 0 10 0 10 10 10 10 -10 10 -10 -10 -10 0 -10 10 -10 -10 0 -10M485 45l10 -10 10 10 -10 10 -10 -10M515 45l10 -10 10 10 -10 10 -10 -10M555 45l10 -10 10 10 -10 10 -10 -10M145 55l10 -10 10 10 -10 10 -10 -10M245 55l10 -10 10 10 0 10 -10 10 -10 0 -10 10 -10 -10 10 -10 10 -10M345 55l10 -10 10 0 10 10 0 10 10 10 -10 10 -10 10 -10 0 -10 -10 10 -10 10 0 -10 0 -10 -10 0 -10M395 55l10 -10 10 10 -10 10 -10 10 -10 -10 10 -10M75 65l10 -10 10 10 -10 10 -10 10 -10 -10 10 -10M495 65l10 -10 10 10 10 0 10 10 0 10 -10 10 -10 0 -10 -10 0 -10 -10 -10M115 75l10 -10 10 0 10 0 10 10 0 10 -10 10 -10 -10 -10 0 -10 -10M155 75l10 -10 10 10 10 -10 10 10 10 10 -10 10 -10 -10 0 10 10 10 10 -10 10 10 10 10 -10 10 -10 0 -10 0 -10 0 -10 -10 -10 -10 -10 -10 0 -10 0 -10M265 75l10 -10 10 10 -10 10 -10 -10M285 75l10 -10 10 0 10 10 0 10 10 0 10 -10 10 10 -10 10 -10 10 -10 0 -10 -10 -10 -10 -10 -10M405 75l10 -10 10 10 10 -10 10 10 10 -10 10 10 -10 10 -10 10 -10 0 -10 0 -10 -10 -10 -10M465 75l10 -10 10 10 -10 10 -10 -10M85 85l10 -10 10 10 -10 10 -10 -10M545 85l10 -10 10 10 -10 10 -10 -10M215 95l10 -10 10 10 -10 10 -10 -10M385 95l10 -10 10 10 -10 10 -10 -10M335 105l10 -10 10 10 -10 10 -10 -10M635 105l10 -10 10 10 -10 10 -10 -10M65 115l10 -10 10 10 0 10 10 10 -10 10 -10 -10 -10 -10 0 -10M315 115l10 -10 10 10 0 10 -10 10 -10 -10 0 -10M525 115l10 -10 10 10 -10 10 -10 -10M545 115l10 -10 10 10 -10 10 -10 -10M615 115l10 -10 10 10 -10 10 -10 -10M225 125l10 -10 10 10 -10 10 -10 -10M345 125l10 -10 10 10 -10 10 -10 -10M765 125l10 -10 10 10 -10 10 -10 -10M25 135l10 -10 10 10 10 10 10 -10 10 10 -10 10 -10 10 -10 -10 -10 -10 -10 10 -10 -10 10 -10M575 135l10 -10 10 10 -10 10 -10 10 -10 -10 10 -10M595 135l10 -10 10 10 -10 10 -10 -10M645 135l10 -10 10 10 -10 10 -10 10 -10 10 -10 -10 -10 10 -10 -10 10 -10 10 -10 10 10 10 -10M675 135l10 -10 10 10 -10 10 -10 -10M445 145l0 10 0 -10M525 145l-10 10 0 10 10 -10 0 -10M705 155l10 -10 10 0 10 10 -10 10 -10 0 -10 10 -10 10 10 0 10 10 -10 10 -10 0 -10 10 -10 0 -10 -10 0 -10 10 -10 10 -10 10 -10 10 -10M265 165l0 10 0 -10M305 165l10 0 10 0 -10 0 -10 0M425 165l0 10 0 -10M655 165l10 -10 10 10 -10 10 -10 -10M155 175l-10 10 -10 10 -10 0 10 0 10 10 10 0 0 -10 0 -10 0 -10M95 185l10 10 0 -10 -10 0M435 185l0 10 10 -10 -10 0M15 205l10 -10 10 0 10 10 0 10 -10 10 -10 -10 -10 -10M615 205l10 0 10 0 -10 0 -10 0M435 215l10 0 -10 0M5 215l10 10 -10 10M595 225l0 10 0 -10M655 225l0 10 0 -10M775 225l10 -10 10 10 0 10 -10 10 -10 -10 0 -10M15 235l10 -10 10 10 -10 10 -10 -10M65 235l0 10 0 -10M265 235l0 10 0 -10M805 235l10 -10 10 10 -10 10 -10 -10M835 235l10 -10 10 0 10 10 -10 10 -10 0 -10 -10M605 255l10 0 -10 0M645 265l0 10 0 10 0 10 10 -10 0 -10 -10 -10M755 265l10 -10 10 0 10 10 0 10 0 10 0 10 -10 10 -10 -10 0 -10 0 -10 -10 -10M785 265l10 -10 10 10 -10 10 -10 -10M5 275l10 -10 10 10 -10 10 -10 -10M605 275l0 10 0 10 0 -10 0 -10M685 275l0 10 -10 10 0 10 10 -10 10 10 0 10 0 10 0 -10 0 -10 10 -10 10 10 0 -10 -10 0 -10 0 -10 -10 0 -10M555 285l10 0 -10 0M805 285l10 -10 10 10 -10 10 -10 10 -10 -10 10 -10M825 295l10 -10 10 10 0 10 -10 10 -10 -10 0 -10M885 305l10 -10 10 10 -10 10 -10 -10M655 315l10 0 -10 0M5 325l10 -10 10 0 10 10 0 10 -10 10 -10 0 -10 -10 0 -10M75 325l10 0 -10 0M775 325l0 10 10 -10 -10 0M875 325l10 -10 10 10 -10 10 -10 -10M835 335l10 -10 10 10 -10 10 -10 -10M855 335l10 -10 10 10 10 10 -10 10 -10 -10 -10 -10M805 355l10 -10 10 10 -10 10 -10 10 -10 0 -10 -10 10 -10 10 0M835 355l10 -10 10 10 0 10 10 0 10 10 -10 10 -10 0 -10 -10 -10 10 -10 -10 10 -10 0 -10M955 365l10 -10 10 10 -10 10 -10 -10M745 375l0 10 10 -10 -10 0M865 425l10 -10 10 10 -10 10 -10 -10M5 425l0 -10 0 -10 0 -10 0 -10 0 -10 10 -10 0 -10 10 -10 10 10 0 -10 0 -10 0 -10 0 -10 -10 0 -10 -10 0 -10 10 -10 0 -10 0 -10 10 -10 10 10 0 -10 0 -10 0 -10 10 -10 0 -10 0 -10 -10 -10 -10 -10 10 -10 10 -10 10 10 -10 10 10 10 10 10 10 -10 -10 0 -10 -10 10 -10 10 0 -10 0 -10 -10 10 -10 10 0 10 10 10 -10 10 -10 -10 -10 0 -10 10 -10 -10 0 -10 -10 10 -10 10 -10 10 10 0 10 10 -10 10 10 -10 10 -10 10 0 10 10 10 0 10 -10 10 -10 0 0 10 10 0 10 0 10 -10 0 -10 0 -10 10 -10 -10 -10 10 -10 10 0 10 10 0 10 -10 10 0 10 0 10 10 0 10 10 0 10 10 0 -10 -10 0 -10 -10 0 -10 -10 10 -10 10 0 10 -10 10 0 10 0 10 10 10 10 0 10 10 -10 0 -10 10 -10 0 -10 -10 -10 10 -10 -10 -10 10 -10 10 10 10 0 10 10 -10 10 -10 0 10 10 10 10 0 -10 10 -10 10 -10 10 10 -10 10 0 10 -10 10 10 0 10 -10 10 10 10 0 10 0 10 -10 10 10 10 -10 10 0 0 -10 -10 10 -10 -10 0 -10 -10 -10 10 -10 10 0 10 10 10 10 10 10 0 10 10 0 0 -10 -10 -10 10 -10 10 0 10 10 0 10 0 10 0 -10 10 -10 10 -10 10 10 0 10 10 -10 10 -10 10 10 -10 10 -10 10 10 10 -10 10 10 10 10 10 0 10 0 10 10 0 -10 -10 0 -10 0 -10 0 -10 -10 -10 0 -10 10 -10 10 10 10 0 -10 -10 10 -10 10 10 10 10 10 -10 10 10 -10 10 0 10 -10 10 0 10 10 10 -10 10 10 10 10 -10 10 10 0 -10 -10 0 -10 -10 10 -10 10 0 10 10 10 -10 10 10 0 10 10 0 0 -10 10 -10 10 0 10 10 10 -10 10 10 -10 10 10 10 10 10 10 10 10 10 -10 10 -10 0 10 10 10 -10 10 0 10 0 10 0 -10 -10 -10 -10 10 -10 10 0 10 -10 10 -10 10 10 -10 10 10 10 -10 10 -10 0 10 0 10 10 -10 10 -10 0 -10 10 10 0 10 10 0 10 0 10 0 10 0 10 10 0 0 -10 -10 -10 10 -10 10 -10 10 10 0 10 0 10 10 0 10 0 10 10 10 10 10 10 -10 10 -10 10 -10 0 -10 0 -10 -10 -10 -10 0 -10 0 10 0 10 10 10 0 10 10 -10 10 10 0 10 10 10 0 10 0 10 10 0 10 0 10 -10 10 0 10 -10 10 10 0 10 0 10 0 10 -10 10 -10 -10 0 -10 -10 0 10 10 -10 10 -10 0 0 10 10 -10 10 10 -10 10 -10 10 -10 10 -10 0 -10 10 0 10 -10 10 0 10 10 -10 10 10 0 10 10 10 10 10 0 10 -10 10 -10 -10 0 -10 -10 -10 -10 0 -10 -10 0 10 10 0 10 10 -10 10 -10 0 10 0 10 10 0 10 0 10 10 10 0 -10 0 -10 10 -10 10 10 10 0 0 -10 0 -10 10 -10 10 0 0 -10 10 -10 10 10 0 10 -10 10 -10 10 10 10 10 0 10 10 0 10 10 10 -10 10 -10 -10 -10 -10 -10 10 -10 -10 -10 10 0 10 -10 10 0 10 10 -10 10 10 10 0 10 10 10 10 0 10 -10 10 -10 -10 0 -10 0 10 -10 10 0 10 -10 10 -10 0 -10 0 -10 10 -10 10 -10 0 -10 0 -10 -10 -10 10 -10 0 -10 0 10 10 10 -10 10 0 10 0 10 10 10 10 -10 10 -10 10 -10 10 -10 0 -10 10 10 10 -10 10 -10 -10 -10 0 -10 -10 10 -10 10 0 10 -10 10 -10 10 0 10 -10 -10 0 -10 0 -10 10 -10 10 -10 -10 0 -10 0 10 -10 10 -10 -10 0 -10 -10 0 10 10 0 10 0 10 10 10 0 10 -10 10 -10 -10 -10 10 -10 -10 10 -10 0 -10 -10 10 -10 -10 -10 0 10 10 10 10 0 10 10 0 10 0 10 0 10 10 -10 10 -10 10 -10 -10 -10 10 -10 -10 -10 10 -10 0 -10 -10 10 -10 10 0 0 -10 0 -10 0 10 -10 10 -10 -10 -10 10 10 10 -10 10 -10 10 -10 -10 10 -10 -10 -10 -10 0 -10 -10 -10 0 -10 0 -10 0 -10 0 10 0 10 0 10 10 -10 10 -10 0 -10 0 -10 10 -10 0 -10 0 -10 -10 -10 0 -10 10 -10 -10 0 10 0 10 0 10 0 10 10 10 10 -10 10 -10 -10 0 -10 10 -10 -10 0 -10 10 -10 10 0 10 0 10 10 10 0 10 10 0 -10 10 -10 10 0 10 -10 10 10 0 -10 10 -10 10 0 10 10 -10 10 10 10 -10 10 -10 0 10 10 0 10 -10 10 -10 10 -10 -10 -10 -10 10 -10 10 10 0 -10 -10 -10 -10 0 -10 10 0 10 -10 10 -10 0 -10 10 -10 10 -10 -10 -10 0 -10 0 -10 10 0 10 -10 10 -10 -10 -10 10 -10 0 -10 0 -10 10 -10 -10 10 -10 -10 0 -10 10 -10 0 -10 0 -10 10 -10 10 -10 0 -10 0 -10 0 -10 -10 -10 -10 10 -10 10 10 10 0 10 0 -10 -10 0 -10 0 -10 0 -10 -10 -10 -10 10 -10 0 -10 0 -10 0 10 0 10 0 10 0 10 10 -10 10 -10 10 -10 -10 -10 10 0 10 -10 10 10 10 10 -10 10 0 10 10 0 10 -10 10 10 10 -10 10 -10 -10 -10 -10 -10 0 -10 10 -10 -10 -10 -10 0 -10 0 10 -10 10 -10 -10 0 -10 -10 -10 -10 0 -10 -10 0 -10 -10 10 -10 -10 0 10 -10 10 -10 0 0 10 -10 10 -10 -10 -10 -10 10 -10 10 -10 -10 0 -10 0 0 10 0 10 0 10 -10 10 -10 10 -10 0 -10 -10 10 -10 10 0 -10 -10 10 -10 0 -10 0 -10 10 -10 0 -10 -10 10 0 10 -10 10 -10 -10 0 -10 -10 0 -10 0 -10 -10 -10 -10 10 -10 -10 -10 0 -10 -10 -10 0 -10 0 -10 -10 -10 0 -10 0 -10 0 -10 10 -10 -10 -10 0 -10 0 -10 0 -10 10 -10 10 -10 -10 -10 -10 0M885 435l10 -10 10 10 -10 10 -10 -10M765 445l-10 10 10 10 -10 10 -10 0 -10 10 10 0 10 -10 10 0 10 0 -10 -10 0 -10 10 -10 -10 0M795 445l0 10 0 -10M835 445l10 -10 10 10 0 10 -10 10 10 0 10 10 0 10 -10 10 0 10 0 10 -10 10 -10 -10 0 -10 0 -10 -10 10 -10 -10 10 -10 10 -10 -10 -10 10 -10 0 -10M855 445l10 -10 10 10 -10 10 -10 -10M705 455l10 10 10 10 10 -10 0 -10 -10 10 -10 -10 -10 0M875 465l10 -10 10 10 -10 10 -10 -10M905 475l10 -10 10 10 -10 10 -10 -10M795 485l10 -10 10 10 -10 10 -10 -10M755 495l10 0 -10 0M945 495l10 -10 10 10 -10 10 -10 -10M795 505l10 -10 10 10 -10 10 -10 -10M685 515l0 10 0 -10M705 515l0 10 -10 10 10 0 0 -10 10 -10 -10 0M735 515l-10 10 10 0 0 -10M875 515l10 -10 10 0 10 10 -10 10 -10 0 -10 10 -10 -10 10 -10M805 525l10 -10 10 10 10 0 10 10 -10 10 -10 0 -10 -10 -10 -10M955 525l10 -10 10 10 -10 10 -10 -10M905 555l10 -10 10 10 -10 10 -10 -10M885 565l10 -10 10 10 -10 10 -10 -10M875 585l10 -10 10 10 -10 10 -10 -10M5 585l10 10 0 -10 -10 0M765 595l0 10 0 -10M735 605l0 10 10 10 -10 10 0 10 10 -10 0 -10 0 -10 -10 -10M805 605l0 10 0 -10M825 615l10 -10 10 10 10 -10 10 10 0 10 -10 10 -10 0 -10 -10 -10 -10M785 625l0 10 10 -10 -10 0M865 625l10 -10 10 10 -10 10 -10 -10M965 625l10 -10 10 10 -10 10 -10 -10M705 645l-10 10 10 10 0 -10 10 -10 -10 0M785 665l10 10 0 10 10 -10 10 0 0 -10 -10 10 -10 -10 -10 0M885 665l10 -10 10 10 -10 10 -10 -10M5 665l0 -10 10 -10 10 0 -10 0 -10 0M745 675l10 10 10 0 -10 -10 -10 0M855 685l10 -10 10 10 10 10 0 10 -10 10 -10 -10 0 -10 -10 10 -10 -10 10 -10M905 685l10 -10 10 10 -10 10 -10 -10M695 695l0 10 0 -10M795 715l10 -10 10 10 -10 10 -10 10 -10 -10 10 -10M845 715l10 -10 10 10 -10 10 -10 -10M845 735l10 -10 10 10 -10 10 -10 -10M565 745l10 0 -10 0M825 745l10 -10 10 10 -10 10 -10 -10M785 755l10 -10 10 0 10 10 -10 10 -10 0 -10 -10M865 765l10 -10 10 10 -10 10 -10 -10M515 775l10 0 -10 0M565 775l10 0 -10 0M625 775l10 0 -10 0M755 775l10 -10 10 10 -10 10 -10 -10M795 775l10 -10 10 10 -10 10 -10 -10M775 785l10 -10 10 10 10 10 -10 10 -10 -10 -10 -10M515 795l-10 10 10 0 10 0 -10 -10M705 795l10 -10 10 10 -10 10 -10 -10M735 805l10 -10 10 10 0 10 -10 10 -10 -10 0 -10M35 815l10 10 0 10 0 10 0 -10 0 -10 0 -10 -10 0M435 815l-10 10 10 10 10 0 -10 -10 0 -10M755 815l10 -10 10 10 10 -10 10 10 -10 10 -10 10 -10 -10 -10 -10M825 815l10 -10 10 10 -10 10 -10 -10M935 815l10 -10 10 10 -10 10 -10 -10M615 835l10 -10 10 10 0 10 10 -10 10 10 -10 10 10 0 10 10 -10 10 -10 0 -10 -10 -10 10 -10 -10 -10 0 -10 -10 0 -10 10 -10 10 10 0 -10M665 835l10 -10 10 10 -10 10 -10 -10M685 835l10 -10 10 0 10 10 -10 10 0 10 0 10 0 10 0 10 -10 10 -10 -10 0 -10 0 -10 0 -10 0 -10 0 -10M745 835l10 -10 10 10 -10 10 -10 -10M75 855l-10 10 10 10 10 -10 -10 -10M445 855l-10 10 0 10 -10 10 -10 10 -10 -10 0 10 10 0 10 0 10 -10 10 0 -10 -10 10 -10 0 -10M125 865l10 10 0 -10 -10 0M185 865l0 10 0 10 0 10 10 10 10 10 10 0 -10 -10 0 -10 0 -10 0 -10 0 10 -10 10 -10 -10 0 -10 0 -10M225 865l0 10 10 0 -10 -10M335 865l0 10 0 -10M495 865l0 10 10 -10 -10 0M375 875l10 0 10 0 -10 0 -10 0M595 875l10 -10 10 10 10 10 -10 10 -10 0 -10 -10 0 -10M665 875l10 -10 10 10 -10 10 -10 10 -10 -10 10 -10M5 885l10 -10 10 10 -10 10 -10 -10M225 905l10 10 0 10 10 -10 -10 -10 -10 0M335 905l10 0 -10 0M5 915l10 -10 10 10 -10 10 -10 -10M265 915l10 -10 10 10 -10 10 -10 -10M455 915l10 -10 10 10 -10 10 -10 -10M45 925l10 -10 10 10 -10 10 -10 -10M355 925l10 -10 10 10 -10 10 -10 -10M155 935l10 -10 10 10 -10 10 -10 10 -10 -10 10 -10M175 945l10 -10 10 0 10 10 0 10 -10 10 -10 10 -10 -10 10 -10 -10 -10M305 945l10 -10 10 10 10 10 -10 10 -10 -10 -10 -10M125 955l10 -10 10 10 0 10 10 0 10 10 -10 10 -10 0 -10 -10 -10 -10 0 -10M215 965l10 -10 10 10 -10 10 -10 -10M335 965l10 -10 10 10 -10 10 -10 -10M265 995l10 -10 10 10"/><path stroke="#212121" stroke-width="5.80" vector-effect="non-scaling-stroke" d="M360 215l5 -3 3 3 0 10 -3 3 -4 -3 -1 -10M182 225l3 -2 5 2 -5 5 -3 -5M250 225l5 -5 4 5 -4 4 -5 -4M310 225l5 -3 3 3 -3 5 -5 -5M165 235l10 -3 5 3 -2 10 -3 3 -10 0 -10 -1 -2 -2 2 -3 10 -7M198 235l7 -5 10 0 7 5 -7 5 -10 5 -7 -10M242 235l3 -3 2 3 -2 3 -3 -3M331 235l4 -10 10 10 -10 10 -4 -10M385 235l10 -9 10 0 8 9 -8 8 -10 -1 -10 -7M420 235l5 -5 7 5 -7 4 -5 -4M492 235l3 -3 3 3 -3 3 -3 -3M119 245l6 -4 6 4 -6 6 -6 -6M283 245l2 -10 10 10 -10 3 -2 -3M480 245l5 -4 4 4 -4 4 -5 -4M292 255l3 -10 3 10 -3 10 -3 -10M358 255l7 -4 7 4 -7 5 -5 5 5 7 3 3 -3 2 -10 8 -10 -10 -5 -10 5 -5 10 -2 3 -3M462 255l3 -3 4 3 -4 10 -3 -10M552 255l3 -5 10 3 3 2 -3 3 -10 -1 -3 -2M242 265l3 -5 5 5 5 10 -10 6 -5 -6 2 -10M262 265l3 -3 3 3 -1 10 8 10 -10 5 -5 -5 -5 -10 7 -10M305 265l10 -3 10 -1 7 4 -7 4 -8 6 -2 3 -5 -3 -5 -10M377 265l8 -6 10 -1 3 7 7 10 -5 10 2 10 3 10 -10 10 10 1 2 -1 -2 -10 10 -7 6 -3 4 -10 10 -10 6 10 4 4 10 6 10 6 5 4 5 5 10 -3 3 -2 4 -10 -2 -10 5 -7 4 7 1 10 0 10 -5 5 -4 5 4 4 6 6 4 5 7 -5 -4 -10 7 -4 8 4 2 10 3 -10 0 -10 -3 -3 -10 -4 -7 -3 3 -10 4 -4 5 4 5 3 10 2 5 5 0 10 0 10 5 10 0 10 0 10 10 0 -10 -10 10 -10 7 10 3 7 2 3 8 10 0 10 0 10 0 10 0 -10 10 -10 10 -6 6 6 4 5 5 -5 5 -7 10 0 10 7 -10 5 -7 5 -3 3 -3 7 -7 10 -10 -4 -10 4 10 10 10 0 10 10 4 10 -4 4 -6 6 -4 10 -10 0 -10 -10 2 -10 0 -10 -2 -2 -3 2 0 10 3 10 0 10 5 10 -5 5 -4 5 4 3 10 4 5 -7 5 -10 10 10 -5 10 -5 3 -10 0 -3 7 3 7 5 3 -5 2 -5 -2 -5 -2 -2 2 -1 10 -2 10 -5 7 -5 -7 -1 -10 -4 -7 -10 0 -10 -3 3 10 7 7 3 3 -3 10 -10 3 -3 7 3 4 10 -4 0 -10 10 -3 5 3 5 10 5 -10 5 -3 3 3 5 10 -8 8 -2 2 2 3 10 2 7 5 3 2 10 8 0 10 -7 10 -3 3 -10 4 -4 3 3 10 1 3 3 -3 7 -5 10 5 0 10 -10 5 -10 0 -4 5 4 4 10 0 7 6 -7 6 -10 1 -2 3 2 10 -10 8 -5 2 5 1 9 9 1 5 10 5 10 10 -10 3 -5 -3 -5 -5 -2 5 -1 10 3 3 3 7 -3 4 -10 -2 -5 -2 -1 -10 -4 -10 -10 -5 -3 -5 -7 -5 -8 5 8 8 3 2 2 10 -3 10 -2 3 -10 7 -8 -10 -2 -3 -10 -3 -10 6 -10 8 -10 -3 -10 5 -7 -10 -3 -2 -3 2 -7 10 -10 0 -4 -10 -6 -3 -8 3 -2 10 -3 10 0 10 -7 5 -10 1 -7 4 -3 3 -5 -3 5 -5 3 -5 -3 -5 -10 -2 -7 7 -3 5 -10 1 -5 4 0 10 -5 10 -10 -7 -10 -3 -10 7 -10 0 -10 -2 -5 5 -5 10 -10 -4 -7 -6 -3 -5 -10 5 -10 6 -6 -6 -4 -2 -10 -3 -5 5 5 10 -10 3 -10 -3 -10 10 -7 -10 -3 -3 -3 3 0 10 -7 4 -10 3 -10 -7 10 -10 10 -5 4 -5 -4 -5 -10 5 -10 5 -3 5 -7 5 -5 -5 -5 -10 -4 10 -6 6 -7 4 -3 2 -5 -2 -3 -10 3 -10 5 -7 2 -3 -2 -3 -10 -7 10 -7 7 7 3 2 10 -1 5 -1 5 -10 -10 -3 -10 3 -10 -2 -8 -8 -2 -5 -3 5 3 10 0 10 -3 10 -2 10 2 10 1 10 -3 10 -5 3 -10 -3 -8 -10 -2 -3 -10 -7 10 -7 3 -3 -3 -3 -10 -7 2 -10 -2 -10 -3 10 3 10 -10 7 -5 -7 1 -10 -6 -7 -3 -3 -7 -7 -10 -3 7 -10 3 -2 10 -6 2 -2 -2 -3 -5 -7 5 -5 3 -5 -3 -3 -5 3 -5 5 -7 -5 7 -4 3 -6 -3 -10 5 -10 -5 -4 -10 4 -6 -10 6 -6 10 0 10 -4 5 -10 -5 -10 -7 10 -3 3 -10 0 -3 -3 3 -10 7 -10 3 -3 10 -7 -10 -4 -10 -1 -5 -5 0 -10 5 -7 5 -3 -3 -10 8 -10 -10 -10 0 -10 7 -10 -7 -2 -5 2 5 10 -10 5 -7 -5 0 -10 7 -7 1 -3 -1 -5 -10 2 -7 -7 7 -7 10 -3 0 -10 10 -8 3 -2 -3 -1 -10 -4 -3 -5 -2 -10 5 -7 10 -3 -5 -10 5 -7 5 -3 -5 -10 10 -7 3 -3 -1 -10 8 -10 2 -10 8 -10 2 -10 3 -10 5 -4 10 -6 10 -7 10 -3 3 10 7 7 5 -7 -5 -10 1 -10 5 -10 4 -4 7 -6 3 -10 3 10 6 10 1 1 10 4 10 2 10 -4 10 7 3 -10 7 -5 10 5 10 3 2 -3 -2 -2 -7 -8 -3 -7 -3 -3 -7 -10 10 -7 4 7 6 10 7 10 3 3 7 -3 3 -3 10 3 -4 10 4 6 10 4 0 -10 10 -10 10 7 5 3 5 3 10 -3 -10 -3 -5 -7 -5 -3 -10 -7 10 -8 3 -2 7 -10 7 10 3 5 3 5 7 3 10 3 10 -6 10 6 10 -6 10 10 10 4 10 2 4 -6 -1 -10 -3 -5 -3 -5 -5 -10M73 275l2 -3 3 3 -3 5 -2 -5M142 275l3 -2 10 -3 2 5 -2 5 -10 5 -3 -10M405 275l10 -7 7 7 -7 5 -10 -5M445 275l10 -10 7 10 3 4 10 6 3 10 -3 3 -3 -3 -7 -4 -8 -6 -2 -1 -10 -9M483 275l2 -2 5 2 -5 3 -2 -3M160 285l5 -2 3 2 2 10 -5 7 -4 -7 -1 -10M435 290l-6 5 4 10 2 2 3 -2 2 -10 -5 -5M107 305l8 -7 6 7 1 10 -7 10 -4 -10 -4 -10M335 302l-3 3 3 10 3 -10 -3 -3M551 305l4 -6 10 6 10 5 3 5 7 7 10 -7 10 5 5 5 0 10 -5 5 -7 -5 -3 -1 -5 1 -5 3 -10 0 -5 -3 -5 -10 -10 0 -6 -10 2 -10M590 305l5 -6 7 6 -7 10 -5 -10M608 305l7 -5 7 5 -7 4 -7 -4M235 313l-3 2 3 3 3 -3 -3 -2M285 310l-3 5 3 10 3 -10 -3 -5M425 311l-4 4 4 6 4 -6 -4 -4M155 323l-3 2 3 3 3 -3 -3 -2M185 325l-5 10 5 3 10 -3 -10 -10M225 322l-2 3 2 3 3 -3 -3 -3M305 320l-2 5 2 1 1 -1 -1 -5M345 320l-1 5 1 2 10 4 4 -6 -4 -7 -10 2M445 325l10 6 4 -6 -4 -8 -10 8M641 325l4 -3 10 3 -5 10 -5 5 -5 -5 1 -10M335 334l-3 1 3 1 2 -1 -2 -1M365 333l-3 2 3 2 1 -2 -1 -2M621 335l4 -7 4 7 -4 7 -3 3 -7 6 -5 -6 5 -5 6 -5M105 342l-3 3 3 3 2 -3 -2 -3M55 355l10 -10 8 10 -8 8 -10 -8M415 362l-2 3 2 3 3 -3 -3 -3M635 365l10 -7 6 7 -6 6 -10 -6M95 371l-4 4 4 3 4 -3 -4 -4M115 373l-2 2 2 1 1 -1 -1 -2M535 373l-3 2 3 1 10 -1 -10 -2M42 385l3 -5 3 5 2 10 -5 3 -5 7 -5 4 -10 -4 10 -10 7 -10M555 382l-3 3 3 7 4 -7 -4 -3M631 385l4 -7 7 7 -7 10 -4 -10M555 398l-3 7 3 7 3 3 7 10 5 -10 -5 -4 -6 -6 -4 -7M625 405l10 -10 3 10 -3 7 -10 -7M640 415l5 -2 2 2 -2 3 -5 -3M683 425l2 -3 2 3 -2 10 -2 -10M515 434l-1 1 1 2 1 -2 -1 -1M605 445l10 -3 10 -7 10 0 10 5 2 5 -2 3 -10 3 -10 -3 -10 -1 -10 -2M9 455l6 -5 7 5 -7 5 -6 -5M555 453l-3 2 0 10 3 2 10 5 4 -7 0 -10 -4 -3 -10 1M682 455l3 -3 3 3 -3 2 -3 -2M505 464l-1 1 1 1 9 9 1 2 2 -2 2 -10 -4 -2 -10 1M615 465l10 -3 10 3 -10 3 -10 -3M635 465l10 -5 6 5 -6 4 -10 -4M18 475l7 -5 7 5 -7 5 -7 -5M535 470l-2 5 2 5 3 -5 -3 -5M575 475l-3 10 3 3 3 -3 -3 -10M632 475l3 -10 2 10 -2 3 -3 -3M525 483l-2 2 2 2 5 -2 -5 -2M525 503l-3 2 3 3 2 -3 -2 -2M592 515l3 -2 5 2 -5 3 -3 -3M605 535l10 -10 10 3 5 7 5 10 -7 10 7 4 10 6 -10 6 -10 -6 -3 -10 -7 -7 -5 -3 -5 -10M20 545l5 -5 3 5 -3 3 -5 -3M565 542l-3 3 3 10 -1 10 1 2 3 -2 7 -5 5 -5 -5 -4 -8 -6 -2 -3M32 555l3 -3 10 3 -5 10 -5 10 -3 -10 0 -10M585 562l-3 3 3 1 10 1 1 -2 -1 -2 -10 -1M692 565l3 -7 4 7 3 10 -7 3 -3 -3 0 -10M465 574l-1 1 1 1 1 -1 -1 -1M555 585l10 0 -10 0M622 585l3 -2 3 2 4 10 3 5 10 5 0 10 -10 2 -3 -2 -7 -5 -10 -5 3 -10 4 -10M642 585l3 -10 3 10 -3 10 -3 -10M545 592l-1 3 -9 9 -10 1 10 1 10 -1 3 -10 -3 -3M575 589l-3 6 3 3 5 -3 -5 -6M32 605l3 -5 5 5 -5 5 -3 -5M645 605l10 -5 2 5 -2 5 -10 -5M555 613l-2 2 2 1 3 -1 -3 -2M585 614l-3 1 3 3 3 -3 -3 -1M85 620l-3 5 3 2 3 -2 -3 -5M643 625l2 -10 3 10 4 10 -7 6 -7 -6 5 -10M679 625l6 -6 8 6 -8 8 -5 2 -5 5 -10 -2 -5 -3 5 -3 10 0 4 -7M505 644l-2 1 2 2 3 -2 -3 -1M565 642l-4 3 4 4 3 -4 -3 -3M615 645l10 -5 3 5 7 5 4 5 -4 7 -10 -4 -5 -3 -5 -10M475 652l-2 3 2 2 3 -2 -3 -3M595 655l10 -5 7 5 3 5 3 5 -3 3 -5 -3 -5 -3 -10 -7M672 655l3 -5 5 5 -5 3 -3 -3M135 663l-4 2 4 3 3 -3 -3 -2M95 674l-2 1 2 2 2 -2 -2 -1M175 672l-5 3 5 2 2 -2 -2 -3M435 675l0 10 10 3 7 7 3 2 2 -2 1 -10 -3 -3 -10 2 -10 -9M505 675l-7 10 -3 3 -10 -3 4 10 -4 10 10 -3 10 3 10 -10 10 5 3 -5 -3 -2 -10 2 -5 -10 5 -3 8 -7 -8 -6 -10 6M565 670l-3 5 3 5 7 -5 -7 -5M345 682l-3 3 3 2 1 -2 -1 -3M225 690l-1 5 1 2 1 -2 -1 -5M85 702l-2 3 2 3 2 -3 -2 -3M145 703l-5 2 5 5 1 -5 -1 -2M165 705l10 0 -10 0M255 702l-5 3 5 5 10 5 0 -10 -10 -3M355 704l-3 1 3 2 10 2 5 -4 -5 -3 -10 2M385 699l-6 6 -4 10 10 -3 10 -4 3 -3 -3 -2 -10 -4M415 698l-3 7 3 4 5 -4 -5 -7M465 703l-2 2 2 3 2 -3 -2 -2M620 705l5 -3 2 3 -2 2 -5 -2M643 705l2 -5 2 5 -2 2 -2 -2M115 722l-3 3 3 4 7 -4 -7 -3M185 718l-4 7 -6 5 -6 5 6 3 7 -3 3 -3 3 -7 -3 -7M365 720l-3 5 3 4 4 -4 -4 -5M75 730l-5 5 5 5 2 -5 -2 -5M95 735l10 0 -10 0M225 730l-1 5 1 3 5 7 5 3 5 -3 -5 -10 -10 -5M325 735l6 10 -6 7 -2 3 2 3 10 1 7 -4 3 -3 10 -5 10 3 4 -5 -4 -3 -10 -2 -5 -5 -5 -3 -10 0 -10 3M490 735l5 -5 3 5 -3 4 -5 -4M185 745l0 10 0 -10M275 743l-3 2 3 1 10 2 2 -3 -2 -5 -10 3M461 745l4 -10 5 10 -5 3 -4 -3M482 745l3 -3 3 3 -3 2 -3 -2M105 748l-3 7 3 10 3 -10 -3 -7M265 755l-1 10 1 3 3 -3 -3 -10M295 752l-5 3 -1 10 6 4 4 -4 6 -10 -10 -3M507 755l8 -8 4 8 -4 5 -8 -5M52 765l3 -3 3 3 -3 3 -3 -3M392 765l3 -5 3 5 -3 5 -3 -5M482 765l3 -2 3 2 -3 5 -3 -5M215 773l-3 2 3 3 3 -3 -3 -2M318 785l7 -8 8 8 -8 5 -6 5 -4 8 -10 -5 -3 -3 3 -10 10 3 3 -3M373 785l2 -5 2 5 -2 3 -2 -3M422 785l3 -5 5 5 -5 3 -3 -3M152 795l3 -3 3 3 -3 10 -10 7 -3 -7 3 -5 7 -5M412 795l3 -3 3 3 -3 3 -3 -3M282 805l3 -3 3 3 -3 2 -3 -2M320 805l5 -2 2 2 -2 3 -5 -3M205 815l10 -5 10 5 -10 7 -10 -7M293 815l2 -3 10 3 -10 5 -2 -5M362 815l3 -4 3 4 -3 4 -3 -4M218 845l7 -4 4 4 -4 4 -7 -4M272 845l3 -4 4 4 -4 3 -3 -3"/><path stroke="#484848" stroke-width="5.80" vector-effect="non-scaling-stroke" d="M393 235l2 -1 10 -2 2 3 -2 2 -10 -1 -2 -1M452 275l3 -3 2 3 -2 3 -3 -3M142 305l3 -2 1 2 -1 2 -3 -2M360 305l5 -2 3 2 -3 3 -5 -3M411 305l4 -3 10 3 -10 7 -4 -7M134 315l1 -3 2 3 -2 3 -1 -3M150 315l5 -5 6 5 -6 4 -5 -4M372 315l3 -3 2 3 -2 2 -3 -2M142 325l3 -2 1 2 -1 2 -3 -2M312 325l3 -10 4 10 3 10 2 10 -1 10 2 5 10 -1 4 -4 -4 -5 -5 -5 5 -3 10 -7 10 6 10 4 9 -10 1 -2 10 -1 6 -7 4 -3 10 2 3 1 7 2 10 8 6 -10 4 -10 3 10 7 5 8 5 -2 10 4 5 10 2 10 -2 8 5 -8 8 -10 -3 -10 2 -2 3 2 10 -8 10 -2 10 10 -2 3 2 -3 3 -3 7 -4 10 7 3 10 1 3 -4 1 -10 1 -10 -5 -7 -2 -3 -8 -10 10 -5 10 -4 10 2 10 -3 10 -5 4 5 -4 4 -6 6 6 10 -2 10 2 3 8 7 2 1 10 -1 2 10 8 10 -6 10 3 10 -1 10 -6 6 -10 -4 -10 1 -5 7 5 7 3 3 -3 5 -10 -2 -3 7 3 7 3 3 4 10 -7 7 -4 3 3 10 1 1 3 -1 7 -5 10 -5 10 6 10 -3 4 7 -4 7 -10 0 -1 3 -9 9 -10 -9 -6 10 4 10 2 3 10 -1 10 -2 3 10 -3 3 -6 7 -4 3 -6 7 -4 4 -5 6 1 10 4 2 5 -2 0 -10 5 -6 10 -1 7 -3 3 -10 3 10 0 10 -3 3 -10 1 -7 6 -3 3 -3 7 3 10 0 10 -10 3 -10 4 -10 3 -10 1 -7 9 -3 4 -5 -4 1 -10 -3 -10 -3 -10 7 -10 -7 -3 -3 3 3 10 -2 10 -2 10 0 10 -6 10 -8 -10 1 -10 -3 -3 -4 3 -1 10 -3 10 -2 5 -3 -5 0 -10 -7 -5 -3 5 -3 10 -4 4 -6 6 -4 10 3 10 -3 2 -4 -2 -6 -4 -10 2 -7 -8 -3 -4 -3 4 -2 10 -5 1 -5 -1 0 -10 1 -10 -6 -10 -10 10 -5 10 -5 6 -10 -1 -3 5 -7 6 -6 4 -4 7 -10 -7 -10 -3 -4 -7 4 -10 10 7 8 -7 -8 -6 -10 6 -10 -10 -10 7 -1 3 -9 7 -7 3 3 10 -6 5 -8 -5 7 -10 -1 -10 -2 -10 -6 -10 3 -10 4 -10 -7 -10 -4 10 -1 10 -5 3 -2 7 -8 8 -10 2 -10 9 -3 1 -4 10 -3 2 -2 -2 -4 -10 6 -3 5 -7 5 -5 6 -5 -5 -10 -1 -2 -1 2 -9 9 -1 1 -9 7 -5 3 -2 10 -3 5 -3 -5 -1 -10 4 -10 -10 2 -1 -2 -9 -6 -10 6 -9 -10 -1 -1 -7 -9 7 -10 10 10 6 -10 -6 -3 -10 -7 6 -10 -3 -10 -3 -3 -5 3 -2 10 7 10 -10 10 -10 8 -8 -8 8 -7 5 -3 -5 -5 -3 -5 -2 -10 2 -10 3 -10 3 10 7 5 3 -5 7 -10 -10 -5 -10 5 -5 -10 5 -5 1 -5 -1 -5 -5 5 -5 5 -3 -5 -7 -10 -3 -10 -7 -5 -10 -5 7 -10 -7 -4 -10 -4 -3 -2 3 -4 7 -6 3 -2 8 -8 2 -2 8 -8 2 -10 -3 -10 3 -3 10 -7 -10 -4 -5 4 -5 5 -6 -5 1 -10 -5 -2 -6 -8 6 -5 10 -5 7 10 3 2 5 -2 5 -5 1 -5 2 -10 2 -10 -5 -5 -3 -5 3 -3 10 3 10 10 0 10 0 -10 10 -6 4 6 6 10 6 -10 -6 -8 -3 -2 -7 -2 -10 -8 10 -5 7 -5 3 -5 10 5 10 1 1 -1 -1 -1 -10 -9 -4 -10 -1 -10 5 -6 8 6 -1 10 3 1 2 -1 1 -10 7 -10 7 10 3 3 7 7 3 2 6 8 4 5 4 -5 -1 -10 -1 -10 8 -7 7 -3 3 -5 3 5 7 10 10 7 2 3 -2 5 -2 5 2 5 3 -5 7 -3 4 -7 -2 -10 -2 -3 -4 -7 4 -4 7 4 3 2 10 4 10 4 -10 10 6 10 4 10 0 10 10 -9 1 -1 -1 -3 -5 -7 -5 -10 0 -10 10 -10 10 0 10 -8 10 5 7 -7M330 325l5 -4 3 4 -3 3 -5 -3M462 325l3 -8 7 8 3 5 10 2 2 3 -2 3 -10 0 -7 -3 -3 -2 -3 -8M592 325l3 -3 3 3 -3 3 -3 -3M405 328l-5 7 5 5 2 -5 -2 -7M295 343l-2 2 2 2 2 -2 -2 -2M415 343l-5 2 5 5 7 5 -7 2 -6 8 -4 8 -2 2 1 10 1 10 10 -10 -7 -10 7 -2 9 -8 1 -5 5 -5 -5 -5 -3 -5 -7 -2M532 345l3 -10 2 10 8 10 -10 10 -10 5 -4 -5 4 -4 6 -6 1 -10M375 353l-1 2 1 2 2 -2 -2 -2M98 365l7 -5 7 5 -7 7 -7 -7M365 364l-1 1 1 2 2 -2 -2 -1M385 361l-4 4 4 3 4 -3 -4 -4M235 372l-5 3 5 2 1 -2 -1 -3M345 374l-1 1 1 3 3 -3 -3 -1M92 385l3 -2 10 2 -10 10 -3 -10M155 384l-1 1 1 1 3 -1 -3 -1M175 382l-5 3 5 2 5 -2 -5 -3M475 385l10 10 3 -10 -3 -3 -10 3M505 385l10 -7 10 4 10 2 5 1 -5 10 -10 10 -10 -10 -10 -10M425 394l-1 1 -2 10 3 2 3 -2 -1 -10 -2 -1M70 405l5 -4 6 4 0 10 -6 7 -10 3 -6 -10 6 -5 5 -5M185 400l-3 5 3 1 1 -1 -1 -5M435 414l-1 1 1 5 5 -5 -5 -1M495 414l-3 1 1 10 2 3 10 3 3 4 -3 5 -3 5 3 5 10 -5 6 -10 -6 -7 -4 -3 -3 -10 -3 -4 -10 3M593 425l2 -7 3 7 -3 3 -2 -3M385 434l-2 1 2 1 2 -1 -2 -1M455 431l-2 4 2 6 4 -6 -4 -4M125 442l-2 3 2 3 3 -3 -3 -3M475 453l-2 2 2 1 10 0 10 -1 -10 -3 -10 1M40 465l5 -6 10 1 4 5 -4 5 -10 -1 -5 -4M455 474l-2 1 2 3 3 -3 -3 -1M475 473l-5 2 1 10 4 7 3 -7 1 -10 -4 -2M583 475l2 -1 2 1 -2 10 -2 -10M48 485l7 -5 4 5 -4 4 -7 -4M105 493l-2 2 2 2 3 -2 -3 -2M85 498l-3 7 3 3 4 -3 -4 -7M485 503l-5 2 5 3 2 -3 -2 -2M540 515l5 -2 2 2 -2 2 -5 -2M475 518l-4 7 3 10 1 2 10 -2 -8 -10 -2 -7M85 533l-3 2 -4 10 7 4 3 -4 0 -10 -3 -2M475 553l-3 2 3 1 1 -1 -1 -2M525 555l10 -5 10 5 -10 3 -10 -3M55 565l10 -6 5 6 -5 6 -10 -6M549 565l6 -6 5 6 -5 8 -6 -8M602 565l3 -3 4 3 -4 7 -3 -7M465 568l-7 7 7 7 7 -7 -7 -7M565 575l10 -5 10 1 10 4 -10 6 -10 -2 -10 -4M145 595l10 1 1 -1 -1 -2 -10 2M560 595l5 -4 3 4 -3 4 -5 -4M624 595l1 -2 1 2 -1 3 -1 -3M71 605l4 -6 7 6 -3 10 -4 5 -5 -5 1 -10M165 603l-2 2 2 2 10 0 1 -2 -1 -1 -10 -1M425 598l-4 7 4 3 2 -3 -2 -7M465 602l-3 3 3 7 2 -7 -2 -3M485 605l-3 10 1 10 2 3 1 -3 9 -7 2 -3 -2 -4 -10 -6M573 605l2 -1 10 -2 1 3 -1 1 -10 2 -2 -3M135 612l-3 3 3 2 10 -2 -10 -3M385 613l-2 2 2 2 1 -2 -1 -2M532 615l3 -1 10 1 -10 5 -3 -5M345 623l-5 2 5 3 1 -3 -1 -2M395 624l-2 1 2 5 2 -5 -2 -1M515 625l10 -4 7 4 -7 3 -10 -3M545 625l10 -3 7 3 -7 4 -10 -4M542 635l3 -10 3 10 -3 2 -3 -2M265 643l-5 2 5 7 3 -7 -3 -2M395 637l-6 8 1 10 5 7 4 -7 3 -10 -7 -8M86 655l9 -9 10 9 -5 10 -5 3 -10 -3 1 -10M165 653l-5 2 5 1 1 -1 -1 -2M245 650l-3 5 3 1 10 -1 -10 -5M485 655l10 -7 7 7 -7 4 -5 6 -5 6 -10 1 -4 -7 4 -3 10 -7M275 662l-4 3 4 6 2 -6 -2 -3M375 664l-1 1 -2 10 3 2 10 2 6 -4 -6 -6 -7 -4 -3 -1M542 665l3 -2 10 2 -10 3 -3 -3M106 675l9 -9 9 9 -9 7 -9 -7M128 675l7 -2 3 2 -3 5 -7 -5M412 675l3 -3 5 3 -5 2 -3 -2M442 675l3 -10 7 10 -7 3 -3 -3M552 675l3 -10 1 10 -1 1 -3 -1M583 675l2 -1 1 1 1 10 -2 5 -3 -5 1 -10M64 685l1 -3 2 3 -2 1 -1 -1M198 685l7 -6 10 -4 2 10 2 10 -4 6 -6 4 -4 5 -10 -5 10 -10 -7 -10M305 680l-7 5 7 3 5 -3 -5 -5M464 685l1 -3 3 3 -3 10 -1 -10M521 685l4 -3 3 3 -3 2 -4 -2M111 695l4 -4 10 -1 5 5 -5 5 -10 -1 -4 -4M534 695l1 -2 3 2 -3 3 -1 -3M95 705l10 -3 3 3 -3 5 -10 -5M149 705l6 -9 7 9 -7 8 -6 -8M404 705l1 -2 1 2 -1 5 -1 -5M438 705l7 -5 7 5 -7 3 -7 -3M130 715l5 -2 2 2 -2 2 -5 -2M172 715l3 -2 2 2 -2 3 -3 -3M209 715l6 -5 10 5 -10 4 -6 -4M83 725l2 -3 3 3 -3 5 -2 -5M102 725l3 -3 1 3 -1 2 -3 -2M141 725l4 -5 10 2 2 3 -2 3 -5 7 -5 4 -7 -4 3 -10M282 725l3 -2 2 2 -2 2 -3 -2M325 725l10 -10 5 10 -5 3 -10 -3M350 725l5 -10 3 10 -3 4 -5 -4M191 735l4 -10 6 10 -6 6 -4 -6M209 735l6 -4 3 4 -3 5 -6 -5M241 735l4 -10 5 10 -5 6 -4 -6M302 735l3 -5 5 5 -5 3 -3 -3M413 735l2 -3 10 0 1 3 -1 3 -10 0 -2 -3M172 745l3 -2 3 2 -3 5 -3 -5M310 745l5 -7 5 7 -5 10 -5 -10M240 755l5 -3 10 3 -10 3 -5 -3M271 755l4 -3 5 3 -5 5 -4 -5M145 765l10 -3 5 3 -5 3 -10 -3M251 765l4 -10 3 10 -3 2 -4 -2M182 795l3 -3 5 3 -5 2 -3 -2"/><path stroke="#686868" stroke-width="5.80" vector-effect="non-scaling-stroke" d="M310 335l5 -4 2 4 3 10 -5 9 -9 -9 4 -10M411 335l4 -4 4 4 -4 4 -4 -4M191 345l4 -3 10 0 2 3 8 8 2 2 -2 10 -10 -5 -10 2 -2 -7 -2 -10M243 355l2 -7 4 7 -4 6 -2 -6M362 355l3 -3 3 3 -3 3 -3 -3M400 355l5 -6 6 6 -6 10 -5 -10M143 365l2 -1 5 1 -5 1 -2 -1M288 365l7 -10 10 10 8 10 0 10 -6 10 8 3 10 1 6 6 4 3 3 -3 7 -8 3 -2 1 -10 6 -7 10 0 10 4 3 -7 7 -3 10 3 5 10 -5 7 -10 0 -10 3 -10 0 10 0 10 10 10 5 7 -5 3 -2 6 -8 4 -4 4 4 -1 10 7 5 5 5 -5 8 -1 2 1 3 10 1 10 -1 4 7 -4 9 -10 -2 -3 3 -7 10 8 10 2 1 5 -1 2 -10 3 -5 10 -2 3 -3 7 -10 10 10 -10 10 -7 10 -3 1 -10 9 -10 10 5 10 5 10 5 10 -5 4 -5 -4 -5 -2 -3 2 3 5 4 5 6 3 6 -3 4 -5 3 -5 7 -7 6 7 -6 7 -5 3 5 7 1 3 -1 10 -10 3 -7 -3 -3 -1 -3 1 -7 7 -3 3 3 2 6 8 4 4 6 6 4 7 3 3 7 10 -10 10 -10 10 -10 -6 -3 -4 3 -5 10 2 3 -7 4 -10 -7 -3 -3 3 -7 6 -8 -6 8 -6 4 -4 -4 -4 -10 2 -8 -8 -2 -3 -2 3 -3 10 5 2 9 8 -9 7 -5 3 3 10 2 10 10 -1 2 1 -2 3 -5 7 5 3 10 0 2 -3 8 -10 5 10 -3 10 1 10 -3 8 -3 -8 -7 -7 -10 5 -10 -4 -5 -4 -5 -10 -10 -5 -5 -5 5 -9 1 -1 -1 -3 -10 3 -10 7 -3 3 3 5 10 5 5 10 -5 7 -10 -4 -5 -3 2 -10 -7 -4 -7 4 4 10 -4 10 -3 2 -3 -2 -2 -10 4 -10 -9 -10 -10 -1 -1 1 -6 10 5 10 -8 7 -10 3 -10 3 -3 -3 3 -10 0 -10 3 -10 -3 -3 -3 3 3 10 -10 5 -4 -5 -6 -8 -10 5 -2 3 2 4 10 6 4 10 -4 7 -3 3 -7 2 -3 -2 0 -10 -7 -6 -7 -4 -3 -2 -4 2 -6 4 -10 -2 -2 -2 2 -3 3 -7 -3 -2 -9 -8 -1 -2 -2 2 -8 4 -10 -4 3 -10 -3 -2 -2 2 2 10 -10 9 -1 1 -4 10 -5 7 -1 3 -6 10 -3 3 -3 -3 -6 -10 -1 -3 -3 -7 3 -4 4 4 6 3 5 -3 -4 -10 0 -10 4 -10 5 -6 6 -4 -6 -4 -7 4 -3 3 -10 1 -4 -4 4 -7 5 -3 -5 -2 -10 2 -10 -7 -10 3 -5 -6 5 -6 8 -4 2 -10 -10 -7 -10 3 -3 4 3 10 -10 2 -10 8 -3 -10 3 -5 3 -5 -3 -10 5 -10 -5 -7 -3 -3 -7 -10 10 -10 10 -3 2 3 8 5 4 5 -4 6 -5 4 2 10 3 4 4 -4 6 -4 4 -6 3 -10 -7 -5 -6 -5 -4 -8 -3 -2 -7 -3 -10 -7 -10 10 -7 -10 7 -7 2 -3 -2 -2 -10 -4 -4 -4 4 -3 10 -3 6 -4 -1 -10 5 -7 2 -3 8 -5 10 -3 5 -2 5 -3 7 -7 3 -10 3 10 7 3 3 -3 -3 -10 -7 -10 7 -5 10 5 10 -4 6 4 -6 7 -3 3 2 10 -3 10 4 2 3 -2 -2 -10 9 -6 5 -4 -2 -10 7 -8 3 -2 -1 -10 8 -9 7 9 3 10 10 -3 10 3 9 -10 1 -3 5 3 5 3 4 7 -4 7 -3 3 3 5 10 -2 5 -3 1 -10 4 -4 8 4 2 2 10 -1 2 -1 1 -10 -3 -4 -5 4 -5 7 -3 -7 3 -7 3 -3M340 365l5 -5 10 3 1 2 -1 3 -10 0 -5 -3M432 365l3 -3 7 3 0 10 -7 7 -6 3 -4 3 -3 -3 3 -5 3 -5 4 -10M154 375l1 -5 5 5 -5 1 -1 -1M330 375l5 -5 3 5 1 10 -4 5 -10 -1 -7 -4 7 -6 5 -4M473 375l2 -1 10 0 3 1 -3 1 -10 1 -2 -2M112 385l3 -2 4 2 -4 2 -3 -2M142 385l3 -1 1 1 -1 3 -3 -3M133 395l2 -3 3 3 -3 5 -2 -5M492 395l3 -10 2 10 8 10 -10 1 -10 -1 7 -10M205 403l-2 2 2 1 2 -1 -2 -2M295 405l-4 10 4 3 1 -3 -1 -10M432 405l3 -8 10 6 1 2 -1 2 -10 2 -3 -4M93 415l2 -4 3 4 0 10 -3 3 -3 -3 1 -10M113 415l2 -3 2 3 -2 2 -2 -2M215 412l-2 3 2 5 5 -5 -5 -3M474 415l1 -3 3 3 -3 3 -1 -3M514 415l1 -1 2 1 -2 3 -1 -3M480 425l5 -5 2 5 -2 3 -5 -3M155 433l-7 2 4 10 3 3 3 -3 0 -10 -3 -2M385 430l-5 5 5 4 7 -4 -7 -5M75 445l10 -3 4 3 -4 3 -10 -3M125 438l-5 7 5 8 5 2 5 1 4 -1 -4 -5 -2 -5 -8 -7M395 440l-2 5 2 3 3 -3 -3 -5M415 443l-1 2 1 2 1 -2 -1 -2M489 445l6 -8 3 8 -3 4 -6 -4M115 455l-5 10 5 3 10 -1 1 -2 -1 -3 -10 -7M225 452l-2 3 2 1 1 -1 -1 -3M469 465l6 -4 10 1 10 1 1 2 -1 2 -10 4 -10 -2 -6 -4M165 474l-3 1 3 1 1 -1 -1 -1M72 495l3 -3 3 3 -2 10 -1 10 -3 -10 0 -10M462 495l3 -3 2 3 -2 3 -3 -3M52 515l3 -2 3 2 -3 1 -3 -1M415 519l-2 6 2 5 6 -5 -6 -6M483 525l2 -5 3 5 -3 3 -2 -3M405 534l-2 1 2 1 3 -1 -3 -1M491 535l4 -3 4 3 -4 5 -4 -5M513 535l2 -3 1 3 -1 1 -2 -1M92 545l3 -6 10 6 -10 4 -3 -4M165 539l-2 6 2 3 3 -3 -3 -6M475 545l10 -2 3 2 5 10 -8 6 -5 -6 -5 -10M205 552l-3 3 3 4 4 -4 -4 -3M405 554l-1 1 1 1 2 -1 -2 -1M345 563l-6 2 6 3 4 -3 -4 -2M365 565l0 10 0 -10M471 565l4 -3 4 3 -4 4 -4 -4M215 583l-4 2 4 4 4 -4 -4 -2M265 582l-1 3 1 1 3 -1 -3 -3M285 584l-3 1 3 3 2 -3 -2 -1M385 584l-3 1 3 5 3 -5 -3 -1M470 585l5 -4 10 0 5 4 5 10 -10 2 -7 8 -2 10 -1 5 -2 -5 0 -10 -8 -10 5 -10M235 594l-1 1 1 5 1 -5 -1 -1M145 605l10 -3 3 3 -3 7 -10 -7M245 604l-5 1 5 1 10 9 10 1 2 -1 -2 -1 -8 -9 -2 -5 -10 4M325 599l-3 6 3 3 4 -3 -4 -6M157 615l8 -4 8 4 -8 6 -8 -6M502 615l3 -3 3 3 -3 4 -3 -4M122 625l3 -5 7 5 -7 2 -3 -2M138 625l7 -3 5 3 -5 10 -7 -10M494 625l1 -1 2 1 -2 3 -1 -3M197 635l8 -9 8 9 -5 10 2 10 -3 10 -2 2 -5 -2 -5 -4 -3 -6 -2 -10 5 -3 2 -7M114 645l1 -2 2 2 -2 1 -1 -1M92 655l3 -3 4 3 -4 5 -3 -5M122 655l3 -4 10 -6 5 10 -5 1 -10 3 -3 -4M313 655l2 -10 2 10 8 7 5 3 -5 5 -5 5 -5 4 -4 -4 0 -10 2 -10M332 655l3 -10 5 10 -5 5 -3 -5M372 655l3 -4 7 4 -7 3 -3 -3M161 665l4 -3 3 3 -3 3 -4 -3M242 665l3 -1 10 -1 5 2 -5 3 -10 0 -3 -3M281 665l4 -9 5 9 -5 7 -4 -7M362 665l3 -2 1 2 -1 3 -3 -3M111 675l4 -4 4 4 -4 3 -4 -3M184 675l1 -1 2 1 -2 1 -1 -1M240 685l5 -7 4 7 -4 3 -5 -3M151 705l4 -5 4 5 -4 4 -4 -4"/><path stroke="#868686" stroke-width="5.80" vector-effect="non-scaling-stroke" d="M312 345l3 -4 1 4 -1 3 -3 -3M203 375l2 -3 2 3 0 10 -2 10 -1 -10 -1 -10M434 375l1 -3 1 3 -1 1 -1 -1M385 385l10 -4 2 4 -2 3 -10 -3M154 395l1 -1 2 1 -2 2 -1 -2M192 395l3 -4 10 4 -10 10 -3 -10M229 395l6 -5 6 5 4 3 7 7 3 5 10 -5 10 -3 3 3 5 10 2 3 10 7 5 -10 5 -9 1 -1 9 -4 10 2 2 2 -2 5 -5 5 -5 5 -2 5 -1 10 3 2 3 -2 7 -6 4 -4 0 -10 6 -3 5 3 4 10 1 3 10 4 5 3 5 5 2 5 7 10 1 7 3 3 7 3 10 -1 1 -2 -1 -3 -10 -3 -5 -4 0 -10 5 -3 4 3 6 7 4 3 6 4 10 6 10 1 10 6 3 3 -3 3 -7 7 5 10 2 3 3 7 -3 2 -4 -2 -6 -4 -5 4 -5 5 -3 5 -3 10 -4 5 -10 5 10 4 10 0 5 -4 5 -4 3 4 -3 10 -10 7 -10 -1 -5 4 5 7 3 3 -3 5 -10 -2 -10 -3 -10 -10 -10 -5 -3 5 -7 8 -10 -2 -10 1 -4 3 4 2 10 7 5 1 5 2 10 6 3 2 -3 10 6 10 -6 7 -7 3 -3 2 -2 -2 2 -5 2 -5 -2 -2 -10 2 -10 4 -3 -4 -4 -10 -3 -2 -1 2 -5 10 6 6 6 4 -6 7 -6 3 -4 7 -3 -7 0 -10 -7 -9 -7 9 -3 6 -4 -6 -6 -8 -10 6 -10 -3 -4 -5 -3 -10 -3 -2 -6 2 -4 3 -3 -3 -7 -6 -8 -4 8 -4 5 -6 -5 -6 -8 -4 0 -10 -2 -1 -10 1 -10 -7 -6 7 6 10 10 -10 7 10 3 10 -10 4 -10 1 -10 2 -4 -7 -6 -8 -3 -2 -7 -3 -10 -1 -10 -1 -4 -5 -5 -10 9 -9 5 9 5 5 7 -5 -3 -10 0 -10 -2 -10 -2 -2 -3 2 0 10 -7 8 -10 2 -2 -10 2 -4 5 -6 5 -4 6 -6 -6 -5 -7 5 -3 4 -10 -4 4 -10 0 -10 -1 -10 -3 -1 -6 -9 6 -6 7 6 3 6 4 4 6 6 10 3 5 -9 -5 -5 -10 -5 -7 -10 7 -3 7 -7 3 -7 2 -3 8 -4 9 -6 -2 -10 3 -2 10 -8 10 7 2 3 -2 4 -3 6 3 7 10 0 5 -7 5 -5 3 -5 -3 -6 -7 -4 7 -4 4 -6M288 395l7 -3 4 3 -4 4 -7 -4M353 395l2 -7 3 7 -3 10 -2 -10M341 405l4 -4 10 4 -10 7 -4 -7M372 405l3 -2 2 2 0 10 8 7 4 3 -4 1 -9 9 -1 2 -5 -2 -5 -3 -5 -7 -5 -10 10 -7 7 -3M164 415l1 -5 1 5 -1 3 -1 -3M411 415l4 -7 10 6 2 1 -2 2 -4 8 -6 9 -10 -2 -7 -7 7 -5 6 -5M151 425l4 -2 5 2 -5 2 -4 -2M265 418l-5 7 0 10 5 3 4 -3 -1 -10 -3 -7M335 435l0 10 0 -10M435 435l10 -1 1 1 -1 1 -10 -1M110 445l5 -10 1 10 -1 3 -5 -3M141 445l4 -3 2 3 -2 5 -4 -5M195 440l-3 5 3 3 6 -3 -6 -5M225 444l-1 1 -4 10 5 5 5 -5 -4 -10 -1 -1M404 445l1 -3 1 3 -1 2 -1 -2M424 445l1 -5 1 5 -1 2 -1 -2M463 445l2 -3 3 3 -3 3 -2 -3M175 453l-3 2 3 5 1 -5 -1 -2M295 454l-1 1 1 1 2 -1 -2 -1M453 455l2 -1 2 1 -2 2 -2 -2M185 465l-4 10 4 2 2 -2 -2 -10M105 475l10 -2 7 2 3 1 6 9 -6 6 -10 -5 -2 -1 -8 -10M365 481l-3 4 3 3 2 -3 -2 -4M405 481l-4 4 2 10 2 3 10 1 3 -4 0 -10 -3 -3 -10 -1M205 494l-1 1 1 3 1 -3 -1 -1M375 495l10 3 3 -3 -3 -3 -10 3M225 505l-1 0 1 2 1 -2 -1 0M103 515l2 -2 10 0 5 2 -5 3 -10 0 -2 -3M195 512l-3 3 3 1 1 -1 -1 -3M375 510l-1 5 1 3 10 -2 10 1 3 -2 -3 -1 -10 0 -10 -4M355 523l-2 2 2 1 3 -1 -3 -2M195 534l-2 1 2 1 3 -1 -3 -1M442 535l3 -2 3 2 -3 3 -3 -3M255 564l-1 1 1 10 6 10 4 5 10 -5 10 10 10 2 3 -2 -3 -3 -2 -7 -8 -4 -10 -6 -10 0 -9 -10 -1 -1M423 565l2 -5 10 5 -10 2 -2 -2M159 575l6 -5 10 -2 6 7 -6 6 -10 -2 -6 -4M325 572l-3 3 3 3 2 -3 -2 -3M382 575l3 -10 2 10 -2 1 -3 -1M409 585l6 -4 4 4 -4 3 -6 -3M198 595l7 -8 8 8 -8 4 -7 -4M218 595l7 -7 3 7 -3 10 -7 -10M185 605l10 -5 2 5 2 10 -4 3 -9 7 -1 3 -1 -3 -3 -10 4 -10M401 605l4 -7 4 7 -4 10 -4 -10M230 615l5 -6 10 3 3 3 7 5 10 2 2 3 1 10 -3 1 -1 -1 -9 -6 -10 2 -3 -6 -7 -6 -5 -4M394 615l1 -1 10 1 -10 1 -1 -1M201 635l4 -5 4 5 -4 6 -4 -6M174 645l1 -1 1 1 -1 3 -1 -3M284 665l1 -1 1 1 -1 1 -1 -1M154 705l1 -1 1 1 -1 1 -1 -1"/><path stroke="#a7a7a7" stroke-width="5.80" vector-effect="non-scaling-stroke" d="M241 405l4 -3 3 3 -3 4 -4 -4M314 405l1 -1 3 1 -3 3 -1 -3M344 405l1 -1 2 1 -2 1 -1 -1M232 415l3 -4 4 4 6 4 7 6 -7 6 -6 -6 -4 -6 -3 -4M272 415l3 -3 2 3 3 10 -2 10 7 5 10 -4 5 -1 2 -10 2 -10 1 -3 4 3 -2 10 -1 10 9 5 9 -5 1 -1 2 1 1 10 -3 3 -3 7 3 7 6 -7 4 -4 4 -6 6 -7 6 7 4 4 10 -1 6 7 0 10 -6 10 -7 10 -3 6 -10 -2 -10 -1 -4 7 4 5 10 2 10 -3 5 -4 5 -3 4 3 2 10 -3 10 -3 7 -10 -2 -7 5 7 5 10 -2 5 7 -5 5 -10 4 -2 1 2 10 -10 3 -10 0 -4 -3 -6 -4 -6 -6 3 -10 -7 -4 -3 4 -1 10 4 7 3 3 -3 5 -10 -3 -6 8 -4 7 -3 3 -7 3 -5 -3 -5 -8 -10 4 -6 -6 -4 -4 -6 4 -4 10 -8 -10 8 -4 3 -6 -3 -4 -9 -6 -1 -3 -2 3 -8 5 -10 -1 -8 -4 8 -6 5 -4 -5 -5 -10 2 -10 -2 -10 3 -10 -8 10 -7 10 2 9 -5 1 -3 2 3 8 6 10 -4 1 -2 6 -10 -7 -3 -5 3 -5 5 -7 -5 2 -10 -5 -7 -5 -3 -5 -3 -3 3 3 3 5 7 -5 7 -2 3 -8 9 -9 -9 -1 -10 3 -10 7 -4 6 -6 4 -7 2 -3 -2 -4 -10 -3 -3 -3 -2 -10 -4 -10 9 -6 7 -4 3 -7 2 7 -2 5 -2 5 -7 10 9 7 10 3 3 -10 7 -7 4 -3 6 -7 7 7 3 4 10 0 8 -4 2 -3 1 3 -1 10 10 -3 7 3 3 2 3 -2 -3 -5 -2 -5 1 -10 -2 -10M333 425l2 -5 3 5 -3 3 -2 -3M404 425l1 -1 10 -8 4 9 -4 5 -10 -4 -1 -1M225 440l-4 5 -5 10 9 9 9 -9 -3 -10 -6 -5M295 452l-4 3 4 3 10 -2 1 -1 -1 -3 -10 0M132 465l3 -3 3 3 -3 4 -3 -4M163 465l2 -3 2 3 -2 1 -2 -1M285 464l-5 1 5 1 1 -1 -1 -1M404 465l1 -1 2 1 -2 10 -1 -10M245 472l-3 3 3 4 10 2 10 -4 5 -2 -5 -2 -10 0 -10 -1M305 474l-5 1 5 4 3 -4 -3 -1M381 475l4 -2 10 2 2 10 2 10 6 10 1 10 -1 10 -1 -10 -9 -4 -10 -1 -6 -5 6 -4 7 -6 -7 -7 -10 2 -4 -5 4 -6 6 -4M419 475l6 -4 6 4 -6 6 -6 -6M123 485l2 -1 1 1 -1 1 -2 -1M143 485l2 -4 4 4 6 7 10 0 10 3 -10 7 -10 -6 -10 3 -2 -4 0 -10M265 493l-3 2 3 2 3 -2 -3 -2M285 501l-3 4 3 3 10 0 4 -3 -4 -4 -10 0M150 525l5 -6 3 6 -3 3 -5 -3M382 525l3 -1 10 -2 10 3 -10 4 -4 6 -6 6 -7 4 -3 3 -4 -3 4 -4 3 -6 4 -10M150 545l5 -5 3 5 -3 8 -5 -8M186 545l9 -6 9 6 -8 10 -1 4 -10 -4 1 -10M285 540l-3 5 -7 4 -3 6 3 8 10 -3 3 -5 0 -10 -3 -5M335 540l-4 5 4 5 4 -5 -4 -5M395 545l10 -4 7 4 -7 4 -10 -4M158 555l7 -2 8 2 -8 3 -7 -3M383 555l2 -2 10 2 -10 2 -2 -2M213 575l2 -3 2 3 -2 1 -2 -1M330 575l5 -4 6 4 -6 7 -5 -7M248 585l7 -5 3 5 -3 4 -7 -4M308 585l7 -10 10 10 -5 10 -3 10 -2 6 -4 -6 -3 -10 0 -10M263 595l2 -1 10 -2 3 3 -3 10 -10 0 -2 -10M234 615l1 -1 3 1 -3 1 -1 -1M319 615l6 -2 2 2 -2 3 -6 -3"/><path stroke="#c6c6c6" stroke-width="5.80" vector-effect="non-scaling-stroke" d="M244 425l1 -1 1 1 -1 1 -1 -1M412 425l3 -3 1 3 -1 2 -3 -2M182 435l3 -2 2 2 -2 3 -3 -3M224 435l1 -1 1 1 -1 1 -1 -1M212 445l3 -3 2 3 -2 4 -3 -4M238 445l7 -2 3 2 -3 7 -7 -7M284 445l1 -1 10 -4 8 5 -8 4 -6 6 -4 5 -10 1 -3 4 -7 5 -10 -1 -10 -1 -6 7 6 10 9 10 1 2 10 5 10 -7 3 10 7 8 10 -1 10 -7 -10 -9 -5 -1 -2 -10 -3 -3 -3 3 -7 10 -10 -5 -7 -5 7 -4 10 -4 3 -2 7 -5 5 -5 5 -4 10 -1 6 -5 -1 -10 5 -1 4 1 -1 10 0 10 -3 5 -10 0 -10 2 -3 3 3 3 8 7 2 7 2 -7 8 -9 5 -1 5 -3 10 0 3 3 -3 4 -2 6 -8 10 -1 10 1 2 10 -1 8 9 -8 8 -10 -2 -10 1 -3 3 -7 10 -10 6 -4 -6 -2 -10 -4 -7 -6 7 -2 10 -2 3 -10 4 -1 3 1 2 3 8 1 10 -4 2 -2 -2 -8 -7 -3 -3 -7 -8 -3 -2 -4 -10 -3 -7 -5 -3 0 -10 5 -7 7 -3 -5 -10 -2 -3 -1 3 -9 5 -9 5 -1 1 -1 -1 -1 -10 2 -10 10 3 4 -3 -4 -7 -10 7 -10 -7 -10 -2 -1 -1 1 -1 6 -9 4 -5 6 5 4 5 10 1 3 -6 7 -7 10 -1 3 -2 7 -3 4 3 6 3 3 -3 7 -5 9 -5M342 445l3 -3 3 3 -3 6 -3 -6M350 455l5 -2 10 -2 3 4 -2 10 -1 2 -3 8 -7 9 -7 -9 2 -10 0 -10M184 485l1 -1 1 1 -1 3 -1 -3M192 495l3 -1 1 1 -1 1 -3 -1M180 505l5 -7 5 7 -5 5 -5 -5M360 505l5 -3 1 3 -1 3 -5 -3M385 505l10 -9 5 9 -5 3 -10 -3M245 508l-3 7 -5 10 8 3 10 4 10 -7 -10 -2 -8 -8 -2 -7M353 515l2 -5 3 5 -3 1 -2 -1M185 525l10 -1 10 -1 3 2 -3 1 -10 0 -10 -1M345 535l10 -1 5 1 -5 3 -10 -3M383 535l2 -3 2 3 -2 2 -2 -2M153 545l2 -1 1 1 -1 2 -2 -2M191 545l4 -3 4 3 -4 6 -4 -6M403 545l2 -1 1 1 -1 1 -2 -1M342 555l3 -10 2 10 -2 1 -3 -1M334 575l1 -1 1 1 -1 1 -1 -1M254 585l1 -1 1 1 -1 1 -1 -1M311 585l4 -5 5 5 -3 10 -2 5 -2 -5 -2 -10"/><path stroke="#dedede" stroke-width="5.80" vector-effect="non-scaling-stroke" d="M292 445l3 -2 2 2 -2 1 -3 -1M274 455l1 -1 10 -1 1 2 -1 1 -10 0 -1 -1M234 465l1 -1 5 1 -4 10 1 10 -2 1 -1 -1 -2 -10 2 -10M255 465l10 -3 3 3 -3 2 -10 -2M293 465l2 -1 10 -1 3 2 -3 1 -10 1 -2 -2M284 475l1 -1 1 1 -1 1 -1 -1M351 475l4 -7 3 7 -3 5 -4 -5M264 485l1 -1 10 -2 3 3 -3 4 -10 -3 -1 -1M292 485l3 -3 4 3 -4 5 -3 -5M312 485l3 -3 10 -3 5 6 -5 6 -4 4 -3 10 -3 10 -3 -10 -3 -10 3 -10M218 495l7 -4 5 4 -5 3 -7 -3M243 495l2 -3 3 3 -3 3 -2 -3M184 505l1 -2 1 2 -1 1 -1 -1M393 505l2 -1 1 1 -1 1 -2 -1M250 515l5 -10 9 10 -9 4 -5 -4M300 515l5 -3 10 3 -9 10 -1 2 -10 -2 5 -10M326 515l9 -6 5 6 -5 6 -9 -6M242 535l3 -3 4 3 -4 5 -3 -5M252 545l3 -2 1 2 -1 10 -3 -10"/><path stroke="#f2f2f2" stroke-width="5.80" vector-effect="non-scaling-stroke" d="M320 485l5 -2 1 2 -1 2 -5 -2M223 495l2 -1 1 1 -1 1 -2 -1M313 495l2 -5 2 5 -2 4 -2 -4M254 515l1 -2 1 2 -1 1 -1 -1M330 515l5 -3 3 3 -3 3 -5 -3"/></g></g>
<defs><linearGradient id="cbg" x1="0" y1="1" x2="0" y2="0"><stop offset="0.00" stop-color="#6a3296"/><stop offset="0.10" stop-color="#5c3492"/><stop offset="0.20" stop-color="#403888"/><stop offset="0.30" stop-color="#2a387e"/><stop offset="0.40" stop-color="#163874"/><stop offset="0.50" stop-color="#043a6b"/><stop offset="0.60" stop-color="#0c4c5e"/><stop offset="0.70" stop-color="#125f4c"/><stop offset="0.80" stop-color="#176c3e"/><stop offset="0.90" stop-color="#1e7a32"/><stop offset="1.00" stop-color="#258a28"/></linearGradient></defs>
<rect x="2610.7" y="720.5" width="149.3" height="1439.5" fill="url(#cbg)" stroke="#000" stroke-width="3"/>
<path fill="none" stroke="#000" stroke-width="2.2" d="M424.9 600.3V583.8M424.9 120.3V136.8M489.4 600.3V583.8M489.4 120.3V136.8M553.9 600.3V583.8M553.9 120.3V136.8M618.4 600.3V583.8M618.4 120.3V136.8M682.9 600.3V567.3M682.9 120.3V153.3M747.4 600.3V583.8M747.4 120.3V136.8M811.9 600.3V583.8M811.9 120.3V136.8M876.4 600.3V583.8M876.4 120.3V136.8M940.9 600.3V583.8M940.9 120.3V136.8M1005.4 600.3V567.3M1005.4 120.3V153.3M1069.9 600.3V583.8M1069.9 120.3V136.8M1134.4 600.3V583.8M1134.4 120.3V136.8M1198.9 600.3V583.8M1198.9 120.3V136.8M1263.4 600.3V583.8M1263.4 120.3V136.8M1327.9 600.3V567.3M1327.9 120.3V153.3M1392.4 600.3V583.8M1392.4 120.3V136.8M1456.9 600.3V583.8M1456.9 120.3V136.8M1521.4 600.3V583.8M1521.4 120.3V136.8M1585.9 600.3V583.8M1585.9 120.3V136.8M1650.4 600.3V567.3M1650.4 120.3V153.3M1714.9 600.3V583.8M1714.9 120.3V136.8M1779.4 600.3V583.8M1779.4 120.3V136.8M360.4 518.8H376.9M1800.5 518.8H1784.0M360.4 437.3H376.9M1800.5 437.3H1784.0M360.4 355.8H376.9M1800.5 355.8H1784.0M360.4 274.3H376.9M1800.5 274.3H1784.0M360.4 192.8H393.4M1800.5 192.8H1767.5M424.9 2160.0V2143.5M424.9 720.5V737.0M489.4 2160.0V2143.5M489.4 720.5V737.0M553.9 2160.0V2143.5M553.9 720.5V737.0M618.4 2160.0V2143.5M618.4 720.5V737.0M682.9 2160.0V2127.0M682.9 720.5V753.5M747.4 2160.0V2143.5M747.4 720.5V737.0M811.9 2160.0V2143.5M811.9 720.5V737.0M876.4 2160.0V2143.5M876.4 720.5V737.0M940.9 2160.0V2143.5M940.9 720.5V737.0M1005.4 2160.0V2127.0M1005.4 720.5V753.5M1069.9 2160.0V2143.5M1069.9 720.5V737.0M1134.4 2160.0V2143.5M1134.4 720.5V737.0M1198.9 2160.0V2143.5M1198.9 720.5V737.0M1263.4 2160.0V2143.5M1263.4 720.5V737.0M1327.9 2160.0V2127.0M1327.9 720.5V753.5M1392.4 2160.0V2143.5M1392.4 720.5V737.0M1456.9 2160.0V2143.5M1456.9 720.5V737.0M1521.4 2160.0V2143.5M1521.4 720.5V737.0M1585.9 2160.0V2143.5M1585.9 720.5V737.0M1650.4 2160.0V2127.0M1650.4 720.5V753.5M1714.9 2160.0V2143.5M1714.9 720.5V737.0M1779.4 2160.0V2143.5M1779.4 720.5V737.0M360.4 2150.6H376.9M1800.5 2150.6H1784.0M360.4 2106.2H393.4M1800.5 2106.2H1767.5M360.4 2061.8H376.9M1800.5 2061.8H1784.0M360.4 2017.4H376.9M1800.5 2017.4H1784.0M360.4 1973.0H376.9M1800.5 1973.0H1784.0M360.4 1928.6H376.9M1800.5 1928.6H1784.0M360.4 1884.2H393.4M1800.5 1884.2H1767.5M360.4 1839.7H376.9M1800.5 1839.7H1784.0M360.4 1795.3H376.9M1800.5 1795.3H1784.0M360.4 1750.9H376.9M1800.5 1750.9H1784.0M360.4 1706.5H376.9M1800.5 1706.5H1784.0M360.4 1662.1H393.4M1800.5 1662.1H1767.5M360.4 1617.7H376.9M1800.5 1617.7H1784.0M360.4 1573.2H376.9M1800.5 1573.2H1784.0M360.4 1528.8H376.9M1800.5 1528.8H1784.0M360.4 1484.4H376.9M1800.5 1484.4H1784.0M360.4 1440.0H393.4M1800.5 1440.0H1767.5M360.4 1395.6H376.9M1800.5 1395.6H1784.0M360.4 1351.2H376.9M1800.5 1351.2H1784.0M360.4 1306.8H376.9M1800.5 1306.8H1784.0M360.4 1262.3H376.9M1800.5 1262.3H1784.0M360.4 1217.9H393.4M1800.5 1217.9H1767.5M360.4 1173.5H376.9M1800.5 1173.5H1784.0M360.4 1129.1H376.9M1800.5 1129.1H1784.0M360.4 1084.7H376.9M1800.5 1084.7H1784.0M360.4 1040.3H376.9M1800.5 1040.3H1784.0M360.4 995.9H393.4M1800.5 995.9H1767.5M360.4 951.4H376.9M1800.5 951.4H1784.0M360.4 907.0H376.9M1800.5 907.0H1784.0M360.4 862.6H376.9M1800.5 862.6H1784.0M360.4 818.2H376.9M1800.5 818.2H1784.0M360.4 773.8H393.4M1800.5 773.8H1767.5M360.4 729.4H376.9M1800.5 729.4H1784.0M2006.1 2160.0V2143.5M2006.1 720.5V737.0M2091.8 2160.0V2143.5M2091.8 720.5V737.0M2177.5 2160.0V2143.5M2177.5 720.5V737.0M2263.2 2160.0V2143.5M2263.2 720.5V737.0M2348.9 2160.0V2127.0M2348.9 720.5V753.5M2434.6 2160.0V2143.5M2434.6 720.5V737.0M1920.4 2150.6H1936.9M2490.5 2150.6H2474.0M1920.4 2106.2H1953.4M2490.5 2106.2H2457.5M1920.4 2061.8H1936.9M2490.5 2061.8H2474.0M1920.4 2017.4H1936.9M2490.5 2017.4H2474.0M1920.4 1973.0H1936.9M2490.5 1973.0H2474.0M1920.4 1928.6H1936.9M2490.5 1928.6H2474.0M1920.4 1884.2H1953.4M2490.5 1884.2H2457.5M1920.4 1839.7H1936.9M2490.5 1839.7H2474.0M1920.4 1795.3H1936.9M2490.5 1795.3H2474.0M1920.4 1750.9H1936.9M2490.5 1750.9H2474.0M1920.4 1706.5H1936.9M2490.5 1706.5H2474.0M1920.4 1662.1H1953.4M2490.5 1662.1H2457.5M1920.4 1617.7H1936.9M2490.5 1617.7H2474.0M1920.4 1573.2H1936.9M2490.5 1573.2H2474.0M1920.4 1528.8H1936.9M2490.5 1528.8H2474.0M1920.4 1484.4H1936.9M2490.5 1484.4H2474.0M1920.4 1440.0H1953.4M2490.5 1440.0H2457.5M1920.4 1395.6H1936.9M2490.5 1395.6H2474.0M1920.4 1351.2H1936.9M2490.5 1351.2H2474.0M1920.4 1306.8H1936.9M2490.5 1306.8H2474.0M1920.4 1262.3H1936.9M2490.5 1262.3H2474.0M1920.4 1217.9H1953.4M2490.5 1217.9H2457.5M1920.4 1173.5H1936.9M2490.5 1173.5H2474.0M1920.4 1129.1H1936.9M2490.5 1129.1H2474.0M1920.4 1084.7H1936.9M2490.5 1084.7H2474.0M1920.4 1040.3H1936.9M2490.5 1040.3H2474.0M1920.4 995.9H1953.4M2490.5 995.9H2457.5M1920.4 951.4H1936.9M2490.5 951.4H2474.0M1920.4 907.0H1936.9M2490.5 907.0H2474.0M1920.4 862.6H1936.9M2490.5 862.6H2474.0M1920.4 818.2H1936.9M2490.5 818.2H2474.0M1920.4 773.8H1953.4M2490.5 773.8H2457.5M1920.4 729.4H1936.9M2490.5 729.4H2474.0M2760.0 2088.0H2743.5M2760.0 2016.0H2743.5M2760.0 1944.1H2743.5M2760.0 1872.1H2727.0M2760.0 1800.1H2743.5M2760.0 1728.1H2743.5M2760.0 1656.2H2743.5M2760.0 1584.2H2727.0M2760.0 1512.2H2743.5M2760.0 1440.2H2743.5M2760.0 1368.3H2743.5M2760.0 1296.3H2727.0M2760.0 1224.3H2743.5M2760.0 1152.3H2743.5M2760.0 1080.4H2743.5M2760.0 1008.4H2727.0M2760.0 936.4H2743.5M2760.0 864.5H2743.5M2760.0 792.5H2743.5"/>
<rect x="360.4" y="120.3" width="1440.1" height="480.0" fill="none" stroke="#000" stroke-width="3.0"/>
<rect x="360.4" y="720.5" width="1440.1" height="1439.5" fill="none" stroke="#000" stroke-width="3.0"/>
<rect x="1920.4" y="720.5" width="570.1" height="1439.5" fill="none" stroke="#000" stroke-width="3.0"/>
<text x="252.9" y="213.1" font-size="84.2" stroke-width="1.85" textLength="89.6" lengthAdjust="spacingAndGlyphs">500</text><text x="315.0" y="619.4" font-size="84.2" stroke-width="1.85" textLength="27.3" lengthAdjust="spacingAndGlyphs">0</text><text x="283.1" y="793.6" font-size="84.2" stroke-width="1.85" textLength="58.3" lengthAdjust="spacingAndGlyphs">75</text><text x="283.8" y="1015.7" font-size="84.2" stroke-width="1.85" textLength="58.3" lengthAdjust="spacingAndGlyphs">50</text><text x="283.5" y="1237.8" font-size="84.2" stroke-width="1.85" textLength="57.9" lengthAdjust="spacingAndGlyphs">25</text><text x="314.5" y="1459.9" font-size="84.2" stroke-width="1.85" textLength="27.5" lengthAdjust="spacingAndGlyphs">0</text><text x="283.5" y="1681.9" font-size="84.2" stroke-width="1.85" textLength="57.9" lengthAdjust="spacingAndGlyphs">25</text><rect x="235.9" y="1658.8" width="42.1" height="6.6"/><text x="283.8" y="1904.0" font-size="84.2" stroke-width="1.85" textLength="58.3" lengthAdjust="spacingAndGlyphs">50</text><rect x="235.9" y="1880.9" width="42.1" height="6.6"/><text x="283.1" y="2126.1" font-size="84.2" stroke-width="1.85" textLength="58.3" lengthAdjust="spacingAndGlyphs">75</text><rect x="235.9" y="2102.9" width="42.1" height="6.6"/><text x="323.0" y="2235.2" font-size="84.2" stroke-width="1.85" textLength="74.9" lengthAdjust="spacingAndGlyphs">0.0</text><text x="645.5" y="2235.2" font-size="84.2" stroke-width="1.85" textLength="74.2" lengthAdjust="spacingAndGlyphs">0.5</text><text x="966.7" y="2235.2" font-size="84.2" stroke-width="1.85" textLength="76.2" lengthAdjust="spacingAndGlyphs">1.0</text><text x="1289.2" y="2235.2" font-size="84.2" stroke-width="1.85" textLength="75.4" lengthAdjust="spacingAndGlyphs">1.5</text><text x="1613.2" y="2235.2" font-size="84.2" stroke-width="1.85" textLength="74.6" lengthAdjust="spacingAndGlyphs">2.0</text><text transform="translate(656.6 2344.2) scale(0.5682 1)" font-size="105.6" stroke-width="2.32" letter-spacing="7.36">Lateral displacement (nm)</text><text transform="translate(190.8 1776.5) rotate(-90) scale(0.5595 1)" font-size="106.1" stroke-width="2.33" letter-spacing="7.62">Precession (degrees)</text><text transform="translate(210.5 505.1) rotate(-90) scale(0.5617 1)" font-size="103.5" stroke-width="2.28" letter-spacing="8.51"># Counts</text><text x="1906.6" y="2234.7" font-size="84.2" stroke-width="1.85" textLength="27.6" lengthAdjust="spacingAndGlyphs">0</text><text x="2303.8" y="2234.7" font-size="84.2" stroke-width="1.85" textLength="89.5" lengthAdjust="spacingAndGlyphs">500</text><text transform="translate(2066.5 2343.2) scale(0.5496 1)" font-size="103.5" stroke-width="2.28" letter-spacing="8.51"># Counts</text><text x="2779.4" y="2179.6" font-size="84.2" stroke-width="1.85" textLength="73.8" lengthAdjust="spacingAndGlyphs">0.0</text><text x="2779.4" y="1891.7" font-size="84.2" stroke-width="1.85" textLength="73.7" lengthAdjust="spacingAndGlyphs">0.2</text><text x="2779.5" y="1603.8" font-size="84.2" stroke-width="1.85" textLength="71.9" lengthAdjust="spacingAndGlyphs">0.4</text><text x="2779.4" y="1315.9" font-size="84.2" stroke-width="1.85" textLength="73.5" lengthAdjust="spacingAndGlyphs">0.6</text><text x="2779.4" y="1028.0" font-size="84.2" stroke-width="1.85" textLength="73.2" lengthAdjust="spacingAndGlyphs">0.8</text><text x="2781.8" y="740.1" font-size="84.2" stroke-width="1.85" textLength="69.6" lengthAdjust="spacingAndGlyphs">1.0</text><text transform="translate(2930.1 1733.3) rotate(-90) scale(0.5701 1)" font-size="83.7" stroke-width="1.84" letter-spacing="6.44">Normalized Mean Time</text><text transform="translate(1919.4 279.5) scale(0.5375 1)" font-size="125.4" stroke-width="2.76" letter-spacing="13.10">PepDF</text><text transform="translate(1921.6 432.1) scale(0.5657 1)" font-size="104.4" stroke-width="2.30" letter-spacing="7.85">Time window: 5 ns</text>
</svg></body></html>
